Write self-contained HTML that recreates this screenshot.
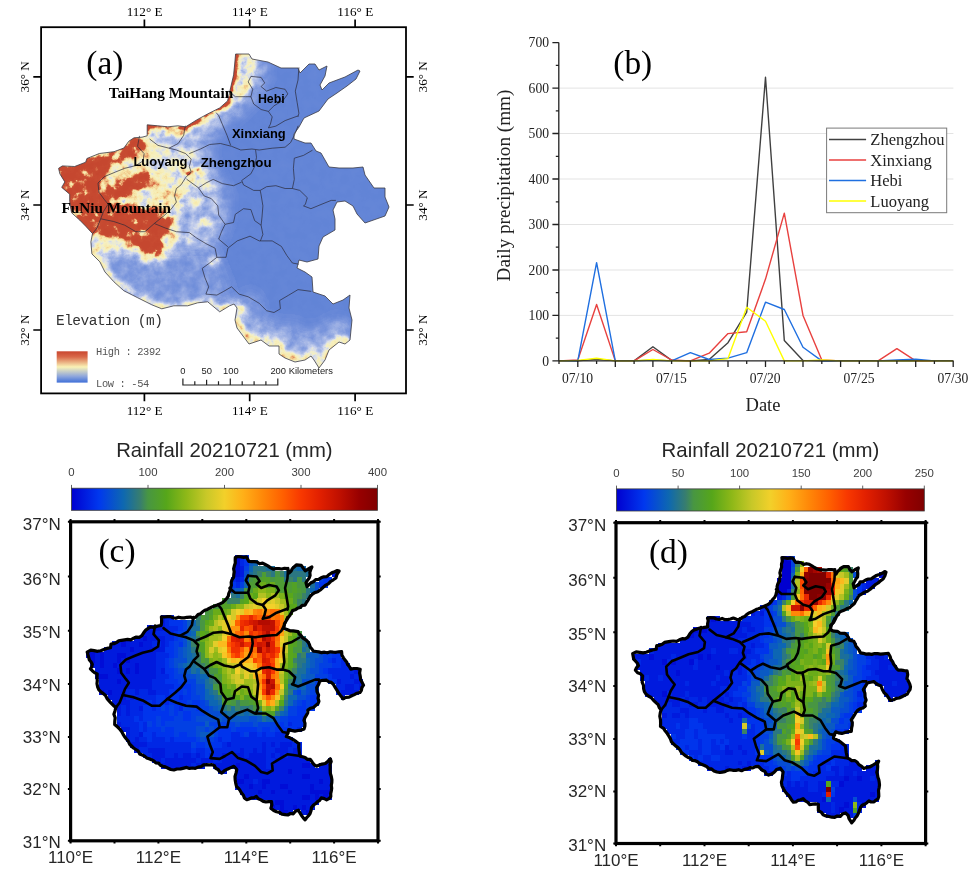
<!DOCTYPE html>
<html lang="en"><head><meta charset="utf-8"><title>Henan rainfall figure</title>
<style>html,body{margin:0;padding:0;background:#fff}svg{display:block}</style></head><body>
<svg width="977" height="877" viewBox="0 0 977 877">
<rect width="977" height="877" fill="#fff"/>
<g id="pa">
<defs>
<clipPath id="prov"><path d="M58.6,168.3L62.3,165.9L74.6,166.5L85.7,162.2L86.9,158.5L99.3,153.5L114,151.7L123.9,148L128.8,141.2L134,137.8L142,137.2L147.2,135.8L147.2,124.8L157.8,125.8L167.8,126.8L177.8,125.8L185.7,126.8L196.7,119.9L207.7,113.9L219.7,107.9L227.6,100.9L230.6,87.9L233.6,74.9L234.6,65L235.6,54L249,54L252,59L268,62L281,68L298,68L300,73L309,64L315,64L319,70L327,66L325,76L320,85L322,90L329,83L345,77L358,70L360,71L356,79L347,86L337,93L328,99L319,111L304,118L299,127L294,134L294,139L305,143L311,143L316,151L321,153L329,167L339,168L353,168L363,167L365,175L374,188L385,188L385,197L389,207L385,216L365,223L357,214L353,206L345,201L337,202L333,210L335,219L335,230L323,237L319,246L318,259L307,262L299,260L297,268L305,272L312,277L313,292L325,296L333,304L343,300L350,295L349,308L352,320L350,340L345,344L339,342L329,350L325,360L319,368L314,360L311,356L305,360L295,362L285,358L279,354L279,346L269,346L261,340L249,344L243,336L237,328L235,320L237,308L234,304L229.6,305.8L219.7,311.8L207.7,301.8L197.7,302.8L187.7,305.8L173.8,305.8L161.8,308.8L151.8,304.8L137.8,297.8L123.9,290.8L113.9,281.8L104.9,271.9L99.9,261.9L91.9,253.9L90.9,241.9L92.5,233.6L85.7,226.2L79.6,220L71.5,212.7L69.7,201.6L69.7,194.2L61.7,187.4L64.8,181.9L59.9,173.9Z"/></clipPath>
<filter id="b8" x="-50%" y="-50%" width="200%" height="200%"><feGaussianBlur stdDeviation="7"/></filter>
<filter id="b4" x="-50%" y="-50%" width="200%" height="200%"><feGaussianBlur stdDeviation="4"/></filter>
<filter id="b2" x="-50%" y="-50%" width="200%" height="200%"><feGaussianBlur stdDeviation="2.2"/></filter>
<filter id="b1" x="-50%" y="-50%" width="200%" height="200%"><feGaussianBlur stdDeviation="1.2"/></filter>
<linearGradient id="elev" x1="0" y1="0" x2="0" y2="1"><stop offset="0" stop-color="#c9462f"/><stop offset="0.18" stop-color="#d9694a"/><stop offset="0.5" stop-color="#faf3b6"/><stop offset="0.8" stop-color="#8ea6dc"/><stop offset="1" stop-color="#3f6fd8"/></linearGradient>
</defs>
<filter id="terrain" x="0" y="0" width="100%" height="100%" color-interpolation-filters="sRGB"><feTurbulence type="fractalNoise" baseFrequency="0.1" numOctaves="5" seed="8" result="n"/><feColorMatrix in="n" type="matrix" values="1.5 0 0 0 -0.25  1.5 0 0 0 -0.25  1.5 0 0 0 -0.25  0 0 0 0 1" result="ng"/><feComposite in="SourceGraphic" in2="ng" operator="arithmetic" k1="1.0" k2="0.5" k3="0" k4="0" result="h"/><feComponentTransfer in="h" result="col"><feFuncR type="table" tableValues="0.373 0.410 0.448 0.486 0.544 0.601 0.659 0.731 0.803 0.871 0.933 0.965 0.967 0.969 0.955 0.941 0.894 0.847 0.816 0.784 0.783 0.782 0.780 0.779 0.778 0.776"/><feFuncG type="table" tableValues="0.510 0.537 0.565 0.592 0.637 0.681 0.725 0.780 0.835 0.884 0.927 0.942 0.928 0.914 0.833 0.753 0.596 0.439 0.369 0.298 0.295 0.293 0.290 0.288 0.285 0.282"/><feFuncB type="table" tableValues="0.839 0.848 0.858 0.867 0.880 0.893 0.906 0.917 0.928 0.894 0.816 0.756 0.715 0.675 0.596 0.518 0.404 0.290 0.243 0.196 0.195 0.193 0.192 0.191 0.190 0.188"/><feFuncA type="linear" slope="0" intercept="1"/></feComponentTransfer></filter>
<g clip-path="url(#prov)"><g filter="url(#terrain)">
<rect x="30" y="20" width="390" height="380" fill="#050505"/>
<path d="M50,160L130,128L150,116L190,118L215,103L230,85L236,48L266,52L266,80L254,100L240,114L220,128L208,150L216,170L228,195L226,225L214,250L200,268L170,270L140,268L110,270L80,255L50,205Z" fill="#3d3d3d" filter="url(#b8)"/>
<path d="M92,252L215,248L228,280L238,314L150,318L106,294Z" fill="#212121" filter="url(#b8)"/>
<path d="M234,304L237,308L235,320L237,328L243,336L249,344L261,340L269,346L279,346L279,354L285,358L295,362L305,360L311,356L314,360L319,368L325,360L329,350L339,342L345,344L350,340" fill="none" stroke="#333333" stroke-width="44" filter="url(#b8)"/>
<path d="M234,304L237,308L235,320L237,328L243,336L249,344L261,340L269,346L279,346L279,354L285,358L295,362L305,360L311,356L314,360L319,368L325,360L329,350L339,342L345,344L350,340" fill="none" stroke="#757575" stroke-width="13" filter="url(#b2)"/>
<path d="M234,304L219.7,311.8L207.7,301.8L187.7,305.8L161.8,308.8L137.8,297.8L113.9,281.8L99.9,261.9L91,245" fill="none" stroke="#666666" stroke-width="9" filter="url(#b2)"/>
<path d="M50,160L130,128L147,118L186,120L187,134L180,146L190,158L201,166L206,175L198,184L188,190L182,205L177,222L179,238L171,252L161,263L147,264L131,254L113,248L105,264L97,260L88,242L50,205Z" fill="#757575" filter="url(#b4)"/>
<ellipse cx="171" cy="157" rx="22" ry="11" fill="#5c5c5c" filter="url(#b4)"/>
<ellipse cx="168" cy="141" rx="14" ry="5" fill="#383838" filter="url(#b2)"/>
<path d="M238,48L256,52L256,74L248,92L238,104L228,104L232,80Z" fill="#6b6b6b" filter="url(#b2)"/>
<ellipse cx="196" cy="200" rx="8" ry="5" fill="#666666" filter="url(#b2)"/>
<ellipse cx="205" cy="222" rx="7" ry="4" fill="#666666" filter="url(#b2)"/>
<ellipse cx="188" cy="238" rx="6" ry="4" fill="#666666" filter="url(#b2)"/>
<ellipse cx="214" cy="262" rx="9" ry="4" fill="#666666" filter="url(#b2)"/>
<ellipse cx="196" cy="172" rx="10" ry="4" fill="#666666" filter="url(#b2)"/>
<ellipse cx="208" cy="188" rx="7" ry="4" fill="#666666" filter="url(#b2)"/>
<path d="M55,166L75,166L86,160L100,154L114,152L124,148L130,141L141,138L145,146L138,154L126,158L114,164L105,172L100,182L101,192L108,200L110,210L104,218L100,228L92,236L78,224L68,208L60,190Z" fill="#e6e6e6" filter="url(#b2)"/>
<path d="M106,188L120,180L136,174L148,172L152,178L142,188L126,196L108,200Z" fill="#e6e6e6" filter="url(#b2)"/>
<path d="M102,204L120,203L138,206L152,208L166,212L174,222L166,232L160,240L162,250L158,258L146,252L134,242L116,236L100,234Z" fill="#e6e6e6" filter="url(#b2)"/>
<path d="M147.2,135.8L147.2,124.8L167.8,126.8L185.7,126.8L196.7,119.9L207.7,113.9L219.7,107.9L227.6,100.9L230.6,87.9L233.6,74.9L234.6,65L235.6,54" fill="none" stroke="#737373" stroke-width="13" filter="url(#b1)"/>
<path d="M147.2,135.8L147.2,124.8L167.8,126.8L185.7,126.8L196.7,119.9L207.7,113.9L219.7,107.9L227.6,100.9L230.6,87.9L233.6,74.9L234.6,65L235.6,54" fill="none" stroke="#cccccc" stroke-width="5" filter="url(#b1)"/>
<path d="M186,175 L200,168" stroke="#bfbfbf" stroke-width="3" filter="url(#b1)"/>
</g></g>
<path d="M149.6,139.0L158.0,145.4L169.0,148.2L178.2,143.5L183.7,135.3L184.7,128.8L185.5,125.7" fill="none" stroke="#2a2a3a" stroke-width="0.7" stroke-linejoin="round"/>
<path d="M139.5,135.9L137.6,146.3L144.1,153.6L143.1,160.9L135.8,165.6L124.7,168.3L115.5,172.0L104.4,176.6L98.0,183.0L98.9,192.2L104.4,199.6L108.1,204.1L103.5,211.5L100.7,218.8L97.0,228.0L92.4,233.8" fill="none" stroke="#2a2a3a" stroke-width="0.7" stroke-linejoin="round"/>
<path d="M169.0,148.2L176.4,150.0L185.7,153.6L191.2,159.1L189.3,166.5L191.2,172.0L185.7,177.5L181.0,184.9L176.4,188.5L174.5,195.9L176.4,202.1L170.8,209.6L163.5,216.1L154.3,223.5L145.0,231.7L135.8,231.7L124.7,225.2L113.7,221.5L100.7,218.8" fill="none" stroke="#2a2a3a" stroke-width="0.7" stroke-linejoin="round"/>
<path d="M189.3,153.6L200.4,149.0L209.6,144.5L220.5,143.5L231.5,146.3L240.8,150.0L251.9,149.0L259.2,150.0L272.2,148.2L285.1,147.2L290.6,142.6L294.3,135.3L298.2,125.7" fill="none" stroke="#2a2a3a" stroke-width="0.7" stroke-linejoin="round"/>
<path d="M216.1,112.6L218.7,115.6L222.3,124.2L227.0,135.3L230.7,145.4" fill="none" stroke="#2a2a3a" stroke-width="0.7" stroke-linejoin="round"/>
<path d="M186.5,179.1L198.5,187.8L205.9,183.0L213.2,179.4L222.3,183.6L233.5,185.7L241.7,182.1" fill="none" stroke="#2a2a3a" stroke-width="0.7" stroke-linejoin="round"/>
<path d="M255.6,150.0L256.5,157.3L254.7,166.5L250.9,173.8L241.7,180.5L243.5,184.9L253.7,190.4L260.2,190.4" fill="none" stroke="#2a2a3a" stroke-width="0.7" stroke-linejoin="round"/>
<path d="M198.5,187.8L204.1,195.9L211.3,198.6L217.8,205.9L218.7,215.1L225.1,224.3L221.5,231.7L218.7,239.1L227.9,246.8" fill="none" stroke="#2a2a3a" stroke-width="0.7" stroke-linejoin="round"/>
<path d="M225.1,224.3L233.5,222.5L235.3,214.3L243.5,208.7L250.9,209.6L254.7,220.7L261.1,225.2" fill="none" stroke="#2a2a3a" stroke-width="0.7" stroke-linejoin="round"/>
<path d="M260.2,190.4L261.1,194.9L262.9,205.9L262.0,217.0L261.1,225.2L262.9,234.4L260.4,240.9" fill="none" stroke="#2a2a3a" stroke-width="0.7" stroke-linejoin="round"/>
<path d="M260.2,190.4L266.6,186.7L275.9,185.7L285.1,188.5L292.4,188.5" fill="none" stroke="#2a2a3a" stroke-width="0.7" stroke-linejoin="round"/>
<path d="M312.5,150.2L303.5,155.4L294.3,158.2L293.4,168.3L294.3,179.3L292.4,188.5L299.8,190.4L307.3,197.7L305.3,204.5L303.5,205.9L310.9,208.7L322.0,204.1L331.2,200.4L335.9,200.4" fill="none" stroke="#2a2a3a" stroke-width="0.7" stroke-linejoin="round"/>
<path d="M154.3,223.5L165.3,228.0L176.4,231.7L189.3,232.6L196.7,238.1L205.9,243.6L215.1,248.2L216.9,257.3L209.6,263.0L202.2,268.4L204.9,277.6L208.7,286.8L205.9,294.1L216.9,295.1L223.3,291.6L231.5,286.8L239.0,294.1L248.2,296.8L259.2,303.3L266.6,310.7L274.0,312.5L280.4,308.8L279.6,300.5L288.8,295.1L298.0,289.6L311.3,291.4" fill="none" stroke="#2a2a3a" stroke-width="0.7" stroke-linejoin="round"/>
<path d="M216.9,257.3L226.0,257.3L227.9,248.2L237.2,240.9L250.0,236.2L259.2,240.9L272.2,240.9L281.4,246.4L286.9,255.6L292.4,263.0L298.8,264.2" fill="none" stroke="#2a2a3a" stroke-width="0.7" stroke-linejoin="round"/>
<path d="M298.9,67.3L298.0,80.1L295.3,91.1L297.1,102.2L298.9,113.2L298.0,116.9" fill="none" stroke="#2a2a3a" stroke-width="0.7" stroke-linejoin="round"/>
<path d="M250.9,76.4L261.1,77.4L264.7,82.9L261.1,86.6L266.6,91.1L275.9,87.5L285.1,89.3L287.8,93.9L283.2,100.3L274.0,105.8L268.4,111.4L272.2,116.9L270.4,124.2L268.4,127.9L275.9,126.1L285.1,120.6L298.0,115.9" fill="none" stroke="#2a2a3a" stroke-width="0.7" stroke-linejoin="round"/>
<path d="M250.9,76.4L248.2,81.9L252.7,89.3L250.9,96.7L253.7,104.0L261.1,109.5L268.4,111.4" fill="none" stroke="#2a2a3a" stroke-width="0.7" stroke-linejoin="round"/>
<path d="M228.7,91.1L235.3,96.7L245.4,96.7L250.9,96.7" fill="none" stroke="#2a2a3a" stroke-width="0.7" stroke-linejoin="round"/>
<path d="M58.6,168.3L62.3,165.9L74.6,166.5L85.7,162.2L86.9,158.5L99.3,153.5L114,151.7L123.9,148L128.8,141.2L134,137.8L142,137.2L147.2,135.8L147.2,124.8L157.8,125.8L167.8,126.8L177.8,125.8L185.7,126.8L196.7,119.9L207.7,113.9L219.7,107.9L227.6,100.9L230.6,87.9L233.6,74.9L234.6,65L235.6,54L249,54L252,59L268,62L281,68L298,68L300,73L309,64L315,64L319,70L327,66L325,76L320,85L322,90L329,83L345,77L358,70L360,71L356,79L347,86L337,93L328,99L319,111L304,118L299,127L294,134L294,139L305,143L311,143L316,151L321,153L329,167L339,168L353,168L363,167L365,175L374,188L385,188L385,197L389,207L385,216L365,223L357,214L353,206L345,201L337,202L333,210L335,219L335,230L323,237L319,246L318,259L307,262L299,260L297,268L305,272L312,277L313,292L325,296L333,304L343,300L350,295L349,308L352,320L350,340L345,344L339,342L329,350L325,360L319,368L314,360L311,356L305,360L295,362L285,358L279,354L279,346L269,346L261,340L249,344L243,336L237,328L235,320L237,308L234,304L229.6,305.8L219.7,311.8L207.7,301.8L197.7,302.8L187.7,305.8L173.8,305.8L161.8,308.8L151.8,304.8L137.8,297.8L123.9,290.8L113.9,281.8L104.9,271.9L99.9,261.9L91.9,253.9L90.9,241.9L92.5,233.6L85.7,226.2L79.6,220L71.5,212.7L69.7,201.6L69.7,194.2L61.7,187.4L64.8,181.9L59.9,173.9Z" fill="none" stroke="#3a3a44" stroke-width="0.8" stroke-linejoin="round"/>
<rect x="41.1" y="27.2" width="364.9" height="366.2" fill="none" stroke="#000" stroke-width="1.8"/>
<path d="M144.4,19.6V27.2M144.4,393.4V401.2M249.7,19.6V27.2M249.7,393.4V401.2M355.1,19.6V27.2M355.1,393.4V401.2M33.3,76.8H41.1M406,76.8H413.7M33.3,205.0H41.1M406,205.0H413.7M33.3,330.0H41.1M406,330.0H413.7" stroke="#000" stroke-width="1.7" fill="none"/>
<text x="144.6" y="16" text-anchor="middle" font-family='"Liberation Serif", serif' font-size="13.2">112° E</text>
<text x="144.6" y="414.9" text-anchor="middle" font-family='"Liberation Serif", serif' font-size="13.2">112° E</text>
<text x="249.9" y="16" text-anchor="middle" font-family='"Liberation Serif", serif' font-size="13.2">114° E</text>
<text x="249.9" y="414.9" text-anchor="middle" font-family='"Liberation Serif", serif' font-size="13.2">114° E</text>
<text x="355.3" y="16" text-anchor="middle" font-family='"Liberation Serif", serif' font-size="13.2">116° E</text>
<text x="355.3" y="414.9" text-anchor="middle" font-family='"Liberation Serif", serif' font-size="13.2">116° E</text>
<text transform="translate(29.2,76.8) rotate(-90)" text-anchor="middle" font-family='"Liberation Serif", serif' font-size="13.2">36° N</text>
<text transform="translate(426.7,76.8) rotate(-90)" text-anchor="middle" font-family='"Liberation Serif", serif' font-size="13.2">36° N</text>
<text transform="translate(29.2,205.0) rotate(-90)" text-anchor="middle" font-family='"Liberation Serif", serif' font-size="13.2">34° N</text>
<text transform="translate(426.7,205.0) rotate(-90)" text-anchor="middle" font-family='"Liberation Serif", serif' font-size="13.2">34° N</text>
<text transform="translate(29.2,330.0) rotate(-90)" text-anchor="middle" font-family='"Liberation Serif", serif' font-size="13.2">32° N</text>
<text transform="translate(426.7,330.0) rotate(-90)" text-anchor="middle" font-family='"Liberation Serif", serif' font-size="13.2">32° N</text>
<text x="86.3" y="73.6" font-family='"Liberation Serif", serif' font-size="33.4">(a)</text>
<text x="108.7" y="98" font-family='"Liberation Serif", serif' font-weight="bold" font-size="15.25">TaiHang Mountain</text>
<text x="61.6" y="213" font-family='"Liberation Serif", serif' font-weight="bold" font-size="15.2">FuNiu Mountain</text>
<text x="257.9" y="103.3" font-family='"Liberation Sans", sans-serif' font-weight="bold" font-size="12.4">Hebi</text>
<text x="232" y="138.4" font-family='"Liberation Sans", sans-serif' font-weight="bold" font-size="12.9">Xinxiang</text>
<text x="200.7" y="166.8" font-family='"Liberation Sans", sans-serif' font-weight="bold" font-size="13.3">Zhengzhou</text>
<text x="133.4" y="165.8" font-family='"Liberation Sans", sans-serif' font-weight="bold" font-size="13">Luoyang</text>
<text x="56" y="325.2" font-family='"Liberation Mono", monospace' font-size="14.5" letter-spacing="-0.52" fill="#333">Elevation (m)</text>
<rect x="56.7" y="351.3" width="30.9" height="31.3" fill="url(#elev)"/>
<text x="96.1" y="355.2" font-family='"Liberation Mono", monospace' font-size="10.4" letter-spacing="-0.37" fill="#555">High : 2392</text>
<text x="96.1" y="386.7" font-family='"Liberation Mono", monospace' font-size="10.4" letter-spacing="-0.37" fill="#555">Low : -54</text>
<path d="M182.9,378.4V385H277.8V378.4M194.8,381.3V385M206.6,379.8V385M218.5,381.3V385M230.3,378.4V385M242.2,381.3V385M254.1,381.3V385M265.9,381.3V385" fill="none" stroke="#222" stroke-width="1.2"/>
<text x="182.9" y="374.3" text-anchor="middle" font-family='"Liberation Sans", sans-serif' font-size="9.4" fill="#222">0</text>
<text x="206.8" y="374.3" text-anchor="middle" font-family='"Liberation Sans", sans-serif' font-size="9.4" fill="#222">50</text>
<text x="230.8" y="374.3" text-anchor="middle" font-family='"Liberation Sans", sans-serif' font-size="9.4" fill="#222">100</text>
<text x="270.4" y="374.3" text-anchor="start" font-family='"Liberation Sans", sans-serif' font-size="9.4" fill="#222">200 Kilometers</text>
</g>
<g id="pb">
<path d="M558.8,315.4H953.4" stroke="#e3e3e3" stroke-width="1"/>
<path d="M558.8,270.0H953.4" stroke="#e3e3e3" stroke-width="1"/>
<path d="M558.8,224.5H953.4" stroke="#e3e3e3" stroke-width="1"/>
<path d="M558.8,179.0H953.4" stroke="#e3e3e3" stroke-width="1"/>
<path d="M558.8,133.5H953.4" stroke="#e3e3e3" stroke-width="1"/>
<path d="M558.8,88.1H953.4" stroke="#e3e3e3" stroke-width="1"/>
<path d="M559.0,360.9L577.8,360.9L596.6,359.1L615.3,360.9L634.1,360.9L652.9,346.8L671.6,360.4L690.4,360.9L709.2,359.5L728.0,342.7L746.7,312.2L765.5,77.2L784.3,340.4L803.0,360.4L821.8,360.9L840.6,360.9L859.3,360.9L878.1,360.9L896.9,360.9L915.7,360.9L934.4,360.9L953.2,360.9" fill="none" stroke="#404040" stroke-width="1.4" stroke-linejoin="round"/>
<path d="M559.0,360.9L577.8,360.0L596.6,304.5L615.3,360.9L634.1,360.9L652.9,349.5L671.6,360.0L690.4,360.9L709.2,353.2L728.0,333.6L746.7,331.8L765.5,279.1L784.3,213.1L803.0,315.4L821.8,360.0L840.6,360.9L859.3,360.9L878.1,360.9L896.9,348.6L915.7,360.9L934.4,360.9L953.2,360.9" fill="none" stroke="#e8413f" stroke-width="1.4" stroke-linejoin="round"/>
<path d="M559.0,360.9L577.8,360.9L596.6,262.7L615.3,360.9L634.1,360.9L652.9,360.0L671.6,360.9L690.4,352.7L709.2,359.5L728.0,358.2L746.7,352.7L765.5,302.2L784.3,309.5L803.0,347.3L821.8,360.9L840.6,360.9L859.3,360.9L878.1,360.9L896.9,360.0L915.7,359.1L934.4,360.9L953.2,360.9" fill="none" stroke="#1f6fe0" stroke-width="1.4" stroke-linejoin="round"/>
<path d="M559.0,360.9L577.8,360.4L596.6,358.2L615.3,360.9L634.1,360.9L652.9,359.5L671.6,360.9L690.4,360.9L709.2,360.9L728.0,358.6L746.7,307.2L765.5,321.3L784.3,360.9L803.0,360.9L821.8,360.0L840.6,360.9L859.3,360.9L878.1,360.9L896.9,360.9L915.7,360.9L934.4,360.9L953.2,360.9" fill="none" stroke="#ffff00" stroke-width="1.4" stroke-linejoin="round"/>
<path d="M558.8,42.6V360.9H953.4M552.4,360.9H558.8M555.8,338.2H558.8M552.4,315.4H558.8M555.8,292.7H558.8M552.4,270.0H558.8M555.8,247.2H558.8M552.4,224.5H558.8M555.8,201.8H558.8M552.4,179.0H558.8M555.8,156.3H558.8M552.4,133.5H558.8M555.8,110.8H558.8M552.4,88.1H558.8M555.8,65.3H558.8M552.4,42.6H558.8M559.0,360.9V363.9M577.8,360.9V367.09999999999997M596.6,360.9V363.9M615.3,360.9V367.09999999999997M634.1,360.9V363.9M652.9,360.9V367.09999999999997M671.6,360.9V363.9M690.4,360.9V367.09999999999997M709.2,360.9V363.9M728.0,360.9V367.09999999999997M746.7,360.9V363.9M765.5,360.9V367.09999999999997M784.3,360.9V363.9M803.0,360.9V367.09999999999997M821.8,360.9V363.9M840.6,360.9V367.09999999999997M859.3,360.9V363.9M878.1,360.9V367.09999999999997M896.9,360.9V363.9M915.7,360.9V367.09999999999997M934.4,360.9V363.9M953.2,360.9V367.09999999999997" fill="none" stroke="#222" stroke-width="1.3"/>
<text x="549" y="365.5" text-anchor="end" font-family='"Liberation Serif", serif' font-size="13.6" fill="#222">0</text>
<text x="549" y="320.0" text-anchor="end" font-family='"Liberation Serif", serif' font-size="13.6" fill="#222">100</text>
<text x="549" y="274.6" text-anchor="end" font-family='"Liberation Serif", serif' font-size="13.6" fill="#222">200</text>
<text x="549" y="229.1" text-anchor="end" font-family='"Liberation Serif", serif' font-size="13.6" fill="#222">300</text>
<text x="549" y="183.6" text-anchor="end" font-family='"Liberation Serif", serif' font-size="13.6" fill="#222">400</text>
<text x="549" y="138.1" text-anchor="end" font-family='"Liberation Serif", serif' font-size="13.6" fill="#222">500</text>
<text x="549" y="92.7" text-anchor="end" font-family='"Liberation Serif", serif' font-size="13.6" fill="#222">600</text>
<text x="549" y="47.2" text-anchor="end" font-family='"Liberation Serif", serif' font-size="13.6" fill="#222">700</text>
<text x="577.5" y="383" text-anchor="middle" font-family='"Liberation Serif", serif' font-size="13.6" fill="#222">07/10</text>
<text x="671.4" y="383" text-anchor="middle" font-family='"Liberation Serif", serif' font-size="13.6" fill="#222">07/15</text>
<text x="765.2" y="383" text-anchor="middle" font-family='"Liberation Serif", serif' font-size="13.6" fill="#222">07/20</text>
<text x="859.0" y="383" text-anchor="middle" font-family='"Liberation Serif", serif' font-size="13.6" fill="#222">07/25</text>
<text x="952.9" y="383" text-anchor="middle" font-family='"Liberation Serif", serif' font-size="13.6" fill="#222">07/30</text>
<text x="763" y="410.8" text-anchor="middle" font-family='"Liberation Serif", serif' font-size="18.5" fill="#222">Date</text>
<text transform="translate(509.6,185.5) rotate(-90)" text-anchor="middle" font-family='"Liberation Serif", serif' font-size="19.2" fill="#222">Daily precipitation (mm)</text>
<text x="613.3" y="73.8" font-family='"Liberation Serif", serif' font-size="33.4">(b)</text>
<rect x="826.6" y="128.1" width="120.1" height="84.6" fill="#fff" stroke="#7a7a7a" stroke-width="1"/>
<path d="M829,139.5H866.1" stroke="#404040" stroke-width="1.5"/>
<text x="870.3" y="145.3" font-family='"Liberation Serif", serif' font-size="16.5" fill="#222">Zhengzhou</text>
<path d="M829,160.0H866.1" stroke="#e8413f" stroke-width="1.5"/>
<text x="870.3" y="165.8" font-family='"Liberation Serif", serif' font-size="16.5" fill="#222">Xinxiang</text>
<path d="M829,180.4H866.1" stroke="#1f6fe0" stroke-width="1.5"/>
<text x="870.3" y="186.2" font-family='"Liberation Serif", serif' font-size="16.5" fill="#222">Hebi</text>
<path d="M829,200.9H866.1" stroke="#ffff00" stroke-width="1.5"/>
<text x="870.3" y="206.7" font-family='"Liberation Serif", serif' font-size="16.5" fill="#222">Luoyang</text>
</g>
<g id="pc">
<text x="224.4" y="457" text-anchor="middle" font-family='"Liberation Sans", sans-serif' font-size="20.3" fill="#262626">Rainfall 20210721 (mm)</text>
<defs><linearGradient id="cbpc" x1="0" y1="0" x2="1" y2="0"><stop offset="0" stop-color="#0000d0"/><stop offset="0.09" stop-color="#0038ee"/><stop offset="0.17" stop-color="#0e68b0"/><stop offset="0.225" stop-color="#387e6e"/><stop offset="0.25" stop-color="#489642"/><stop offset="0.31" stop-color="#56a61a"/><stop offset="0.375" stop-color="#8eb818"/><stop offset="0.44" stop-color="#c8c828"/><stop offset="0.5" stop-color="#f2d02a"/><stop offset="0.56" stop-color="#ffb018"/><stop offset="0.625" stop-color="#ff8808"/><stop offset="0.69" stop-color="#ff6000"/><stop offset="0.75" stop-color="#f83800"/><stop offset="0.81" stop-color="#e22000"/><stop offset="0.875" stop-color="#c01000"/><stop offset="0.94" stop-color="#980000"/><stop offset="1" stop-color="#800000"/></linearGradient></defs>
<rect x="71.5" y="488.2" width="306.0" height="22.1" fill="url(#cbpc)" stroke="#3a3a3a" stroke-width="0.8"/>
<text x="71.5" y="476.1" text-anchor="middle" font-family='"Liberation Sans", sans-serif' font-size="11.4" fill="#404040">0</text>
<text x="148.0" y="476.1" text-anchor="middle" font-family='"Liberation Sans", sans-serif' font-size="11.4" fill="#404040">100</text>
<text x="224.5" y="476.1" text-anchor="middle" font-family='"Liberation Sans", sans-serif' font-size="11.4" fill="#404040">200</text>
<text x="301.0" y="476.1" text-anchor="middle" font-family='"Liberation Sans", sans-serif' font-size="11.4" fill="#404040">300</text>
<text x="377.5" y="476.1" text-anchor="middle" font-family='"Liberation Sans", sans-serif' font-size="11.4" fill="#404040">400</text>
<path d="M71.5,484.9V488.2M148.0,484.9V488.2M224.5,484.9V488.2M301.0,484.9V488.2M377.5,484.9V488.2" stroke="#3a3a3a" stroke-width="0.8"/>
<path d="M279.2,809.9h4.7v5.5h-4.7zM283.6,809.9h4.7v5.5h-4.7zM305.5,809.9h4.7v5.5h-4.7zM270.4,804.7h4.7v5.5h-4.7zM279.2,804.7h4.7v5.5h-4.7zM292.4,804.7h4.7v5.5h-4.7zM301.1,804.7h4.7v5.5h-4.7zM274.8,799.5h4.7v5.5h-4.7zM279.2,799.5h4.7v5.5h-4.7zM301.1,794.3h4.7v5.5h-4.7zM305.5,794.3h4.7v5.5h-4.7zM314.3,794.3h4.7v5.5h-4.7zM323.1,794.3h4.7v5.5h-4.7zM257.2,789.1h4.7v5.5h-4.7zM270.4,789.1h4.7v5.5h-4.7zM288.0,789.1h4.7v5.5h-4.7zM309.9,789.1h4.7v5.5h-4.7zM314.3,789.1h4.7v5.5h-4.7zM318.7,789.1h4.7v5.5h-4.7zM323.1,789.1h4.7v5.5h-4.7zM327.5,789.1h4.7v5.5h-4.7zM248.5,784.0h4.7v5.5h-4.7zM261.6,784.0h4.7v5.5h-4.7zM279.2,784.0h4.7v5.5h-4.7zM283.6,784.0h4.7v5.5h-4.7zM309.9,784.0h4.7v5.5h-4.7zM235.3,778.8h4.7v5.5h-4.7zM239.7,778.8h4.7v5.5h-4.7zM261.6,778.8h4.7v5.5h-4.7zM266.0,778.8h4.7v5.5h-4.7zM318.7,778.8h4.7v5.5h-4.7zM244.1,773.5h4.7v5.5h-4.7zM301.1,773.5h4.7v5.5h-4.7zM305.5,773.5h4.7v5.5h-4.7zM288.0,768.3h4.7v5.5h-4.7zM235.3,763.1h4.7v5.5h-4.7zM301.1,763.1h4.7v5.5h-4.7zM305.5,763.1h4.7v5.5h-4.7zM99.1,689.4h4.7v5.6h-4.7zM107.9,689.4h4.7v5.6h-4.7zM116.7,678.8h4.7v5.6h-4.7zM94.8,673.5h4.7v5.6h-4.7zM99.1,673.5h4.7v5.6h-4.7zM103.5,673.5h4.7v5.6h-4.7zM116.7,668.2h4.7v5.6h-4.7zM125.5,668.2h4.7v5.6h-4.7zM134.3,668.2h4.7v5.6h-4.7zM99.1,662.8h4.7v5.6h-4.7zM112.3,662.8h4.7v5.6h-4.7zM134.3,662.8h4.7v5.6h-4.7zM90.4,657.5h4.7v5.6h-4.7zM99.1,657.5h4.7v5.6h-4.7zM116.7,657.5h4.7v5.6h-4.7zM125.5,657.5h4.7v5.6h-4.7zM86.0,652.1h4.7v5.6h-4.7zM90.4,652.1h4.7v5.6h-4.7zM99.1,652.1h4.7v5.6h-4.7zM116.7,652.1h4.7v5.6h-4.7zM121.1,652.1h4.7v5.6h-4.7zM129.9,646.8h4.7v5.7h-4.7zM121.1,641.4h4.7v5.7h-4.7zM138.7,641.4h4.7v5.7h-4.7zM143.1,636.1h4.7v5.7h-4.7zM235.3,571.1h4.7v5.7h-4.7zM235.3,565.7h4.7v5.8h-4.7zM235.3,560.2h4.7v5.8h-4.7zM235.3,554.8h4.7v5.8h-4.7z" fill="#000dd7" shape-rendering="crispEdges"/>
<path d="M288.0,809.9h4.7v5.5h-4.7zM301.1,809.9h4.7v5.5h-4.7zM274.8,804.7h4.7v5.5h-4.7zM283.6,804.7h4.7v5.5h-4.7zM288.0,804.7h4.7v5.5h-4.7zM296.8,804.7h4.7v5.5h-4.7zM305.5,804.7h4.7v5.5h-4.7zM309.9,804.7h4.7v5.5h-4.7zM270.4,799.5h4.7v5.5h-4.7zM283.6,799.5h4.7v5.5h-4.7zM288.0,799.5h4.7v5.5h-4.7zM292.4,799.5h4.7v5.5h-4.7zM296.8,799.5h4.7v5.5h-4.7zM301.1,799.5h4.7v5.5h-4.7zM305.5,799.5h4.7v5.5h-4.7zM309.9,799.5h4.7v5.5h-4.7zM314.3,799.5h4.7v5.5h-4.7zM244.1,794.3h4.7v5.5h-4.7zM248.5,794.3h4.7v5.5h-4.7zM252.8,794.3h4.7v5.5h-4.7zM257.2,794.3h4.7v5.5h-4.7zM261.6,794.3h4.7v5.5h-4.7zM266.0,794.3h4.7v5.5h-4.7zM270.4,794.3h4.7v5.5h-4.7zM274.8,794.3h4.7v5.5h-4.7zM279.2,794.3h4.7v5.5h-4.7zM283.6,794.3h4.7v5.5h-4.7zM288.0,794.3h4.7v5.5h-4.7zM292.4,794.3h4.7v5.5h-4.7zM296.8,794.3h4.7v5.5h-4.7zM309.9,794.3h4.7v5.5h-4.7zM318.7,794.3h4.7v5.5h-4.7zM327.5,794.3h4.7v5.5h-4.7zM239.7,789.1h4.7v5.5h-4.7zM244.1,789.1h4.7v5.5h-4.7zM248.5,789.1h4.7v5.5h-4.7zM252.8,789.1h4.7v5.5h-4.7zM261.6,789.1h4.7v5.5h-4.7zM266.0,789.1h4.7v5.5h-4.7zM274.8,789.1h4.7v5.5h-4.7zM279.2,789.1h4.7v5.5h-4.7zM283.6,789.1h4.7v5.5h-4.7zM292.4,789.1h4.7v5.5h-4.7zM296.8,789.1h4.7v5.5h-4.7zM301.1,789.1h4.7v5.5h-4.7zM305.5,789.1h4.7v5.5h-4.7zM235.3,784.0h4.7v5.5h-4.7zM239.7,784.0h4.7v5.5h-4.7zM244.1,784.0h4.7v5.5h-4.7zM252.8,784.0h4.7v5.5h-4.7zM257.2,784.0h4.7v5.5h-4.7zM266.0,784.0h4.7v5.5h-4.7zM270.4,784.0h4.7v5.5h-4.7zM274.8,784.0h4.7v5.5h-4.7zM288.0,784.0h4.7v5.5h-4.7zM292.4,784.0h4.7v5.5h-4.7zM296.8,784.0h4.7v5.5h-4.7zM301.1,784.0h4.7v5.5h-4.7zM305.5,784.0h4.7v5.5h-4.7zM314.3,784.0h4.7v5.5h-4.7zM318.7,784.0h4.7v5.5h-4.7zM323.1,784.0h4.7v5.5h-4.7zM327.5,784.0h4.7v5.5h-4.7zM244.1,778.8h4.7v5.5h-4.7zM248.5,778.8h4.7v5.5h-4.7zM257.2,778.8h4.7v5.5h-4.7zM270.4,778.8h4.7v5.5h-4.7zM274.8,778.8h4.7v5.5h-4.7zM279.2,778.8h4.7v5.5h-4.7zM283.6,778.8h4.7v5.5h-4.7zM288.0,778.8h4.7v5.5h-4.7zM292.4,778.8h4.7v5.5h-4.7zM296.8,778.8h4.7v5.5h-4.7zM301.1,778.8h4.7v5.5h-4.7zM305.5,778.8h4.7v5.5h-4.7zM309.9,778.8h4.7v5.5h-4.7zM314.3,778.8h4.7v5.5h-4.7zM323.1,778.8h4.7v5.5h-4.7zM327.5,778.8h4.7v5.5h-4.7zM235.3,773.5h4.7v5.5h-4.7zM239.7,773.5h4.7v5.5h-4.7zM248.5,773.5h4.7v5.5h-4.7zM252.8,773.5h4.7v5.5h-4.7zM257.2,773.5h4.7v5.5h-4.7zM261.6,773.5h4.7v5.5h-4.7zM266.0,773.5h4.7v5.5h-4.7zM270.4,773.5h4.7v5.5h-4.7zM274.8,773.5h4.7v5.5h-4.7zM279.2,773.5h4.7v5.5h-4.7zM283.6,773.5h4.7v5.5h-4.7zM288.0,773.5h4.7v5.5h-4.7zM292.4,773.5h4.7v5.5h-4.7zM296.8,773.5h4.7v5.5h-4.7zM309.9,773.5h4.7v5.5h-4.7zM314.3,773.5h4.7v5.5h-4.7zM318.7,773.5h4.7v5.5h-4.7zM323.1,773.5h4.7v5.5h-4.7zM327.5,773.5h4.7v5.5h-4.7zM217.7,768.3h4.7v5.5h-4.7zM222.1,768.3h4.7v5.5h-4.7zM235.3,768.3h4.7v5.5h-4.7zM239.7,768.3h4.7v5.5h-4.7zM244.1,768.3h4.7v5.5h-4.7zM248.5,768.3h4.7v5.5h-4.7zM252.8,768.3h4.7v5.5h-4.7zM257.2,768.3h4.7v5.5h-4.7zM261.6,768.3h4.7v5.5h-4.7zM266.0,768.3h4.7v5.5h-4.7zM270.4,768.3h4.7v5.5h-4.7zM274.8,768.3h4.7v5.5h-4.7zM279.2,768.3h4.7v5.5h-4.7zM283.6,768.3h4.7v5.5h-4.7zM292.4,768.3h4.7v5.5h-4.7zM296.8,768.3h4.7v5.5h-4.7zM301.1,768.3h4.7v5.5h-4.7zM305.5,768.3h4.7v5.5h-4.7zM309.9,768.3h4.7v5.5h-4.7zM314.3,768.3h4.7v5.5h-4.7zM318.7,768.3h4.7v5.5h-4.7zM323.1,768.3h4.7v5.5h-4.7zM327.5,768.3h4.7v5.5h-4.7zM160.6,763.1h4.7v5.5h-4.7zM165.0,763.1h4.7v5.5h-4.7zM169.4,763.1h4.7v5.5h-4.7zM173.8,763.1h4.7v5.5h-4.7zM178.2,763.1h4.7v5.5h-4.7zM182.6,763.1h4.7v5.5h-4.7zM187.0,763.1h4.7v5.5h-4.7zM195.8,763.1h4.7v5.5h-4.7zM200.1,763.1h4.7v5.5h-4.7zM213.3,763.1h4.7v5.5h-4.7zM217.7,763.1h4.7v5.5h-4.7zM222.1,763.1h4.7v5.5h-4.7zM226.5,763.1h4.7v5.5h-4.7zM230.9,763.1h4.7v5.5h-4.7zM239.7,763.1h4.7v5.5h-4.7zM244.1,763.1h4.7v5.5h-4.7zM248.5,763.1h4.7v5.5h-4.7zM252.8,763.1h4.7v5.5h-4.7zM257.2,763.1h4.7v5.5h-4.7zM261.6,763.1h4.7v5.5h-4.7zM270.4,763.1h4.7v5.5h-4.7zM274.8,763.1h4.7v5.5h-4.7zM279.2,763.1h4.7v5.5h-4.7zM283.6,763.1h4.7v5.5h-4.7zM288.0,763.1h4.7v5.5h-4.7zM292.4,763.1h4.7v5.5h-4.7zM296.8,763.1h4.7v5.5h-4.7zM309.9,763.1h4.7v5.5h-4.7zM318.7,763.1h4.7v5.5h-4.7zM323.1,763.1h4.7v5.5h-4.7zM327.5,763.1h4.7v5.5h-4.7zM151.8,757.9h4.7v5.5h-4.7zM156.2,757.9h4.7v5.5h-4.7zM165.0,757.9h4.7v5.5h-4.7zM169.4,757.9h4.7v5.5h-4.7zM173.8,757.9h4.7v5.5h-4.7zM178.2,757.9h4.7v5.5h-4.7zM182.6,757.9h4.7v5.5h-4.7zM187.0,757.9h4.7v5.5h-4.7zM191.4,757.9h4.7v5.5h-4.7zM200.1,757.9h4.7v5.5h-4.7zM204.5,757.9h4.7v5.5h-4.7zM208.9,757.9h4.7v5.5h-4.7zM222.1,757.9h4.7v5.5h-4.7zM226.5,757.9h4.7v5.5h-4.7zM230.9,757.9h4.7v5.5h-4.7zM235.3,757.9h4.7v5.5h-4.7zM239.7,757.9h4.7v5.5h-4.7zM244.1,757.9h4.7v5.5h-4.7zM248.5,757.9h4.7v5.5h-4.7zM252.8,757.9h4.7v5.5h-4.7zM257.2,757.9h4.7v5.5h-4.7zM261.6,757.9h4.7v5.5h-4.7zM274.8,757.9h4.7v5.5h-4.7zM279.2,757.9h4.7v5.5h-4.7zM283.6,757.9h4.7v5.5h-4.7zM288.0,757.9h4.7v5.5h-4.7zM292.4,757.9h4.7v5.5h-4.7zM296.8,757.9h4.7v5.5h-4.7zM301.1,757.9h4.7v5.5h-4.7zM305.5,757.9h4.7v5.5h-4.7zM327.5,757.9h4.7v5.5h-4.7zM151.8,752.7h4.7v5.5h-4.7zM156.2,752.7h4.7v5.5h-4.7zM160.6,752.7h4.7v5.5h-4.7zM173.8,752.7h4.7v5.5h-4.7zM182.6,752.7h4.7v5.5h-4.7zM187.0,752.7h4.7v5.5h-4.7zM195.8,752.7h4.7v5.5h-4.7zM222.1,752.7h4.7v5.5h-4.7zM226.5,752.7h4.7v5.5h-4.7zM230.9,752.7h4.7v5.5h-4.7zM235.3,752.7h4.7v5.5h-4.7zM239.7,752.7h4.7v5.5h-4.7zM248.5,752.7h4.7v5.5h-4.7zM252.8,752.7h4.7v5.5h-4.7zM257.2,752.7h4.7v5.5h-4.7zM261.6,752.7h4.7v5.5h-4.7zM270.4,752.7h4.7v5.5h-4.7zM279.2,752.7h4.7v5.5h-4.7zM288.0,752.7h4.7v5.5h-4.7zM292.4,752.7h4.7v5.5h-4.7zM296.8,752.7h4.7v5.5h-4.7zM134.3,747.4h4.7v5.5h-4.7zM147.4,747.4h4.7v5.5h-4.7zM151.8,747.4h4.7v5.5h-4.7zM156.2,747.4h4.7v5.5h-4.7zM160.6,747.4h4.7v5.5h-4.7zM239.7,747.4h4.7v5.5h-4.7zM252.8,747.4h4.7v5.5h-4.7zM261.6,747.4h4.7v5.5h-4.7zM274.8,747.4h4.7v5.5h-4.7zM279.2,747.4h4.7v5.5h-4.7zM283.6,747.4h4.7v5.5h-4.7zM292.4,747.4h4.7v5.5h-4.7zM129.9,742.2h4.7v5.5h-4.7zM134.3,742.2h4.7v5.5h-4.7zM138.7,742.2h4.7v5.5h-4.7zM143.1,742.2h4.7v5.5h-4.7zM226.5,742.2h4.7v5.5h-4.7zM261.6,742.2h4.7v5.5h-4.7zM270.4,742.2h4.7v5.5h-4.7zM279.2,742.2h4.7v5.5h-4.7zM283.6,742.2h4.7v5.5h-4.7zM288.0,742.2h4.7v5.5h-4.7zM125.5,736.9h4.7v5.5h-4.7zM134.3,736.9h4.7v5.5h-4.7zM125.5,731.7h4.7v5.6h-4.7zM138.7,731.7h4.7v5.6h-4.7zM121.1,726.4h4.7v5.6h-4.7zM125.5,726.4h4.7v5.6h-4.7zM116.7,721.2h4.7v5.6h-4.7zM116.7,710.6h4.7v5.6h-4.7zM125.5,710.6h4.7v5.6h-4.7zM116.7,705.3h4.7v5.6h-4.7zM125.5,705.3h4.7v5.6h-4.7zM138.7,705.3h4.7v5.6h-4.7zM112.3,700.0h4.7v5.6h-4.7zM116.7,700.0h4.7v5.6h-4.7zM121.1,700.0h4.7v5.6h-4.7zM125.5,700.0h4.7v5.6h-4.7zM107.9,694.7h4.7v5.6h-4.7zM112.3,694.7h4.7v5.6h-4.7zM116.7,694.7h4.7v5.6h-4.7zM121.1,694.7h4.7v5.6h-4.7zM129.9,694.7h4.7v5.6h-4.7zM340.7,694.7h4.7v5.6h-4.7zM103.5,689.4h4.7v5.6h-4.7zM112.3,689.4h4.7v5.6h-4.7zM116.7,689.4h4.7v5.6h-4.7zM121.1,689.4h4.7v5.6h-4.7zM134.3,689.4h4.7v5.6h-4.7zM147.4,689.4h4.7v5.6h-4.7zM151.8,689.4h4.7v5.6h-4.7zM340.7,689.4h4.7v5.6h-4.7zM345.1,689.4h4.7v5.6h-4.7zM349.5,689.4h4.7v5.6h-4.7zM353.8,689.4h4.7v5.6h-4.7zM99.1,684.1h4.7v5.6h-4.7zM103.5,684.1h4.7v5.6h-4.7zM107.9,684.1h4.7v5.6h-4.7zM112.3,684.1h4.7v5.6h-4.7zM116.7,684.1h4.7v5.6h-4.7zM121.1,684.1h4.7v5.6h-4.7zM125.5,684.1h4.7v5.6h-4.7zM129.9,684.1h4.7v5.6h-4.7zM134.3,684.1h4.7v5.6h-4.7zM138.7,684.1h4.7v5.6h-4.7zM143.1,684.1h4.7v5.6h-4.7zM147.4,684.1h4.7v5.6h-4.7zM345.1,684.1h4.7v5.6h-4.7zM349.5,684.1h4.7v5.6h-4.7zM358.2,684.1h4.7v5.6h-4.7zM99.1,678.8h4.7v5.6h-4.7zM103.5,678.8h4.7v5.6h-4.7zM107.9,678.8h4.7v5.6h-4.7zM112.3,678.8h4.7v5.6h-4.7zM121.1,678.8h4.7v5.6h-4.7zM125.5,678.8h4.7v5.6h-4.7zM129.9,678.8h4.7v5.6h-4.7zM134.3,678.8h4.7v5.6h-4.7zM138.7,678.8h4.7v5.6h-4.7zM143.1,678.8h4.7v5.6h-4.7zM147.4,678.8h4.7v5.6h-4.7zM336.3,678.8h4.7v5.6h-4.7zM353.8,678.8h4.7v5.6h-4.7zM358.2,678.8h4.7v5.6h-4.7zM107.9,673.5h4.7v5.6h-4.7zM112.3,673.5h4.7v5.6h-4.7zM116.7,673.5h4.7v5.6h-4.7zM121.1,673.5h4.7v5.6h-4.7zM125.5,673.5h4.7v5.6h-4.7zM129.9,673.5h4.7v5.6h-4.7zM134.3,673.5h4.7v5.6h-4.7zM138.7,673.5h4.7v5.6h-4.7zM143.1,673.5h4.7v5.6h-4.7zM147.4,673.5h4.7v5.6h-4.7zM151.8,673.5h4.7v5.6h-4.7zM349.5,673.5h4.7v5.6h-4.7zM94.8,668.2h4.7v5.6h-4.7zM99.1,668.2h4.7v5.6h-4.7zM103.5,668.2h4.7v5.6h-4.7zM107.9,668.2h4.7v5.6h-4.7zM112.3,668.2h4.7v5.6h-4.7zM121.1,668.2h4.7v5.6h-4.7zM129.9,668.2h4.7v5.6h-4.7zM138.7,668.2h4.7v5.6h-4.7zM143.1,668.2h4.7v5.6h-4.7zM147.4,668.2h4.7v5.6h-4.7zM151.8,668.2h4.7v5.6h-4.7zM160.6,668.2h4.7v5.6h-4.7zM353.8,668.2h4.7v5.6h-4.7zM90.4,662.8h4.7v5.6h-4.7zM94.8,662.8h4.7v5.6h-4.7zM103.5,662.8h4.7v5.6h-4.7zM107.9,662.8h4.7v5.6h-4.7zM116.7,662.8h4.7v5.6h-4.7zM121.1,662.8h4.7v5.6h-4.7zM125.5,662.8h4.7v5.6h-4.7zM129.9,662.8h4.7v5.6h-4.7zM138.7,662.8h4.7v5.6h-4.7zM143.1,662.8h4.7v5.6h-4.7zM147.4,662.8h4.7v5.6h-4.7zM151.8,662.8h4.7v5.6h-4.7zM94.8,657.5h4.7v5.6h-4.7zM103.5,657.5h4.7v5.6h-4.7zM107.9,657.5h4.7v5.6h-4.7zM112.3,657.5h4.7v5.6h-4.7zM121.1,657.5h4.7v5.6h-4.7zM129.9,657.5h4.7v5.6h-4.7zM134.3,657.5h4.7v5.6h-4.7zM138.7,657.5h4.7v5.6h-4.7zM143.1,657.5h4.7v5.6h-4.7zM147.4,657.5h4.7v5.6h-4.7zM151.8,657.5h4.7v5.6h-4.7zM94.8,652.1h4.7v5.6h-4.7zM103.5,652.1h4.7v5.6h-4.7zM107.9,652.1h4.7v5.6h-4.7zM112.3,652.1h4.7v5.6h-4.7zM125.5,652.1h4.7v5.6h-4.7zM129.9,652.1h4.7v5.6h-4.7zM134.3,652.1h4.7v5.6h-4.7zM138.7,652.1h4.7v5.6h-4.7zM143.1,652.1h4.7v5.6h-4.7zM147.4,652.1h4.7v5.6h-4.7zM151.8,652.1h4.7v5.6h-4.7zM103.5,646.8h4.7v5.7h-4.7zM107.9,646.8h4.7v5.7h-4.7zM112.3,646.8h4.7v5.7h-4.7zM116.7,646.8h4.7v5.7h-4.7zM121.1,646.8h4.7v5.7h-4.7zM125.5,646.8h4.7v5.7h-4.7zM134.3,646.8h4.7v5.7h-4.7zM138.7,646.8h4.7v5.7h-4.7zM143.1,646.8h4.7v5.7h-4.7zM147.4,646.8h4.7v5.7h-4.7zM151.8,646.8h4.7v5.7h-4.7zM156.2,646.8h4.7v5.7h-4.7zM160.6,646.8h4.7v5.7h-4.7zM112.3,641.4h4.7v5.7h-4.7zM116.7,641.4h4.7v5.7h-4.7zM125.5,641.4h4.7v5.7h-4.7zM129.9,641.4h4.7v5.7h-4.7zM134.3,641.4h4.7v5.7h-4.7zM143.1,641.4h4.7v5.7h-4.7zM147.4,641.4h4.7v5.7h-4.7zM160.6,641.4h4.7v5.7h-4.7zM134.3,636.1h4.7v5.7h-4.7zM138.7,636.1h4.7v5.7h-4.7zM147.4,636.1h4.7v5.7h-4.7zM151.8,636.1h4.7v5.7h-4.7zM156.2,636.1h4.7v5.7h-4.7zM160.6,636.1h4.7v5.7h-4.7zM143.1,630.7h4.7v5.7h-4.7zM147.4,630.7h4.7v5.7h-4.7zM151.8,630.7h4.7v5.7h-4.7zM147.4,625.3h4.7v5.7h-4.7zM151.8,625.3h4.7v5.7h-4.7zM156.2,625.3h4.7v5.7h-4.7zM160.6,625.3h4.7v5.7h-4.7zM160.6,619.9h4.7v5.7h-4.7zM160.6,614.5h4.7v5.7h-4.7zM235.3,576.6h4.7v5.7h-4.7zM239.7,571.1h4.7v5.7h-4.7zM331.9,571.1h4.7v5.7h-4.7zM239.7,565.7h4.7v5.8h-4.7z" fill="#001ade" shape-rendering="crispEdges"/>
<path d="M252.8,778.8h4.7v5.5h-4.7zM191.4,763.1h4.7v5.5h-4.7zM266.0,763.1h4.7v5.5h-4.7zM160.6,757.9h4.7v5.5h-4.7zM195.8,757.9h4.7v5.5h-4.7zM213.3,757.9h4.7v5.5h-4.7zM217.7,757.9h4.7v5.5h-4.7zM266.0,757.9h4.7v5.5h-4.7zM270.4,757.9h4.7v5.5h-4.7zM143.1,752.7h4.7v5.5h-4.7zM147.4,752.7h4.7v5.5h-4.7zM165.0,752.7h4.7v5.5h-4.7zM169.4,752.7h4.7v5.5h-4.7zM178.2,752.7h4.7v5.5h-4.7zM191.4,752.7h4.7v5.5h-4.7zM200.1,752.7h4.7v5.5h-4.7zM208.9,752.7h4.7v5.5h-4.7zM213.3,752.7h4.7v5.5h-4.7zM217.7,752.7h4.7v5.5h-4.7zM244.1,752.7h4.7v5.5h-4.7zM266.0,752.7h4.7v5.5h-4.7zM274.8,752.7h4.7v5.5h-4.7zM283.6,752.7h4.7v5.5h-4.7zM138.7,747.4h4.7v5.5h-4.7zM143.1,747.4h4.7v5.5h-4.7zM165.0,747.4h4.7v5.5h-4.7zM169.4,747.4h4.7v5.5h-4.7zM173.8,747.4h4.7v5.5h-4.7zM178.2,747.4h4.7v5.5h-4.7zM182.6,747.4h4.7v5.5h-4.7zM187.0,747.4h4.7v5.5h-4.7zM195.8,747.4h4.7v5.5h-4.7zM200.1,747.4h4.7v5.5h-4.7zM213.3,747.4h4.7v5.5h-4.7zM217.7,747.4h4.7v5.5h-4.7zM222.1,747.4h4.7v5.5h-4.7zM226.5,747.4h4.7v5.5h-4.7zM230.9,747.4h4.7v5.5h-4.7zM235.3,747.4h4.7v5.5h-4.7zM244.1,747.4h4.7v5.5h-4.7zM248.5,747.4h4.7v5.5h-4.7zM257.2,747.4h4.7v5.5h-4.7zM266.0,747.4h4.7v5.5h-4.7zM270.4,747.4h4.7v5.5h-4.7zM288.0,747.4h4.7v5.5h-4.7zM296.8,747.4h4.7v5.5h-4.7zM147.4,742.2h4.7v5.5h-4.7zM151.8,742.2h4.7v5.5h-4.7zM156.2,742.2h4.7v5.5h-4.7zM160.6,742.2h4.7v5.5h-4.7zM165.0,742.2h4.7v5.5h-4.7zM169.4,742.2h4.7v5.5h-4.7zM173.8,742.2h4.7v5.5h-4.7zM178.2,742.2h4.7v5.5h-4.7zM182.6,742.2h4.7v5.5h-4.7zM187.0,742.2h4.7v5.5h-4.7zM222.1,742.2h4.7v5.5h-4.7zM230.9,742.2h4.7v5.5h-4.7zM235.3,742.2h4.7v5.5h-4.7zM239.7,742.2h4.7v5.5h-4.7zM244.1,742.2h4.7v5.5h-4.7zM248.5,742.2h4.7v5.5h-4.7zM252.8,742.2h4.7v5.5h-4.7zM257.2,742.2h4.7v5.5h-4.7zM266.0,742.2h4.7v5.5h-4.7zM274.8,742.2h4.7v5.5h-4.7zM292.4,742.2h4.7v5.5h-4.7zM296.8,742.2h4.7v5.5h-4.7zM129.9,736.9h4.7v5.5h-4.7zM138.7,736.9h4.7v5.5h-4.7zM143.1,736.9h4.7v5.5h-4.7zM151.8,736.9h4.7v5.5h-4.7zM156.2,736.9h4.7v5.5h-4.7zM160.6,736.9h4.7v5.5h-4.7zM169.4,736.9h4.7v5.5h-4.7zM217.7,736.9h4.7v5.5h-4.7zM230.9,736.9h4.7v5.5h-4.7zM235.3,736.9h4.7v5.5h-4.7zM239.7,736.9h4.7v5.5h-4.7zM244.1,736.9h4.7v5.5h-4.7zM248.5,736.9h4.7v5.5h-4.7zM252.8,736.9h4.7v5.5h-4.7zM257.2,736.9h4.7v5.5h-4.7zM261.6,736.9h4.7v5.5h-4.7zM266.0,736.9h4.7v5.5h-4.7zM270.4,736.9h4.7v5.5h-4.7zM274.8,736.9h4.7v5.5h-4.7zM279.2,736.9h4.7v5.5h-4.7zM283.6,736.9h4.7v5.5h-4.7zM288.0,736.9h4.7v5.5h-4.7zM129.9,731.7h4.7v5.6h-4.7zM134.3,731.7h4.7v5.6h-4.7zM151.8,731.7h4.7v5.6h-4.7zM230.9,731.7h4.7v5.6h-4.7zM235.3,731.7h4.7v5.6h-4.7zM248.5,731.7h4.7v5.6h-4.7zM252.8,731.7h4.7v5.6h-4.7zM261.6,731.7h4.7v5.6h-4.7zM274.8,731.7h4.7v5.6h-4.7zM279.2,731.7h4.7v5.6h-4.7zM283.6,731.7h4.7v5.6h-4.7zM129.9,726.4h4.7v5.6h-4.7zM134.3,726.4h4.7v5.6h-4.7zM143.1,726.4h4.7v5.6h-4.7zM296.8,726.4h4.7v5.6h-4.7zM121.1,721.2h4.7v5.6h-4.7zM125.5,721.2h4.7v5.6h-4.7zM129.9,721.2h4.7v5.6h-4.7zM134.3,721.2h4.7v5.6h-4.7zM143.1,721.2h4.7v5.6h-4.7zM288.0,721.2h4.7v5.6h-4.7zM116.7,715.9h4.7v5.6h-4.7zM121.1,715.9h4.7v5.6h-4.7zM125.5,715.9h4.7v5.6h-4.7zM129.9,715.9h4.7v5.6h-4.7zM138.7,715.9h4.7v5.6h-4.7zM301.1,715.9h4.7v5.6h-4.7zM121.1,710.6h4.7v5.6h-4.7zM129.9,710.6h4.7v5.6h-4.7zM134.3,710.6h4.7v5.6h-4.7zM138.7,710.6h4.7v5.6h-4.7zM121.1,705.3h4.7v5.6h-4.7zM129.9,705.3h4.7v5.6h-4.7zM134.3,705.3h4.7v5.6h-4.7zM151.8,705.3h4.7v5.6h-4.7zM178.2,705.3h4.7v5.6h-4.7zM129.9,700.0h4.7v5.6h-4.7zM134.3,700.0h4.7v5.6h-4.7zM138.7,700.0h4.7v5.6h-4.7zM143.1,700.0h4.7v5.6h-4.7zM151.8,700.0h4.7v5.6h-4.7zM165.0,700.0h4.7v5.6h-4.7zM125.5,694.7h4.7v5.6h-4.7zM134.3,694.7h4.7v5.6h-4.7zM138.7,694.7h4.7v5.6h-4.7zM143.1,694.7h4.7v5.6h-4.7zM147.4,694.7h4.7v5.6h-4.7zM151.8,694.7h4.7v5.6h-4.7zM165.0,694.7h4.7v5.6h-4.7zM178.2,694.7h4.7v5.6h-4.7zM125.5,689.4h4.7v5.6h-4.7zM129.9,689.4h4.7v5.6h-4.7zM138.7,689.4h4.7v5.6h-4.7zM143.1,689.4h4.7v5.6h-4.7zM156.2,689.4h4.7v5.6h-4.7zM160.6,689.4h4.7v5.6h-4.7zM165.0,689.4h4.7v5.6h-4.7zM336.3,689.4h4.7v5.6h-4.7zM151.8,684.1h4.7v5.6h-4.7zM156.2,684.1h4.7v5.6h-4.7zM160.6,684.1h4.7v5.6h-4.7zM165.0,684.1h4.7v5.6h-4.7zM169.4,684.1h4.7v5.6h-4.7zM336.3,684.1h4.7v5.6h-4.7zM340.7,684.1h4.7v5.6h-4.7zM353.8,684.1h4.7v5.6h-4.7zM151.8,678.8h4.7v5.6h-4.7zM156.2,678.8h4.7v5.6h-4.7zM160.6,678.8h4.7v5.6h-4.7zM340.7,678.8h4.7v5.6h-4.7zM345.1,678.8h4.7v5.6h-4.7zM349.5,678.8h4.7v5.6h-4.7zM156.2,673.5h4.7v5.6h-4.7zM160.6,673.5h4.7v5.6h-4.7zM165.0,673.5h4.7v5.6h-4.7zM331.9,673.5h4.7v5.6h-4.7zM336.3,673.5h4.7v5.6h-4.7zM340.7,673.5h4.7v5.6h-4.7zM345.1,673.5h4.7v5.6h-4.7zM353.8,673.5h4.7v5.6h-4.7zM156.2,668.2h4.7v5.6h-4.7zM327.5,668.2h4.7v5.6h-4.7zM331.9,668.2h4.7v5.6h-4.7zM336.3,668.2h4.7v5.6h-4.7zM340.7,668.2h4.7v5.6h-4.7zM345.1,668.2h4.7v5.6h-4.7zM349.5,668.2h4.7v5.6h-4.7zM156.2,662.8h4.7v5.6h-4.7zM160.6,662.8h4.7v5.6h-4.7zM340.7,662.8h4.7v5.6h-4.7zM345.1,662.8h4.7v5.6h-4.7zM156.2,657.5h4.7v5.6h-4.7zM160.6,657.5h4.7v5.6h-4.7zM331.9,657.5h4.7v5.6h-4.7zM340.7,657.5h4.7v5.6h-4.7zM156.2,652.1h4.7v5.6h-4.7zM160.6,652.1h4.7v5.6h-4.7zM165.0,652.1h4.7v5.6h-4.7zM151.8,641.4h4.7v5.7h-4.7zM156.2,641.4h4.7v5.7h-4.7zM165.0,641.4h4.7v5.7h-4.7zM165.0,636.1h4.7v5.7h-4.7zM169.4,636.1h4.7v5.7h-4.7zM156.2,630.7h4.7v5.7h-4.7zM160.6,630.7h4.7v5.7h-4.7zM165.0,630.7h4.7v5.7h-4.7zM169.4,630.7h4.7v5.7h-4.7zM165.0,625.3h4.7v5.7h-4.7zM169.4,625.3h4.7v5.7h-4.7zM173.8,625.3h4.7v5.7h-4.7zM165.0,619.9h4.7v5.7h-4.7zM165.0,614.5h4.7v5.7h-4.7zM169.4,614.5h4.7v5.7h-4.7zM235.3,582.0h4.7v5.7h-4.7zM230.9,576.6h4.7v5.7h-4.7zM239.7,576.6h4.7v5.7h-4.7zM239.7,560.2h4.7v5.8h-4.7zM239.7,554.8h4.7v5.8h-4.7z" fill="#0027e5" shape-rendering="crispEdges"/>
<path d="M204.5,752.7h4.7v5.5h-4.7zM191.4,747.4h4.7v5.5h-4.7zM204.5,747.4h4.7v5.5h-4.7zM208.9,747.4h4.7v5.5h-4.7zM195.8,742.2h4.7v5.5h-4.7zM200.1,742.2h4.7v5.5h-4.7zM208.9,742.2h4.7v5.5h-4.7zM213.3,742.2h4.7v5.5h-4.7zM217.7,742.2h4.7v5.5h-4.7zM147.4,736.9h4.7v5.5h-4.7zM165.0,736.9h4.7v5.5h-4.7zM173.8,736.9h4.7v5.5h-4.7zM178.2,736.9h4.7v5.5h-4.7zM182.6,736.9h4.7v5.5h-4.7zM187.0,736.9h4.7v5.5h-4.7zM191.4,736.9h4.7v5.5h-4.7zM213.3,736.9h4.7v5.5h-4.7zM222.1,736.9h4.7v5.5h-4.7zM226.5,736.9h4.7v5.5h-4.7zM143.1,731.7h4.7v5.6h-4.7zM147.4,731.7h4.7v5.6h-4.7zM156.2,731.7h4.7v5.6h-4.7zM160.6,731.7h4.7v5.6h-4.7zM165.0,731.7h4.7v5.6h-4.7zM169.4,731.7h4.7v5.6h-4.7zM178.2,731.7h4.7v5.6h-4.7zM182.6,731.7h4.7v5.6h-4.7zM217.7,731.7h4.7v5.6h-4.7zM222.1,731.7h4.7v5.6h-4.7zM226.5,731.7h4.7v5.6h-4.7zM239.7,731.7h4.7v5.6h-4.7zM257.2,731.7h4.7v5.6h-4.7zM266.0,731.7h4.7v5.6h-4.7zM270.4,731.7h4.7v5.6h-4.7zM138.7,726.4h4.7v5.6h-4.7zM147.4,726.4h4.7v5.6h-4.7zM151.8,726.4h4.7v5.6h-4.7zM156.2,726.4h4.7v5.6h-4.7zM165.0,726.4h4.7v5.6h-4.7zM169.4,726.4h4.7v5.6h-4.7zM217.7,726.4h4.7v5.6h-4.7zM222.1,726.4h4.7v5.6h-4.7zM226.5,726.4h4.7v5.6h-4.7zM235.3,726.4h4.7v5.6h-4.7zM239.7,726.4h4.7v5.6h-4.7zM244.1,726.4h4.7v5.6h-4.7zM248.5,726.4h4.7v5.6h-4.7zM252.8,726.4h4.7v5.6h-4.7zM261.6,726.4h4.7v5.6h-4.7zM266.0,726.4h4.7v5.6h-4.7zM274.8,726.4h4.7v5.6h-4.7zM279.2,726.4h4.7v5.6h-4.7zM283.6,726.4h4.7v5.6h-4.7zM288.0,726.4h4.7v5.6h-4.7zM292.4,726.4h4.7v5.6h-4.7zM138.7,721.2h4.7v5.6h-4.7zM151.8,721.2h4.7v5.6h-4.7zM160.6,721.2h4.7v5.6h-4.7zM279.2,721.2h4.7v5.6h-4.7zM292.4,721.2h4.7v5.6h-4.7zM296.8,721.2h4.7v5.6h-4.7zM301.1,721.2h4.7v5.6h-4.7zM134.3,715.9h4.7v5.6h-4.7zM143.1,715.9h4.7v5.6h-4.7zM147.4,715.9h4.7v5.6h-4.7zM151.8,715.9h4.7v5.6h-4.7zM160.6,715.9h4.7v5.6h-4.7zM165.0,715.9h4.7v5.6h-4.7zM169.4,715.9h4.7v5.6h-4.7zM182.6,715.9h4.7v5.6h-4.7zM187.0,715.9h4.7v5.6h-4.7zM288.0,715.9h4.7v5.6h-4.7zM292.4,715.9h4.7v5.6h-4.7zM296.8,715.9h4.7v5.6h-4.7zM143.1,710.6h4.7v5.6h-4.7zM147.4,710.6h4.7v5.6h-4.7zM151.8,710.6h4.7v5.6h-4.7zM156.2,710.6h4.7v5.6h-4.7zM160.6,710.6h4.7v5.6h-4.7zM165.0,710.6h4.7v5.6h-4.7zM173.8,710.6h4.7v5.6h-4.7zM182.6,710.6h4.7v5.6h-4.7zM187.0,710.6h4.7v5.6h-4.7zM296.8,710.6h4.7v5.6h-4.7zM301.1,710.6h4.7v5.6h-4.7zM143.1,705.3h4.7v5.6h-4.7zM147.4,705.3h4.7v5.6h-4.7zM156.2,705.3h4.7v5.6h-4.7zM165.0,705.3h4.7v5.6h-4.7zM173.8,705.3h4.7v5.6h-4.7zM195.8,705.3h4.7v5.6h-4.7zM296.8,705.3h4.7v5.6h-4.7zM301.1,705.3h4.7v5.6h-4.7zM309.9,705.3h4.7v5.6h-4.7zM147.4,700.0h4.7v5.6h-4.7zM156.2,700.0h4.7v5.6h-4.7zM160.6,700.0h4.7v5.6h-4.7zM169.4,700.0h4.7v5.6h-4.7zM173.8,700.0h4.7v5.6h-4.7zM178.2,700.0h4.7v5.6h-4.7zM182.6,700.0h4.7v5.6h-4.7zM191.4,700.0h4.7v5.6h-4.7zM195.8,700.0h4.7v5.6h-4.7zM301.1,700.0h4.7v5.6h-4.7zM309.9,700.0h4.7v5.6h-4.7zM314.3,700.0h4.7v5.6h-4.7zM156.2,694.7h4.7v5.6h-4.7zM160.6,694.7h4.7v5.6h-4.7zM169.4,694.7h4.7v5.6h-4.7zM173.8,694.7h4.7v5.6h-4.7zM182.6,694.7h4.7v5.6h-4.7zM187.0,694.7h4.7v5.6h-4.7zM309.9,694.7h4.7v5.6h-4.7zM314.3,694.7h4.7v5.6h-4.7zM169.4,689.4h4.7v5.6h-4.7zM173.8,689.4h4.7v5.6h-4.7zM178.2,689.4h4.7v5.6h-4.7zM187.0,689.4h4.7v5.6h-4.7zM173.8,684.1h4.7v5.6h-4.7zM178.2,684.1h4.7v5.6h-4.7zM182.6,684.1h4.7v5.6h-4.7zM187.0,684.1h4.7v5.6h-4.7zM165.0,678.8h4.7v5.6h-4.7zM169.4,678.8h4.7v5.6h-4.7zM173.8,678.8h4.7v5.6h-4.7zM327.5,678.8h4.7v5.6h-4.7zM331.9,678.8h4.7v5.6h-4.7zM169.4,673.5h4.7v5.6h-4.7zM327.5,673.5h4.7v5.6h-4.7zM165.0,668.2h4.7v5.6h-4.7zM169.4,668.2h4.7v5.6h-4.7zM323.1,668.2h4.7v5.6h-4.7zM165.0,662.8h4.7v5.6h-4.7zM331.9,662.8h4.7v5.6h-4.7zM336.3,662.8h4.7v5.6h-4.7zM165.0,657.5h4.7v5.6h-4.7zM327.5,657.5h4.7v5.6h-4.7zM336.3,657.5h4.7v5.6h-4.7zM169.4,652.1h4.7v5.6h-4.7zM331.9,652.1h4.7v5.6h-4.7zM336.3,652.1h4.7v5.6h-4.7zM165.0,646.8h4.7v5.7h-4.7zM169.4,646.8h4.7v5.7h-4.7zM169.4,641.4h4.7v5.7h-4.7zM178.2,641.4h4.7v5.7h-4.7zM173.8,636.1h4.7v5.7h-4.7zM173.8,630.7h4.7v5.7h-4.7zM178.2,625.3h4.7v5.7h-4.7zM169.4,619.9h4.7v5.7h-4.7zM173.8,619.9h4.7v5.7h-4.7zM178.2,619.9h4.7v5.7h-4.7zM230.9,582.0h4.7v5.7h-4.7zM318.7,582.0h4.7v5.7h-4.7zM323.1,582.0h4.7v5.7h-4.7zM323.1,576.6h4.7v5.7h-4.7zM327.5,576.6h4.7v5.7h-4.7zM244.1,560.2h4.7v5.8h-4.7zM244.1,554.8h4.7v5.8h-4.7z" fill="#0034ec" shape-rendering="crispEdges"/>
<path d="M191.4,742.2h4.7v5.5h-4.7zM204.5,742.2h4.7v5.5h-4.7zM195.8,736.9h4.7v5.5h-4.7zM204.5,736.9h4.7v5.5h-4.7zM208.9,736.9h4.7v5.5h-4.7zM173.8,731.7h4.7v5.6h-4.7zM187.0,731.7h4.7v5.6h-4.7zM191.4,731.7h4.7v5.6h-4.7zM213.3,731.7h4.7v5.6h-4.7zM244.1,731.7h4.7v5.6h-4.7zM160.6,726.4h4.7v5.6h-4.7zM173.8,726.4h4.7v5.6h-4.7zM178.2,726.4h4.7v5.6h-4.7zM182.6,726.4h4.7v5.6h-4.7zM187.0,726.4h4.7v5.6h-4.7zM191.4,726.4h4.7v5.6h-4.7zM204.5,726.4h4.7v5.6h-4.7zM213.3,726.4h4.7v5.6h-4.7zM230.9,726.4h4.7v5.6h-4.7zM257.2,726.4h4.7v5.6h-4.7zM270.4,726.4h4.7v5.6h-4.7zM147.4,721.2h4.7v5.6h-4.7zM156.2,721.2h4.7v5.6h-4.7zM165.0,721.2h4.7v5.6h-4.7zM169.4,721.2h4.7v5.6h-4.7zM173.8,721.2h4.7v5.6h-4.7zM178.2,721.2h4.7v5.6h-4.7zM182.6,721.2h4.7v5.6h-4.7zM187.0,721.2h4.7v5.6h-4.7zM191.4,721.2h4.7v5.6h-4.7zM195.8,721.2h4.7v5.6h-4.7zM200.1,721.2h4.7v5.6h-4.7zM208.9,721.2h4.7v5.6h-4.7zM213.3,721.2h4.7v5.6h-4.7zM217.7,721.2h4.7v5.6h-4.7zM222.1,721.2h4.7v5.6h-4.7zM226.5,721.2h4.7v5.6h-4.7zM230.9,721.2h4.7v5.6h-4.7zM239.7,721.2h4.7v5.6h-4.7zM244.1,721.2h4.7v5.6h-4.7zM248.5,721.2h4.7v5.6h-4.7zM257.2,721.2h4.7v5.6h-4.7zM261.6,721.2h4.7v5.6h-4.7zM266.0,721.2h4.7v5.6h-4.7zM270.4,721.2h4.7v5.6h-4.7zM274.8,721.2h4.7v5.6h-4.7zM283.6,721.2h4.7v5.6h-4.7zM156.2,715.9h4.7v5.6h-4.7zM173.8,715.9h4.7v5.6h-4.7zM178.2,715.9h4.7v5.6h-4.7zM191.4,715.9h4.7v5.6h-4.7zM279.2,715.9h4.7v5.6h-4.7zM283.6,715.9h4.7v5.6h-4.7zM169.4,710.6h4.7v5.6h-4.7zM178.2,710.6h4.7v5.6h-4.7zM191.4,710.6h4.7v5.6h-4.7zM195.8,710.6h4.7v5.6h-4.7zM200.1,710.6h4.7v5.6h-4.7zM288.0,710.6h4.7v5.6h-4.7zM292.4,710.6h4.7v5.6h-4.7zM160.6,705.3h4.7v5.6h-4.7zM169.4,705.3h4.7v5.6h-4.7zM182.6,705.3h4.7v5.6h-4.7zM187.0,705.3h4.7v5.6h-4.7zM191.4,705.3h4.7v5.6h-4.7zM200.1,705.3h4.7v5.6h-4.7zM204.5,705.3h4.7v5.6h-4.7zM288.0,705.3h4.7v5.6h-4.7zM292.4,705.3h4.7v5.6h-4.7zM305.5,705.3h4.7v5.6h-4.7zM187.0,700.0h4.7v5.6h-4.7zM200.1,700.0h4.7v5.6h-4.7zM296.8,700.0h4.7v5.6h-4.7zM305.5,700.0h4.7v5.6h-4.7zM191.4,694.7h4.7v5.6h-4.7zM195.8,694.7h4.7v5.6h-4.7zM305.5,694.7h4.7v5.6h-4.7zM182.6,689.4h4.7v5.6h-4.7zM191.4,689.4h4.7v5.6h-4.7zM296.8,689.4h4.7v5.6h-4.7zM309.9,689.4h4.7v5.6h-4.7zM314.3,689.4h4.7v5.6h-4.7zM191.4,684.1h4.7v5.6h-4.7zM314.3,684.1h4.7v5.6h-4.7zM178.2,678.8h4.7v5.6h-4.7zM182.6,678.8h4.7v5.6h-4.7zM187.0,678.8h4.7v5.6h-4.7zM191.4,678.8h4.7v5.6h-4.7zM314.3,678.8h4.7v5.6h-4.7zM173.8,673.5h4.7v5.6h-4.7zM178.2,673.5h4.7v5.6h-4.7zM314.3,673.5h4.7v5.6h-4.7zM318.7,673.5h4.7v5.6h-4.7zM323.1,673.5h4.7v5.6h-4.7zM173.8,668.2h4.7v5.6h-4.7zM318.7,668.2h4.7v5.6h-4.7zM169.4,662.8h4.7v5.6h-4.7zM318.7,662.8h4.7v5.6h-4.7zM323.1,662.8h4.7v5.6h-4.7zM327.5,662.8h4.7v5.6h-4.7zM169.4,657.5h4.7v5.6h-4.7zM323.1,657.5h4.7v5.6h-4.7zM173.8,652.1h4.7v5.6h-4.7zM323.1,652.1h4.7v5.6h-4.7zM327.5,652.1h4.7v5.6h-4.7zM173.8,646.8h4.7v5.7h-4.7zM173.8,641.4h4.7v5.7h-4.7zM178.2,636.1h4.7v5.7h-4.7zM178.2,630.7h4.7v5.7h-4.7zM182.6,630.7h4.7v5.7h-4.7zM182.6,625.3h4.7v5.7h-4.7zM182.6,619.9h4.7v5.7h-4.7zM239.7,582.0h4.7v5.7h-4.7zM318.7,576.6h4.7v5.7h-4.7zM244.1,565.7h4.7v5.8h-4.7z" fill="#0240e3" shape-rendering="crispEdges"/>
<path d="M200.1,736.9h4.7v5.5h-4.7zM195.8,731.7h4.7v5.6h-4.7zM195.8,726.4h4.7v5.6h-4.7zM200.1,726.4h4.7v5.6h-4.7zM208.9,726.4h4.7v5.6h-4.7zM235.3,721.2h4.7v5.6h-4.7zM252.8,721.2h4.7v5.6h-4.7zM195.8,715.9h4.7v5.6h-4.7zM200.1,715.9h4.7v5.6h-4.7zM204.5,715.9h4.7v5.6h-4.7zM208.9,715.9h4.7v5.6h-4.7zM213.3,715.9h4.7v5.6h-4.7zM222.1,715.9h4.7v5.6h-4.7zM226.5,715.9h4.7v5.6h-4.7zM248.5,715.9h4.7v5.6h-4.7zM252.8,715.9h4.7v5.6h-4.7zM274.8,715.9h4.7v5.6h-4.7zM204.5,710.6h4.7v5.6h-4.7zM208.9,710.6h4.7v5.6h-4.7zM213.3,710.6h4.7v5.6h-4.7zM217.7,710.6h4.7v5.6h-4.7zM208.9,705.3h4.7v5.6h-4.7zM204.5,700.0h4.7v5.6h-4.7zM292.4,700.0h4.7v5.6h-4.7zM200.1,694.7h4.7v5.6h-4.7zM296.8,694.7h4.7v5.6h-4.7zM301.1,694.7h4.7v5.6h-4.7zM195.8,689.4h4.7v5.6h-4.7zM200.1,689.4h4.7v5.6h-4.7zM292.4,689.4h4.7v5.6h-4.7zM305.5,689.4h4.7v5.6h-4.7zM195.8,684.1h4.7v5.6h-4.7zM200.1,684.1h4.7v5.6h-4.7zM305.5,684.1h4.7v5.6h-4.7zM309.9,684.1h4.7v5.6h-4.7zM301.1,678.8h4.7v5.6h-4.7zM305.5,678.8h4.7v5.6h-4.7zM182.6,673.5h4.7v5.6h-4.7zM187.0,673.5h4.7v5.6h-4.7zM191.4,673.5h4.7v5.6h-4.7zM178.2,668.2h4.7v5.6h-4.7zM182.6,668.2h4.7v5.6h-4.7zM309.9,668.2h4.7v5.6h-4.7zM314.3,668.2h4.7v5.6h-4.7zM173.8,662.8h4.7v5.6h-4.7zM314.3,662.8h4.7v5.6h-4.7zM173.8,657.5h4.7v5.6h-4.7zM178.2,657.5h4.7v5.6h-4.7zM182.6,657.5h4.7v5.6h-4.7zM314.3,657.5h4.7v5.6h-4.7zM318.7,657.5h4.7v5.6h-4.7zM178.2,652.1h4.7v5.6h-4.7zM318.7,652.1h4.7v5.6h-4.7zM178.2,646.8h4.7v5.7h-4.7zM182.6,641.4h4.7v5.7h-4.7zM182.6,636.1h4.7v5.7h-4.7zM230.9,587.5h4.7v5.7h-4.7zM314.3,587.5h4.7v5.7h-4.7zM314.3,582.0h4.7v5.7h-4.7zM244.1,571.1h4.7v5.7h-4.7z" fill="#064dd3" shape-rendering="crispEdges"/>
<path d="M200.1,731.7h4.7v5.6h-4.7zM204.5,731.7h4.7v5.6h-4.7zM208.9,731.7h4.7v5.6h-4.7zM204.5,721.2h4.7v5.6h-4.7zM217.7,715.9h4.7v5.6h-4.7zM230.9,715.9h4.7v5.6h-4.7zM235.3,715.9h4.7v5.6h-4.7zM239.7,715.9h4.7v5.6h-4.7zM244.1,715.9h4.7v5.6h-4.7zM257.2,715.9h4.7v5.6h-4.7zM283.6,710.6h4.7v5.6h-4.7zM213.3,705.3h4.7v5.6h-4.7zM301.1,689.4h4.7v5.6h-4.7zM296.8,684.1h4.7v5.6h-4.7zM195.8,678.8h4.7v5.6h-4.7zM200.1,678.8h4.7v5.6h-4.7zM309.9,678.8h4.7v5.6h-4.7zM195.8,673.5h4.7v5.6h-4.7zM305.5,673.5h4.7v5.6h-4.7zM309.9,673.5h4.7v5.6h-4.7zM187.0,668.2h4.7v5.6h-4.7zM305.5,668.2h4.7v5.6h-4.7zM178.2,662.8h4.7v5.6h-4.7zM309.9,662.8h4.7v5.6h-4.7zM309.9,657.5h4.7v5.6h-4.7zM182.6,652.1h4.7v5.6h-4.7zM305.5,652.1h4.7v5.6h-4.7zM309.9,652.1h4.7v5.6h-4.7zM314.3,652.1h4.7v5.6h-4.7zM182.6,646.8h4.7v5.7h-4.7zM187.0,630.7h4.7v5.7h-4.7zM187.0,625.3h4.7v5.7h-4.7zM187.0,619.9h4.7v5.7h-4.7zM235.3,587.5h4.7v5.7h-4.7zM244.1,576.6h4.7v5.7h-4.7zM248.5,560.2h4.7v5.8h-4.7z" fill="#0a5ac3" shape-rendering="crispEdges"/>
<path d="M261.6,715.9h4.7v5.6h-4.7zM226.5,710.6h4.7v5.6h-4.7zM230.9,710.6h4.7v5.6h-4.7zM235.3,710.6h4.7v5.6h-4.7zM239.7,710.6h4.7v5.6h-4.7zM248.5,710.6h4.7v5.6h-4.7zM252.8,710.6h4.7v5.6h-4.7zM257.2,710.6h4.7v5.6h-4.7zM230.9,705.3h4.7v5.6h-4.7zM217.7,700.0h4.7v5.6h-4.7zM213.3,694.7h4.7v5.6h-4.7zM208.9,689.4h4.7v5.6h-4.7zM204.5,684.1h4.7v5.6h-4.7zM208.9,684.1h4.7v5.6h-4.7zM288.0,684.1h4.7v5.6h-4.7zM292.4,684.1h4.7v5.6h-4.7zM204.5,678.8h4.7v5.6h-4.7zM296.8,678.8h4.7v5.6h-4.7zM292.4,673.5h4.7v5.6h-4.7zM296.8,673.5h4.7v5.6h-4.7zM191.4,668.2h4.7v5.6h-4.7zM296.8,668.2h4.7v5.6h-4.7zM301.1,668.2h4.7v5.6h-4.7zM187.0,662.8h4.7v5.6h-4.7zM191.4,662.8h4.7v5.6h-4.7zM301.1,662.8h4.7v5.6h-4.7zM191.4,652.1h4.7v5.6h-4.7zM301.1,646.8h4.7v5.7h-4.7zM187.0,636.1h4.7v5.7h-4.7zM191.4,636.1h4.7v5.7h-4.7zM191.4,625.3h4.7v5.7h-4.7zM195.8,625.3h4.7v5.7h-4.7zM235.3,592.9h4.7v5.7h-4.7zM309.9,582.0h4.7v5.7h-4.7zM248.5,571.1h4.7v5.7h-4.7zM283.6,571.1h4.7v5.7h-4.7zM305.5,571.1h4.7v5.7h-4.7zM266.0,565.7h4.7v5.8h-4.7zM270.4,565.7h4.7v5.8h-4.7zM292.4,565.7h4.7v5.8h-4.7z" fill="#1b6f9b" shape-rendering="crispEdges"/>
<path d="M266.0,715.9h4.7v5.6h-4.7zM270.4,715.9h4.7v5.6h-4.7zM222.1,710.6h4.7v5.6h-4.7zM244.1,710.6h4.7v5.6h-4.7zM279.2,710.6h4.7v5.6h-4.7zM217.7,705.3h4.7v5.6h-4.7zM283.6,705.3h4.7v5.6h-4.7zM208.9,700.0h4.7v5.6h-4.7zM213.3,700.0h4.7v5.6h-4.7zM288.0,700.0h4.7v5.6h-4.7zM204.5,694.7h4.7v5.6h-4.7zM208.9,694.7h4.7v5.6h-4.7zM288.0,694.7h4.7v5.6h-4.7zM292.4,694.7h4.7v5.6h-4.7zM204.5,689.4h4.7v5.6h-4.7zM301.1,684.1h4.7v5.6h-4.7zM292.4,678.8h4.7v5.6h-4.7zM200.1,673.5h4.7v5.6h-4.7zM204.5,673.5h4.7v5.6h-4.7zM301.1,673.5h4.7v5.6h-4.7zM195.8,668.2h4.7v5.6h-4.7zM182.6,662.8h4.7v5.6h-4.7zM305.5,662.8h4.7v5.6h-4.7zM187.0,657.5h4.7v5.6h-4.7zM191.4,657.5h4.7v5.6h-4.7zM305.5,657.5h4.7v5.6h-4.7zM187.0,652.1h4.7v5.6h-4.7zM187.0,646.8h4.7v5.7h-4.7zM187.0,641.4h4.7v5.7h-4.7zM305.5,641.4h4.7v5.7h-4.7zM191.4,630.7h4.7v5.7h-4.7zM191.4,619.9h4.7v5.7h-4.7zM239.7,587.5h4.7v5.7h-4.7zM309.9,587.5h4.7v5.7h-4.7zM244.1,582.0h4.7v5.7h-4.7zM248.5,565.7h4.7v5.8h-4.7zM296.8,565.7h4.7v5.8h-4.7zM301.1,565.7h4.7v5.8h-4.7zM252.8,560.2h4.7v5.8h-4.7z" fill="#0d66b3" shape-rendering="crispEdges"/>
<path d="M261.6,710.6h4.7v5.6h-4.7zM222.1,700.0h4.7v5.6h-4.7zM226.5,700.0h4.7v5.6h-4.7zM248.5,700.0h4.7v5.6h-4.7zM217.7,689.4h4.7v5.6h-4.7zM217.7,684.1h4.7v5.6h-4.7zM217.7,678.8h4.7v5.6h-4.7zM217.7,673.5h4.7v5.6h-4.7zM288.0,673.5h4.7v5.6h-4.7zM288.0,668.2h4.7v5.6h-4.7zM200.1,657.5h4.7v5.6h-4.7zM200.1,652.1h4.7v5.6h-4.7zM195.8,646.8h4.7v5.7h-4.7zM195.8,641.4h4.7v5.7h-4.7zM200.1,614.5h4.7v5.7h-4.7zM208.9,609.1h4.7v5.7h-4.7zM222.1,598.3h4.7v5.7h-4.7zM292.4,598.3h4.7v5.7h-4.7zM292.4,592.9h4.7v5.7h-4.7zM248.5,587.5h4.7v5.7h-4.7zM279.2,587.5h4.7v5.7h-4.7zM288.0,587.5h4.7v5.7h-4.7zM296.8,587.5h4.7v5.7h-4.7zM248.5,582.0h4.7v5.7h-4.7zM252.8,582.0h4.7v5.7h-4.7zM274.8,582.0h4.7v5.7h-4.7zM279.2,582.0h4.7v5.7h-4.7zM283.6,582.0h4.7v5.7h-4.7zM288.0,582.0h4.7v5.7h-4.7zM252.8,576.6h4.7v5.7h-4.7zM257.2,576.6h4.7v5.7h-4.7zM274.8,576.6h4.7v5.7h-4.7zM279.2,576.6h4.7v5.7h-4.7zM261.6,571.1h4.7v5.7h-4.7z" fill="#4d9c34" shape-rendering="crispEdges"/>
<path d="M266.0,710.6h4.7v5.6h-4.7zM270.4,710.6h4.7v5.6h-4.7zM274.8,705.3h4.7v5.6h-4.7zM252.8,700.0h4.7v5.6h-4.7zM222.1,694.7h4.7v5.6h-4.7zM226.5,694.7h4.7v5.6h-4.7zM230.9,694.7h4.7v5.6h-4.7zM244.1,694.7h4.7v5.6h-4.7zM283.6,684.1h4.7v5.6h-4.7zM213.3,673.5h4.7v5.6h-4.7zM208.9,662.8h4.7v5.6h-4.7zM292.4,652.1h4.7v5.6h-4.7zM200.1,646.8h4.7v5.7h-4.7zM200.1,641.4h4.7v5.7h-4.7zM292.4,641.4h4.7v5.7h-4.7zM204.5,630.7h4.7v5.7h-4.7zM208.9,614.5h4.7v5.7h-4.7zM222.1,603.7h4.7v5.7h-4.7zM226.5,603.7h4.7v5.7h-4.7zM239.7,598.3h4.7v5.7h-4.7zM244.1,592.9h4.7v5.7h-4.7zM274.8,587.5h4.7v5.7h-4.7zM292.4,587.5h4.7v5.7h-4.7zM266.0,582.0h4.7v5.7h-4.7zM292.4,582.0h4.7v5.7h-4.7zM261.6,576.6h4.7v5.7h-4.7zM266.0,576.6h4.7v5.7h-4.7z" fill="#52a126" shape-rendering="crispEdges"/>
<path d="M274.8,710.6h4.7v5.6h-4.7zM222.1,705.3h4.7v5.6h-4.7zM239.7,705.3h4.7v5.6h-4.7zM244.1,705.3h4.7v5.6h-4.7zM283.6,700.0h4.7v5.6h-4.7zM217.7,694.7h4.7v5.6h-4.7zM213.3,689.4h4.7v5.6h-4.7zM288.0,689.4h4.7v5.6h-4.7zM208.9,678.8h4.7v5.6h-4.7zM200.1,668.2h4.7v5.6h-4.7zM204.5,668.2h4.7v5.6h-4.7zM195.8,662.8h4.7v5.6h-4.7zM296.8,662.8h4.7v5.6h-4.7zM296.8,657.5h4.7v5.6h-4.7zM301.1,657.5h4.7v5.6h-4.7zM296.8,652.1h4.7v5.6h-4.7zM191.4,646.8h4.7v5.7h-4.7zM305.5,646.8h4.7v5.7h-4.7zM301.1,641.4h4.7v5.7h-4.7zM301.1,636.1h4.7v5.7h-4.7zM195.8,619.9h4.7v5.7h-4.7zM301.1,598.3h4.7v5.7h-4.7zM230.9,592.9h4.7v5.7h-4.7zM305.5,592.9h4.7v5.7h-4.7zM305.5,587.5h4.7v5.7h-4.7zM283.6,576.6h4.7v5.7h-4.7zM292.4,576.6h4.7v5.7h-4.7zM301.1,576.6h4.7v5.7h-4.7zM252.8,571.1h4.7v5.7h-4.7zM270.4,571.1h4.7v5.7h-4.7zM288.0,571.1h4.7v5.7h-4.7zM292.4,571.1h4.7v5.7h-4.7zM296.8,571.1h4.7v5.7h-4.7zM301.1,571.1h4.7v5.7h-4.7zM252.8,565.7h4.7v5.8h-4.7zM257.2,565.7h4.7v5.8h-4.7zM261.6,565.7h4.7v5.8h-4.7z" fill="#2b7782" shape-rendering="crispEdges"/>
<path d="M226.5,705.3h4.7v5.6h-4.7zM235.3,705.3h4.7v5.6h-4.7zM248.5,705.3h4.7v5.6h-4.7zM279.2,705.3h4.7v5.6h-4.7zM235.3,700.0h4.7v5.6h-4.7zM283.6,694.7h4.7v5.6h-4.7zM213.3,678.8h4.7v5.6h-4.7zM288.0,678.8h4.7v5.6h-4.7zM208.9,673.5h4.7v5.6h-4.7zM292.4,668.2h4.7v5.6h-4.7zM200.1,662.8h4.7v5.6h-4.7zM195.8,657.5h4.7v5.6h-4.7zM292.4,657.5h4.7v5.6h-4.7zM195.8,652.1h4.7v5.6h-4.7zM301.1,652.1h4.7v5.6h-4.7zM191.4,641.4h4.7v5.7h-4.7zM195.8,636.1h4.7v5.7h-4.7zM296.8,636.1h4.7v5.7h-4.7zM195.8,614.5h4.7v5.7h-4.7zM296.8,603.7h4.7v5.7h-4.7zM226.5,598.3h4.7v5.7h-4.7zM230.9,598.3h4.7v5.7h-4.7zM235.3,598.3h4.7v5.7h-4.7zM296.8,598.3h4.7v5.7h-4.7zM239.7,592.9h4.7v5.7h-4.7zM301.1,592.9h4.7v5.7h-4.7zM288.0,576.6h4.7v5.7h-4.7zM257.2,571.1h4.7v5.7h-4.7zM266.0,571.1h4.7v5.7h-4.7zM279.2,571.1h4.7v5.7h-4.7z" fill="#3b8267" shape-rendering="crispEdges"/>
<path d="M252.8,705.3h4.7v5.6h-4.7zM257.2,705.3h4.7v5.6h-4.7zM230.9,700.0h4.7v5.6h-4.7zM239.7,700.0h4.7v5.6h-4.7zM244.1,700.0h4.7v5.6h-4.7zM283.6,689.4h4.7v5.6h-4.7zM213.3,684.1h4.7v5.6h-4.7zM208.9,668.2h4.7v5.6h-4.7zM213.3,668.2h4.7v5.6h-4.7zM204.5,662.8h4.7v5.6h-4.7zM292.4,662.8h4.7v5.6h-4.7zM204.5,657.5h4.7v5.6h-4.7zM292.4,646.8h4.7v5.7h-4.7zM296.8,646.8h4.7v5.7h-4.7zM296.8,641.4h4.7v5.7h-4.7zM195.8,630.7h4.7v5.7h-4.7zM296.8,630.7h4.7v5.7h-4.7zM200.1,625.3h4.7v5.7h-4.7zM200.1,619.9h4.7v5.7h-4.7zM204.5,614.5h4.7v5.7h-4.7zM204.5,609.1h4.7v5.7h-4.7zM213.3,603.7h4.7v5.7h-4.7zM217.7,603.7h4.7v5.7h-4.7zM296.8,592.9h4.7v5.7h-4.7zM244.1,587.5h4.7v5.7h-4.7zM301.1,587.5h4.7v5.7h-4.7zM296.8,582.0h4.7v5.7h-4.7zM301.1,582.0h4.7v5.7h-4.7zM248.5,576.6h4.7v5.7h-4.7zM270.4,576.6h4.7v5.7h-4.7zM296.8,576.6h4.7v5.7h-4.7zM274.8,571.1h4.7v5.7h-4.7z" fill="#489642" shape-rendering="crispEdges"/>
<path d="M261.6,705.3h4.7v5.6h-4.7zM270.4,705.3h4.7v5.6h-4.7zM248.5,684.1h4.7v5.6h-4.7zM244.1,678.8h4.7v5.6h-4.7zM248.5,678.8h4.7v5.6h-4.7zM226.5,673.5h4.7v5.6h-4.7zM239.7,673.5h4.7v5.6h-4.7zM279.2,662.8h4.7v5.6h-4.7zM222.1,657.5h4.7v5.6h-4.7zM217.7,652.1h4.7v5.6h-4.7zM283.6,652.1h4.7v5.6h-4.7zM213.3,646.8h4.7v5.7h-4.7zM208.9,641.4h4.7v5.7h-4.7zM208.9,636.1h4.7v5.7h-4.7zM213.3,636.1h4.7v5.7h-4.7zM213.3,630.7h4.7v5.7h-4.7zM217.7,630.7h4.7v5.7h-4.7zM288.0,630.7h4.7v5.7h-4.7zM208.9,625.3h4.7v5.7h-4.7zM283.6,609.1h4.7v5.7h-4.7zM283.6,603.7h4.7v5.7h-4.7zM248.5,598.3h4.7v5.7h-4.7zM279.2,598.3h4.7v5.7h-4.7zM283.6,598.3h4.7v5.7h-4.7zM274.8,592.9h4.7v5.7h-4.7z" fill="#a1bd1d" shape-rendering="crispEdges"/>
<path d="M266.0,705.3h4.7v5.6h-4.7zM257.2,700.0h4.7v5.6h-4.7zM239.7,694.7h4.7v5.6h-4.7zM279.2,694.7h4.7v5.6h-4.7zM244.1,689.4h4.7v5.6h-4.7zM226.5,684.1h4.7v5.6h-4.7zM222.1,678.8h4.7v5.6h-4.7zM222.1,673.5h4.7v5.6h-4.7zM217.7,662.8h4.7v5.6h-4.7zM283.6,662.8h4.7v5.6h-4.7zM208.9,657.5h4.7v5.6h-4.7zM217.7,657.5h4.7v5.6h-4.7zM204.5,636.1h4.7v5.7h-4.7zM208.9,630.7h4.7v5.7h-4.7zM213.3,614.5h4.7v5.7h-4.7zM226.5,609.1h4.7v5.7h-4.7zM279.2,592.9h4.7v5.7h-4.7zM266.0,587.5h4.7v5.7h-4.7zM270.4,587.5h4.7v5.7h-4.7z" fill="#7cb219" shape-rendering="crispEdges"/>
<path d="M261.6,700.0h4.7v5.6h-4.7zM244.1,673.5h4.7v5.6h-4.7zM244.1,668.2h4.7v5.6h-4.7zM248.5,668.2h4.7v5.6h-4.7zM217.7,646.8h4.7v5.7h-4.7zM213.3,641.4h4.7v5.7h-4.7zM279.2,641.4h4.7v5.7h-4.7zM222.1,630.7h4.7v5.7h-4.7zM222.1,625.3h4.7v5.7h-4.7zM222.1,619.9h4.7v5.7h-4.7zM226.5,619.9h4.7v5.7h-4.7zM239.7,609.1h4.7v5.7h-4.7zM279.2,609.1h4.7v5.7h-4.7zM252.8,603.7h4.7v5.7h-4.7zM274.8,603.7h4.7v5.7h-4.7zM270.4,598.3h4.7v5.7h-4.7z" fill="#e3cd29" shape-rendering="crispEdges"/>
<path d="M266.0,700.0h4.7v5.6h-4.7zM270.4,694.7h4.7v5.6h-4.7zM257.2,678.8h4.7v5.6h-4.7zM274.8,673.5h4.7v5.6h-4.7zM274.8,668.2h4.7v5.6h-4.7zM252.8,652.1h4.7v5.6h-4.7zM244.1,630.7h4.7v5.7h-4.7zM279.2,614.5h4.7v5.7h-4.7zM252.8,609.1h4.7v5.7h-4.7zM266.0,609.1h4.7v5.7h-4.7z" fill="#ff8808" shape-rendering="crispEdges"/>
<path d="M270.4,700.0h4.7v5.6h-4.7zM274.8,662.8h4.7v5.6h-4.7zM244.1,657.5h4.7v5.6h-4.7zM274.8,657.5h4.7v5.6h-4.7zM279.2,646.8h4.7v5.7h-4.7zM244.1,609.1h4.7v5.7h-4.7z" fill="#ffae17" shape-rendering="crispEdges"/>
<path d="M274.8,700.0h4.7v5.6h-4.7zM235.3,684.1h4.7v5.6h-4.7zM230.9,678.8h4.7v5.6h-4.7zM252.8,678.8h4.7v5.6h-4.7zM279.2,678.8h4.7v5.6h-4.7zM248.5,673.5h4.7v5.6h-4.7zM279.2,673.5h4.7v5.6h-4.7zM226.5,668.2h4.7v5.6h-4.7zM208.9,652.1h4.7v5.6h-4.7zM217.7,636.1h4.7v5.7h-4.7zM213.3,625.3h4.7v5.7h-4.7zM213.3,619.9h4.7v5.7h-4.7zM217.7,614.5h4.7v5.7h-4.7zM283.6,614.5h4.7v5.7h-4.7zM252.8,598.3h4.7v5.7h-4.7zM257.2,592.9h4.7v5.7h-4.7zM261.6,592.9h4.7v5.7h-4.7zM270.4,592.9h4.7v5.7h-4.7z" fill="#b3c222" shape-rendering="crispEdges"/>
<path d="M279.2,700.0h4.7v5.6h-4.7zM235.3,694.7h4.7v5.6h-4.7zM248.5,694.7h4.7v5.6h-4.7zM222.1,689.4h4.7v5.6h-4.7zM226.5,689.4h4.7v5.6h-4.7zM222.1,684.1h4.7v5.6h-4.7zM283.6,678.8h4.7v5.6h-4.7zM217.7,668.2h4.7v5.6h-4.7zM288.0,662.8h4.7v5.6h-4.7zM288.0,657.5h4.7v5.6h-4.7zM288.0,652.1h4.7v5.6h-4.7zM288.0,646.8h4.7v5.7h-4.7zM288.0,641.4h4.7v5.7h-4.7zM292.4,636.1h4.7v5.7h-4.7zM200.1,630.7h4.7v5.7h-4.7zM204.5,619.9h4.7v5.7h-4.7zM288.0,609.1h4.7v5.7h-4.7zM288.0,603.7h4.7v5.7h-4.7zM292.4,603.7h4.7v5.7h-4.7zM244.1,598.3h4.7v5.7h-4.7zM252.8,592.9h4.7v5.7h-4.7zM288.0,592.9h4.7v5.7h-4.7zM283.6,587.5h4.7v5.7h-4.7z" fill="#58a71a" shape-rendering="crispEdges"/>
<path d="M252.8,694.7h4.7v5.6h-4.7zM235.3,689.4h4.7v5.6h-4.7zM248.5,689.4h4.7v5.6h-4.7zM239.7,684.1h4.7v5.6h-4.7zM244.1,684.1h4.7v5.6h-4.7zM226.5,678.8h4.7v5.6h-4.7zM222.1,668.2h4.7v5.6h-4.7zM230.9,668.2h4.7v5.6h-4.7zM222.1,662.8h4.7v5.6h-4.7zM213.3,657.5h4.7v5.6h-4.7zM283.6,657.5h4.7v5.6h-4.7zM204.5,652.1h4.7v5.6h-4.7zM213.3,652.1h4.7v5.6h-4.7zM204.5,646.8h4.7v5.7h-4.7zM204.5,641.4h4.7v5.7h-4.7zM217.7,625.3h4.7v5.7h-4.7zM222.1,614.5h4.7v5.7h-4.7zM235.3,603.7h4.7v5.7h-4.7zM239.7,603.7h4.7v5.7h-4.7zM266.0,592.9h4.7v5.7h-4.7zM257.2,587.5h4.7v5.7h-4.7zM261.6,587.5h4.7v5.7h-4.7z" fill="#8eb818" shape-rendering="crispEdges"/>
<path d="M257.2,694.7h4.7v5.6h-4.7zM279.2,684.1h4.7v5.6h-4.7zM235.3,668.2h4.7v5.6h-4.7zM244.1,662.8h4.7v5.6h-4.7zM248.5,662.8h4.7v5.6h-4.7zM226.5,657.5h4.7v5.6h-4.7zM279.2,657.5h4.7v5.6h-4.7zM222.1,646.8h4.7v5.7h-4.7zM222.1,636.1h4.7v5.7h-4.7zM279.2,636.1h4.7v5.7h-4.7zM226.5,614.5h4.7v5.7h-4.7zM235.3,609.1h4.7v5.7h-4.7zM266.0,603.7h4.7v5.7h-4.7zM270.4,603.7h4.7v5.7h-4.7zM261.6,598.3h4.7v5.7h-4.7z" fill="#f2d02a" shape-rendering="crispEdges"/>
<path d="M261.6,694.7h4.7v5.6h-4.7zM274.8,689.4h4.7v5.6h-4.7zM274.8,678.8h4.7v5.6h-4.7zM257.2,673.5h4.7v5.6h-4.7zM244.1,646.8h4.7v5.7h-4.7zM230.9,625.3h4.7v5.7h-4.7zM235.3,625.3h4.7v5.7h-4.7zM235.3,614.5h4.7v5.7h-4.7zM261.6,609.1h4.7v5.7h-4.7z" fill="#ff950d" shape-rendering="crispEdges"/>
<path d="M266.0,694.7h4.7v5.6h-4.7zM261.6,684.1h4.7v5.6h-4.7zM230.9,652.1h4.7v5.6h-4.7zM257.2,652.1h4.7v5.6h-4.7zM274.8,652.1h4.7v5.6h-4.7zM239.7,646.8h4.7v5.7h-4.7zM226.5,641.4h4.7v5.7h-4.7zM239.7,630.7h4.7v5.7h-4.7zM244.1,625.3h4.7v5.7h-4.7z" fill="#fd5400" shape-rendering="crispEdges"/>
<path d="M274.8,694.7h4.7v5.6h-4.7zM252.8,668.2h4.7v5.6h-4.7zM235.3,657.5h4.7v5.6h-4.7zM222.1,652.1h4.7v5.6h-4.7zM226.5,625.3h4.7v5.7h-4.7zM230.9,619.9h4.7v5.7h-4.7zM261.6,603.7h4.7v5.7h-4.7z" fill="#f7c524" shape-rendering="crispEdges"/>
<path d="M230.9,689.4h4.7v5.6h-4.7zM239.7,689.4h4.7v5.6h-4.7zM230.9,684.1h4.7v5.6h-4.7zM283.6,673.5h4.7v5.6h-4.7zM283.6,668.2h4.7v5.6h-4.7zM213.3,662.8h4.7v5.6h-4.7zM200.1,636.1h4.7v5.7h-4.7zM288.0,636.1h4.7v5.7h-4.7zM292.4,630.7h4.7v5.7h-4.7zM204.5,625.3h4.7v5.7h-4.7zM208.9,619.9h4.7v5.7h-4.7zM213.3,609.1h4.7v5.7h-4.7zM217.7,609.1h4.7v5.7h-4.7zM222.1,609.1h4.7v5.7h-4.7zM230.9,603.7h4.7v5.7h-4.7zM288.0,598.3h4.7v5.7h-4.7zM248.5,592.9h4.7v5.7h-4.7zM283.6,592.9h4.7v5.7h-4.7zM252.8,587.5h4.7v5.7h-4.7zM257.2,582.0h4.7v5.7h-4.7zM261.6,582.0h4.7v5.7h-4.7zM270.4,582.0h4.7v5.7h-4.7z" fill="#6aac19" shape-rendering="crispEdges"/>
<path d="M252.8,689.4h4.7v5.6h-4.7zM279.2,689.4h4.7v5.6h-4.7zM252.8,684.1h4.7v5.6h-4.7zM230.9,673.5h4.7v5.6h-4.7zM239.7,668.2h4.7v5.6h-4.7zM279.2,668.2h4.7v5.6h-4.7zM226.5,662.8h4.7v5.6h-4.7zM230.9,662.8h4.7v5.6h-4.7zM283.6,646.8h4.7v5.7h-4.7zM283.6,636.1h4.7v5.7h-4.7zM283.6,630.7h4.7v5.7h-4.7zM244.1,603.7h4.7v5.7h-4.7zM279.2,603.7h4.7v5.7h-4.7zM274.8,598.3h4.7v5.7h-4.7z" fill="#c6c727" shape-rendering="crispEdges"/>
<path d="M257.2,689.4h4.7v5.6h-4.7zM252.8,673.5h4.7v5.6h-4.7zM257.2,668.2h4.7v5.6h-4.7zM239.7,662.8h4.7v5.6h-4.7zM252.8,662.8h4.7v5.6h-4.7zM230.9,657.5h4.7v5.6h-4.7zM248.5,657.5h4.7v5.6h-4.7zM279.2,652.1h4.7v5.6h-4.7zM217.7,641.4h4.7v5.7h-4.7zM222.1,641.4h4.7v5.7h-4.7zM226.5,630.7h4.7v5.7h-4.7zM248.5,609.1h4.7v5.7h-4.7z" fill="#fbba1e" shape-rendering="crispEdges"/>
<path d="M261.6,689.4h4.7v5.6h-4.7zM270.4,668.2h4.7v5.6h-4.7zM270.4,662.8h4.7v5.6h-4.7zM235.3,652.1h4.7v5.6h-4.7zM266.0,652.1h4.7v5.6h-4.7zM274.8,646.8h4.7v5.7h-4.7zM230.9,641.4h4.7v5.7h-4.7zM274.8,625.3h4.7v5.7h-4.7z" fill="#f83800" shape-rendering="crispEdges"/>
<path d="M266.0,689.4h4.7v5.6h-4.7zM270.4,684.1h4.7v5.6h-4.7zM261.6,636.1h4.7v5.7h-4.7zM266.0,630.7h4.7v5.7h-4.7zM257.2,619.9h4.7v5.7h-4.7zM261.6,619.9h4.7v5.7h-4.7zM266.0,619.9h4.7v5.7h-4.7z" fill="#b30b00" shape-rendering="crispEdges"/>
<path d="M270.4,689.4h4.7v5.6h-4.7zM261.6,668.2h4.7v5.6h-4.7zM261.6,662.8h4.7v5.6h-4.7zM270.4,652.1h4.7v5.6h-4.7zM261.6,646.8h4.7v5.7h-4.7zM235.3,641.4h4.7v5.7h-4.7zM252.8,641.4h4.7v5.7h-4.7zM252.8,636.1h4.7v5.7h-4.7zM239.7,625.3h4.7v5.7h-4.7zM244.1,619.9h4.7v5.7h-4.7zM248.5,614.5h4.7v5.7h-4.7z" fill="#e92700" shape-rendering="crispEdges"/>
<path d="M257.2,684.1h4.7v5.6h-4.7zM239.7,657.5h4.7v5.6h-4.7zM226.5,652.1h4.7v5.6h-4.7zM244.1,652.1h4.7v5.6h-4.7zM230.9,630.7h4.7v5.7h-4.7zM279.2,630.7h4.7v5.7h-4.7z" fill="#ffa212" shape-rendering="crispEdges"/>
<path d="M266.0,684.1h4.7v5.6h-4.7zM252.8,625.3h4.7v5.7h-4.7zM261.6,625.3h4.7v5.7h-4.7zM266.0,625.3h4.7v5.7h-4.7zM270.4,625.3h4.7v5.7h-4.7zM270.4,619.9h4.7v5.7h-4.7z" fill="#c01000" shape-rendering="crispEdges"/>
<path d="M274.8,684.1h4.7v5.6h-4.7zM261.6,673.5h4.7v5.6h-4.7zM270.4,673.5h4.7v5.6h-4.7zM239.7,652.1h4.7v5.6h-4.7zM252.8,646.8h4.7v5.7h-4.7zM226.5,636.1h4.7v5.7h-4.7zM274.8,636.1h4.7v5.7h-4.7zM235.3,630.7h4.7v5.7h-4.7zM279.2,625.3h4.7v5.7h-4.7zM274.8,614.5h4.7v5.7h-4.7zM270.4,609.1h4.7v5.7h-4.7z" fill="#ff6e03" shape-rendering="crispEdges"/>
<path d="M235.3,678.8h4.7v5.6h-4.7zM239.7,678.8h4.7v5.6h-4.7zM235.3,673.5h4.7v5.6h-4.7zM235.3,662.8h4.7v5.6h-4.7zM208.9,646.8h4.7v5.7h-4.7zM283.6,641.4h4.7v5.7h-4.7zM217.7,619.9h4.7v5.7h-4.7zM230.9,614.5h4.7v5.7h-4.7zM230.9,609.1h4.7v5.7h-4.7zM248.5,603.7h4.7v5.7h-4.7zM257.2,603.7h4.7v5.7h-4.7zM257.2,598.3h4.7v5.7h-4.7zM266.0,598.3h4.7v5.7h-4.7z" fill="#d5ca29" shape-rendering="crispEdges"/>
<path d="M261.6,678.8h4.7v5.6h-4.7zM230.9,646.8h4.7v5.7h-4.7zM235.3,646.8h4.7v5.7h-4.7zM248.5,646.8h4.7v5.7h-4.7zM244.1,641.4h4.7v5.7h-4.7zM248.5,641.4h4.7v5.7h-4.7zM270.4,636.1h4.7v5.7h-4.7zM248.5,630.7h4.7v5.7h-4.7zM257.2,630.7h4.7v5.7h-4.7zM270.4,630.7h4.7v5.7h-4.7zM239.7,619.9h4.7v5.7h-4.7z" fill="#f03000" shape-rendering="crispEdges"/>
<path d="M266.0,678.8h4.7v5.6h-4.7zM266.0,641.4h4.7v5.7h-4.7z" fill="#910000" shape-rendering="crispEdges"/>
<path d="M270.4,678.8h4.7v5.6h-4.7zM266.0,646.8h4.7v5.7h-4.7zM239.7,641.4h4.7v5.7h-4.7zM257.2,641.4h4.7v5.7h-4.7zM266.0,636.1h4.7v5.7h-4.7zM252.8,619.9h4.7v5.7h-4.7z" fill="#cb1500" shape-rendering="crispEdges"/>
<path d="M266.0,673.5h4.7v5.6h-4.7zM266.0,668.2h4.7v5.6h-4.7zM261.6,657.5h4.7v5.6h-4.7zM261.6,641.4h4.7v5.7h-4.7zM235.3,636.1h4.7v5.7h-4.7zM261.6,630.7h4.7v5.7h-4.7zM248.5,619.9h4.7v5.7h-4.7z" fill="#d61a00" shape-rendering="crispEdges"/>
<path d="M257.2,662.8h4.7v5.6h-4.7zM226.5,646.8h4.7v5.7h-4.7zM274.8,641.4h4.7v5.7h-4.7zM244.1,636.1h4.7v5.7h-4.7zM279.2,619.9h4.7v5.7h-4.7zM270.4,614.5h4.7v5.7h-4.7zM257.2,609.1h4.7v5.7h-4.7zM274.8,609.1h4.7v5.7h-4.7z" fill="#ff7b05" shape-rendering="crispEdges"/>
<path d="M266.0,662.8h4.7v5.6h-4.7zM266.0,657.5h4.7v5.6h-4.7zM261.6,652.1h4.7v5.6h-4.7zM270.4,646.8h4.7v5.7h-4.7zM270.4,641.4h4.7v5.7h-4.7zM230.9,636.1h4.7v5.7h-4.7zM239.7,636.1h4.7v5.7h-4.7zM257.2,625.3h4.7v5.7h-4.7z" fill="#e11f00" shape-rendering="crispEdges"/>
<path d="M252.8,657.5h4.7v5.6h-4.7zM270.4,657.5h4.7v5.6h-4.7zM257.2,636.1h4.7v5.7h-4.7zM252.8,630.7h4.7v5.7h-4.7zM274.8,630.7h4.7v5.7h-4.7zM248.5,625.3h4.7v5.7h-4.7zM274.8,619.9h4.7v5.7h-4.7zM239.7,614.5h4.7v5.7h-4.7zM244.1,614.5h4.7v5.7h-4.7zM252.8,614.5h4.7v5.7h-4.7zM266.0,614.5h4.7v5.7h-4.7z" fill="#fa4600" shape-rendering="crispEdges"/>
<path d="M257.2,657.5h4.7v5.6h-4.7zM248.5,652.1h4.7v5.6h-4.7zM248.5,636.1h4.7v5.7h-4.7zM235.3,619.9h4.7v5.7h-4.7zM257.2,614.5h4.7v5.7h-4.7zM261.6,614.5h4.7v5.7h-4.7z" fill="#ff6200" shape-rendering="crispEdges"/>
<path d="M257.2,646.8h4.7v5.7h-4.7z" fill="#a60600" shape-rendering="crispEdges"/>
<path d="M163.5,628.1L170.5,633.5L179.7,635.8L187.4,631.9L192.0,625.0L192.8,619.6L193.5,617.0" fill="none" stroke="#000" stroke-width="2.6" stroke-linejoin="round" stroke-linecap="round"/>
<path d="M155.1,625.5L153.5,634.2L158.9,640.4L158.1,646.5L152.0,650.4L142.7,652.7L135.0,655.8L125.8,659.6L120.4,665.0L121.2,672.7L125.8,678.9L128.9,682.7L125.0,688.9L122.7,695.0L119.6,702.7L115.8,707.6" fill="none" stroke="#000" stroke-width="2.6" stroke-linejoin="round" stroke-linecap="round"/>
<path d="M179.7,635.8L185.9,637.3L193.6,640.4L198.2,645.0L196.6,651.2L198.2,655.8L193.6,660.4L189.7,666.6L185.9,669.6L184.3,675.8L185.9,681.0L181.2,687.3L175.1,692.7L167.4,698.9L159.7,705.8L152.0,705.8L142.7,700.4L133.5,697.3L122.7,695.0" fill="none" stroke="#000" stroke-width="2.6" stroke-linejoin="round" stroke-linecap="round"/>
<path d="M196.6,640.4L205.9,636.5L213.6,632.7L222.7,631.9L231.9,634.2L239.6,637.3L248.9,636.5L255.0,637.3L265.8,635.8L276.6,635.0L281.2,631.1L284.3,625.0L287.5,617.0" fill="none" stroke="#000" stroke-width="2.6" stroke-linejoin="round" stroke-linecap="round"/>
<path d="M219.0,606.0L221.2,608.5L224.2,615.7L228.1,625.0L231.2,633.5" fill="none" stroke="#000" stroke-width="2.6" stroke-linejoin="round" stroke-linecap="round"/>
<path d="M194.3,661.7L204.3,669.0L210.5,665.0L216.6,662.0L224.2,665.5L233.5,667.3L240.4,664.2" fill="none" stroke="#000" stroke-width="2.6" stroke-linejoin="round" stroke-linecap="round"/>
<path d="M252.0,637.3L252.7,643.5L251.2,651.2L248.1,657.3L240.4,662.9L241.9,666.6L250.4,671.2L255.8,671.2" fill="none" stroke="#000" stroke-width="2.6" stroke-linejoin="round" stroke-linecap="round"/>
<path d="M204.3,669.0L209.0,675.8L215.0,678.1L220.4,684.2L221.2,691.9L226.5,699.6L223.5,705.8L221.2,712.0L228.9,718.5" fill="none" stroke="#000" stroke-width="2.6" stroke-linejoin="round" stroke-linecap="round"/>
<path d="M226.5,699.6L233.5,698.1L235.0,691.2L241.9,686.5L248.1,687.3L251.2,696.6L256.6,700.4" fill="none" stroke="#000" stroke-width="2.6" stroke-linejoin="round" stroke-linecap="round"/>
<path d="M255.8,671.2L256.6,675.0L258.1,684.2L257.3,693.5L256.6,700.4L258.1,708.1L256.0,713.5" fill="none" stroke="#000" stroke-width="2.6" stroke-linejoin="round" stroke-linecap="round"/>
<path d="M255.8,671.2L261.2,668.1L268.9,667.3L276.6,669.6L282.7,669.6" fill="none" stroke="#000" stroke-width="2.6" stroke-linejoin="round" stroke-linecap="round"/>
<path d="M299.5,637.5L292.0,641.9L284.3,644.2L283.5,652.7L284.3,661.9L282.7,669.6L288.9,671.2L295.1,677.3L293.5,683.0L292.0,684.2L298.1,686.5L307.4,682.7L315.1,679.6L319.0,679.6" fill="none" stroke="#000" stroke-width="2.6" stroke-linejoin="round" stroke-linecap="round"/>
<path d="M167.4,698.9L176.6,702.7L185.9,705.8L196.6,706.6L202.8,711.2L210.5,715.8L218.2,719.6L219.7,727.3L213.6,732.0L207.4,736.6L209.7,744.3L212.8,752.0L210.5,758.1L219.7,758.9L225.0,756.0L231.9,752.0L238.1,758.1L245.8,760.4L255.0,765.8L261.2,772.0L267.3,773.5L272.7,770.4L272.0,763.5L279.7,758.9L287.4,754.3L298.5,755.8" fill="none" stroke="#000" stroke-width="2.6" stroke-linejoin="round" stroke-linecap="round"/>
<path d="M219.7,727.3L227.3,727.3L228.9,719.6L236.6,713.5L247.3,709.6L255.0,713.5L265.8,713.5L273.5,718.1L278.1,725.8L282.7,732.0L288.0,733.0" fill="none" stroke="#000" stroke-width="2.6" stroke-linejoin="round" stroke-linecap="round"/>
<path d="M288.1,568.0L287.4,578.8L285.1,588.0L286.6,597.3L288.1,606.5L287.4,609.6" fill="none" stroke="#000" stroke-width="2.6" stroke-linejoin="round" stroke-linecap="round"/>
<path d="M248.1,575.7L256.6,576.5L259.6,581.1L256.6,584.2L261.2,588.0L268.9,585.0L276.6,586.5L278.9,590.3L275.0,595.7L267.3,600.3L262.7,605.0L265.8,609.6L264.3,615.7L262.7,618.8L268.9,617.3L276.6,612.7L287.4,608.8" fill="none" stroke="#000" stroke-width="2.6" stroke-linejoin="round" stroke-linecap="round"/>
<path d="M248.1,575.7L245.8,580.3L249.6,586.5L248.1,592.7L250.4,598.8L256.6,603.4L262.7,605.0" fill="none" stroke="#000" stroke-width="2.6" stroke-linejoin="round" stroke-linecap="round"/>
<path d="M229.5,588.0L235.0,592.7L243.5,592.7L248.1,592.7" fill="none" stroke="#000" stroke-width="2.6" stroke-linejoin="round" stroke-linecap="round"/>
<path d="M87.2,652.1L90.7,650.1L94.1,650.7L97.5,651.3L100.7,650.7L103.8,649.5L106.9,648.4L110.5,647.7L111.0,644.0L113.9,643.7L116.4,642.6L118.7,640.9L121.5,640.3L124.6,639.8L127.6,639.4L130.8,639.8L133.6,638.2L136.3,637.1L139.5,637.3L141.9,635.6L143.8,632.6L146.0,629.8L150.5,626.9L153.9,627.5L157.1,626.2L161.1,625.4L161.6,622.4L161.6,619.3L161.4,616.9L164.4,617.0L167.4,616.6L170.4,616.6L173.1,617.8L175.8,618.3L178.6,617.2L181.5,617.9L184.3,617.9L187.0,617.3L190.4,617.1L193.9,618.3L196.1,616.7L198.0,614.6L200.6,613.7L202.6,611.8L204.8,610.3L207.3,609.4L209.6,608.1L211.9,607.0L214.6,606.0L217.2,605.0L219.8,603.9L222.5,602.6L224.7,600.6L226.7,598.5L228.3,596.1L228.8,593.4L230.0,590.8L230.6,588.0L231.4,585.4L231.2,582.5L231.9,579.8L233.6,577.3L233.8,574.4L234.2,571.7L233.6,568.8L234.3,566.1L235.3,563.1L235.2,560.0L235.3,557.6L238.1,556.5L240.9,556.8L243.7,557.3L246.5,556.9L248.9,561.5L251.6,561.7L254.4,561.6L257.1,562.0L259.5,563.8L262.6,563.1L265.2,564.5L267.9,565.9L270.3,567.6L273.2,569.1L276.0,568.6L278.9,568.6L281.7,569.0L284.5,568.3L287.5,568.6L289.2,572.9L291.1,571.1L292.3,568.6L294.3,566.8L296.6,564.8L301.3,565.4L303.0,567.9L305.2,570.9L308.4,569.0L311.9,567.0L310.7,569.7L309.8,572.4L310.1,575.4L309.1,578.2L307.3,580.4L306.0,582.8L307.1,586.7L308.9,584.7L310.9,582.8L313.4,581.7L315.7,579.6L318.6,579.3L321.1,577.8L323.8,576.8L326.8,576.6L329.2,574.5L331.8,572.8L334.7,571.7L337.3,570.5L339.1,571.1L337.0,574.3L335.9,578.0L333.3,579.8L330.6,581.5L328.3,583.8L325.3,585.4L322.7,587.7L320.2,590.0L317.7,591.7L314.7,592.6L312.1,594.4L310.0,596.7L308.4,599.5L306.7,602.1L305.1,605.1L302.2,605.4L300.1,607.5L297.4,608.3L295.1,609.8L292.5,610.6L291.2,613.2L289.7,615.6L288.0,617.9L286.1,621.0L284.4,623.9L283.9,628.5L287.0,629.6L290.0,630.8L293.2,630.8L298.1,631.6L299.1,634.0L301.3,635.8L302.6,637.8L306.2,640.1L308.1,642.1L309.4,644.5L310.2,647.1L312.1,649.2L313.3,651.2L316.1,651.5L318.8,651.9L321.6,652.7L324.5,652.2L327.4,652.8L330.4,651.8L333.2,652.1L336.1,652.3L338.8,651.8L341.6,651.6L341.9,655.1L343.6,658.1L345.2,660.2L346.8,662.3L347.8,664.8L349.5,666.8L350.8,669.1L353.9,668.5L356.9,668.5L360.2,669.2L359.6,673.0L360.3,676.6L360.6,679.7L362.1,682.4L363.5,685.2L361.9,687.5L361.4,690.3L359.9,692.5L357.0,693.2L354.4,694.6L351.7,695.8L349.1,697.1L346.0,697.4L343.0,698.8L340.9,696.1L338.9,693.4L337.2,690.7L335.2,687.5L333.3,684.2L331.3,682.4L328.7,681.7L326.6,680.2L323.2,680.3L319.9,680.9L318.6,684.4L316.7,687.6L317.0,691.5L318.6,695.2L318.0,698.2L318.9,701.3L317.9,703.8L315.6,705.6L313.4,707.5L310.4,708.2L307.9,710.1L307.7,713.0L306.3,715.4L304.9,717.8L304.0,720.5L305.0,723.3L304.9,726.0L304.1,728.9L301.2,730.1L298.0,730.5L294.9,731.1L291.5,730.4L288.7,729.6L288.0,733.0L286.3,736.6L289.9,737.8L293.2,739.6L296.2,741.6L298.8,743.8L298.7,746.9L299.0,750.1L299.4,753.2L300.0,756.1L302.5,756.7L305.1,757.5L307.2,759.3L310.3,759.3L312.1,762.0L314.0,764.6L316.5,766.2L319.3,765.1L322.1,764.1L325.3,763.5L328.0,761.2L330.3,758.8L331.2,761.6L330.0,764.3L330.2,767.0L330.1,769.7L330.3,773.2L331.3,776.5L331.9,779.7L331.8,782.6L331.3,785.3L331.7,788.2L331.3,791.0L330.7,793.7L330.8,796.6L329.0,798.6L326.6,799.8L324.3,798.6L321.3,797.8L319.8,800.3L317.5,801.7L315.6,803.6L313.5,805.0L311.5,807.5L311.1,810.6L310.1,813.5L308.5,815.7L306.6,817.8L305.1,819.9L303.3,817.9L301.7,815.8L300.4,813.6L298.4,810.2L295.4,811.2L293.3,813.8L290.4,813.5L287.8,815.0L285.0,814.6L282.0,814.2L279.5,812.4L276.5,811.7L273.7,810.5L270.9,808.3L271.9,804.9L271.5,801.5L268.7,801.6L265.9,801.8L263.3,801.4L260.9,799.9L258.3,798.7L256.4,796.4L254.1,797.6L251.3,797.8L249.0,799.0L246.8,799.7L244.4,798.0L243.4,795.3L241.6,793.1L240.2,790.7L238.6,788.4L236.5,786.5L235.7,783.1L235.2,779.9L235.0,776.4L236.0,773.1L236.8,769.5L233.9,766.3L230.2,767.9L227.3,769.2L224.4,770.7L221.8,773.2L219.6,771.7L218.1,769.5L215.7,768.3L214.4,765.7L212.0,764.6L209.2,764.8L206.4,764.7L203.5,764.9L201.0,766.7L198.1,767.1L195.3,768.3L192.4,768.0L189.5,768.4L186.6,767.4L183.8,768.1L180.4,768.9L176.9,769.0L173.9,770.0L170.8,769.5L168.1,768.2L165.4,766.9L162.8,766.3L160.4,765.2L158.6,763.1L155.8,762.8L153.8,760.9L151.5,759.7L149.1,758.7L146.6,757.9L144.6,756.1L142.3,755.0L139.6,753.9L138.3,751.1L135.9,749.5L133.5,748.0L131.5,746.0L129.5,744.0L128.4,741.3L126.6,739.3L124.6,736.8L123.0,734.1L121.6,731.5L119.7,729.0L117.4,726.8L114.7,724.5L114.8,721.1L115.2,717.7L113.9,714.2L115.0,710.9L115.9,707.4L113.6,705.7L111.6,703.7L109.7,701.6L107.3,698.9L105.5,695.5L103.2,693.6L100.8,691.7L98.9,689.8L97.6,686.8L97.0,683.7L97.3,680.6L97.0,677.5L97.2,673.9L94.5,672.6L92.3,670.7L90.4,668.8L91.9,666.6L92.3,664.3L91.1,662.0L89.4,660.0L88.7,657.4Z" fill="none" stroke="#000" stroke-width="3.2" stroke-linejoin="round"/>
<rect x="70.6" y="521.8" width="307.4" height="319.0" fill="none" stroke="#000" stroke-width="3.2"/>
<path d="M70.6,519.1v3M70.6,843.5v-3M114.5,519.1v3M114.5,843.5v-3M158.4,519.1v3M158.4,843.5v-3M202.3,519.1v3M202.3,843.5v-3M246.3,519.1v3M246.3,843.5v-3M290.2,519.1v3M290.2,843.5v-3M334.1,519.1v3M334.1,843.5v-3M378.0,519.1v3M378.0,843.5v-3M67.9,840.8h3M380.7,840.8h-3M67.9,789.1h3M380.7,789.1h-3M67.9,736.9h3M380.7,736.9h-3M67.9,684.1h3M380.7,684.1h-3M67.9,630.7h3M380.7,630.7h-3M67.9,576.6h3M380.7,576.6h-3M67.9,521.8h3M380.7,521.8h-3" stroke="#000" stroke-width="2"/>
<text x="60.8" y="848.3" text-anchor="end" font-family='"Liberation Sans", sans-serif' font-size="17" fill="#262626">31°N</text>
<text x="60.8" y="794.7" text-anchor="end" font-family='"Liberation Sans", sans-serif' font-size="17" fill="#262626">32°N</text>
<text x="60.8" y="742.6" text-anchor="end" font-family='"Liberation Sans", sans-serif' font-size="17" fill="#262626">33°N</text>
<text x="60.8" y="690.5" text-anchor="end" font-family='"Liberation Sans", sans-serif' font-size="17" fill="#262626">34°N</text>
<text x="60.8" y="638.4" text-anchor="end" font-family='"Liberation Sans", sans-serif' font-size="17" fill="#262626">35°N</text>
<text x="60.8" y="584.7" text-anchor="end" font-family='"Liberation Sans", sans-serif' font-size="17" fill="#262626">36°N</text>
<text x="60.8" y="530.1" text-anchor="end" font-family='"Liberation Sans", sans-serif' font-size="17" fill="#262626">37°N</text>
<text x="70.6" y="862.9" text-anchor="middle" font-family='"Liberation Sans", sans-serif' font-size="17" fill="#262626">110°E</text>
<text x="158.4" y="862.9" text-anchor="middle" font-family='"Liberation Sans", sans-serif' font-size="17" fill="#262626">112°E</text>
<text x="246.3" y="862.9" text-anchor="middle" font-family='"Liberation Sans", sans-serif' font-size="17" fill="#262626">114°E</text>
<text x="334.1" y="862.9" text-anchor="middle" font-family='"Liberation Sans", sans-serif' font-size="17" fill="#262626">116°E</text>
<text x="98.5" y="561.6" font-family='"Liberation Serif", serif' font-size="33.4">(c)</text>
</g>
<g id="pd">
<text x="770.4" y="457.4" text-anchor="middle" font-family='"Liberation Sans", sans-serif' font-size="20.4" fill="#262626">Rainfall 20210721 (mm)</text>
<defs><linearGradient id="cbpd" x1="0" y1="0" x2="1" y2="0"><stop offset="0" stop-color="#0000d0"/><stop offset="0.09" stop-color="#0038ee"/><stop offset="0.17" stop-color="#0e68b0"/><stop offset="0.225" stop-color="#387e6e"/><stop offset="0.25" stop-color="#489642"/><stop offset="0.31" stop-color="#56a61a"/><stop offset="0.375" stop-color="#8eb818"/><stop offset="0.44" stop-color="#c8c828"/><stop offset="0.5" stop-color="#f2d02a"/><stop offset="0.56" stop-color="#ffb018"/><stop offset="0.625" stop-color="#ff8808"/><stop offset="0.69" stop-color="#ff6000"/><stop offset="0.75" stop-color="#f83800"/><stop offset="0.81" stop-color="#e22000"/><stop offset="0.875" stop-color="#c01000"/><stop offset="0.94" stop-color="#980000"/><stop offset="1" stop-color="#800000"/></linearGradient></defs>
<rect x="616.5" y="488.9" width="307.8" height="22.1" fill="url(#cbpd)" stroke="#3a3a3a" stroke-width="0.8"/>
<text x="616.5" y="476.8" text-anchor="middle" font-family='"Liberation Sans", sans-serif' font-size="11.4" fill="#404040">0</text>
<text x="678.1" y="476.8" text-anchor="middle" font-family='"Liberation Sans", sans-serif' font-size="11.4" fill="#404040">50</text>
<text x="739.6" y="476.8" text-anchor="middle" font-family='"Liberation Sans", sans-serif' font-size="11.4" fill="#404040">100</text>
<text x="801.2" y="476.8" text-anchor="middle" font-family='"Liberation Sans", sans-serif' font-size="11.4" fill="#404040">150</text>
<text x="862.7" y="476.8" text-anchor="middle" font-family='"Liberation Sans", sans-serif' font-size="11.4" fill="#404040">200</text>
<text x="924.3" y="476.8" text-anchor="middle" font-family='"Liberation Sans", sans-serif' font-size="11.4" fill="#404040">250</text>
<path d="M616.5,485.6V488.9M678.1,485.6V488.9M739.6,485.6V488.9M801.2,485.6V488.9M862.7,485.6V488.9M924.3,485.6V488.9" stroke="#3a3a3a" stroke-width="0.8"/>
<path d="M826.1,812.4h4.7v5.5h-4.7zM830.5,812.4h4.7v5.5h-4.7zM834.9,812.4h4.7v5.5h-4.7zM848.2,812.4h4.7v5.5h-4.7zM817.2,807.2h4.7v5.5h-4.7zM821.7,807.2h4.7v5.5h-4.7zM826.1,807.2h4.7v5.5h-4.7zM834.9,807.2h4.7v5.5h-4.7zM843.8,807.2h4.7v5.5h-4.7zM848.2,807.2h4.7v5.5h-4.7zM817.2,802.0h4.7v5.5h-4.7zM821.7,802.0h4.7v5.5h-4.7zM826.1,802.0h4.7v5.5h-4.7zM834.9,802.0h4.7v5.5h-4.7zM839.4,802.0h4.7v5.5h-4.7zM848.2,802.0h4.7v5.5h-4.7zM790.7,796.8h4.7v5.5h-4.7zM795.1,796.8h4.7v5.5h-4.7zM799.5,796.8h4.7v5.5h-4.7zM804.0,796.8h4.7v5.5h-4.7zM808.4,796.8h4.7v5.5h-4.7zM812.8,796.8h4.7v5.5h-4.7zM817.2,796.8h4.7v5.5h-4.7zM830.5,796.8h4.7v5.5h-4.7zM834.9,796.8h4.7v5.5h-4.7zM839.4,796.8h4.7v5.5h-4.7zM843.8,796.8h4.7v5.5h-4.7zM848.2,796.8h4.7v5.5h-4.7zM857.0,796.8h4.7v5.5h-4.7zM861.5,796.8h4.7v5.5h-4.7zM865.9,796.8h4.7v5.5h-4.7zM870.3,796.8h4.7v5.5h-4.7zM874.7,796.8h4.7v5.5h-4.7zM786.3,791.6h4.7v5.5h-4.7zM790.7,791.6h4.7v5.5h-4.7zM795.1,791.6h4.7v5.5h-4.7zM799.5,791.6h4.7v5.5h-4.7zM804.0,791.6h4.7v5.5h-4.7zM808.4,791.6h4.7v5.5h-4.7zM812.8,791.6h4.7v5.5h-4.7zM817.2,791.6h4.7v5.5h-4.7zM834.9,791.6h4.7v5.5h-4.7zM839.4,791.6h4.7v5.5h-4.7zM843.8,791.6h4.7v5.5h-4.7zM848.2,791.6h4.7v5.5h-4.7zM852.6,791.6h4.7v5.5h-4.7zM857.0,791.6h4.7v5.5h-4.7zM861.5,791.6h4.7v5.5h-4.7zM865.9,791.6h4.7v5.5h-4.7zM874.7,791.6h4.7v5.5h-4.7zM781.9,786.3h4.7v5.5h-4.7zM786.3,786.3h4.7v5.5h-4.7zM790.7,786.3h4.7v5.5h-4.7zM795.1,786.3h4.7v5.5h-4.7zM799.5,786.3h4.7v5.5h-4.7zM804.0,786.3h4.7v5.5h-4.7zM817.2,786.3h4.7v5.5h-4.7zM821.7,786.3h4.7v5.5h-4.7zM834.9,786.3h4.7v5.5h-4.7zM839.4,786.3h4.7v5.5h-4.7zM843.8,786.3h4.7v5.5h-4.7zM848.2,786.3h4.7v5.5h-4.7zM852.6,786.3h4.7v5.5h-4.7zM857.0,786.3h4.7v5.5h-4.7zM861.5,786.3h4.7v5.5h-4.7zM865.9,786.3h4.7v5.5h-4.7zM870.3,786.3h4.7v5.5h-4.7zM874.7,786.3h4.7v5.5h-4.7zM786.3,781.1h4.7v5.5h-4.7zM795.1,781.1h4.7v5.5h-4.7zM804.0,781.1h4.7v5.5h-4.7zM817.2,781.1h4.7v5.5h-4.7zM821.7,781.1h4.7v5.5h-4.7zM843.8,781.1h4.7v5.5h-4.7zM848.2,781.1h4.7v5.5h-4.7zM852.6,781.1h4.7v5.5h-4.7zM857.0,781.1h4.7v5.5h-4.7zM861.5,781.1h4.7v5.5h-4.7zM865.9,781.1h4.7v5.5h-4.7zM870.3,781.1h4.7v5.5h-4.7zM874.7,781.1h4.7v5.5h-4.7zM826.1,775.9h4.7v5.5h-4.7zM830.5,775.9h4.7v5.5h-4.7zM834.9,775.9h4.7v5.5h-4.7zM839.4,775.9h4.7v5.5h-4.7zM848.2,775.9h4.7v5.5h-4.7zM852.6,775.9h4.7v5.5h-4.7zM861.5,775.9h4.7v5.5h-4.7zM865.9,775.9h4.7v5.5h-4.7zM874.7,775.9h4.7v5.5h-4.7zM764.2,770.6h4.7v5.5h-4.7zM768.6,770.6h4.7v5.5h-4.7zM834.9,770.6h4.7v5.5h-4.7zM843.8,770.6h4.7v5.5h-4.7zM848.2,770.6h4.7v5.5h-4.7zM857.0,770.6h4.7v5.5h-4.7zM861.5,770.6h4.7v5.5h-4.7zM865.9,770.6h4.7v5.5h-4.7zM870.3,770.6h4.7v5.5h-4.7zM874.7,770.6h4.7v5.5h-4.7zM706.7,765.4h4.7v5.5h-4.7zM724.4,765.4h4.7v5.5h-4.7zM742.1,765.4h4.7v5.5h-4.7zM746.5,765.4h4.7v5.5h-4.7zM830.5,765.4h4.7v5.5h-4.7zM834.9,765.4h4.7v5.5h-4.7zM843.8,765.4h4.7v5.5h-4.7zM848.2,765.4h4.7v5.5h-4.7zM852.6,765.4h4.7v5.5h-4.7zM857.0,765.4h4.7v5.5h-4.7zM865.9,765.4h4.7v5.5h-4.7zM870.3,765.4h4.7v5.5h-4.7zM874.7,765.4h4.7v5.5h-4.7zM737.6,760.1h4.7v5.6h-4.7zM746.5,760.1h4.7v5.6h-4.7zM848.2,760.1h4.7v5.6h-4.7zM852.6,760.1h4.7v5.6h-4.7zM874.7,760.1h4.7v5.6h-4.7zM843.8,754.9h4.7v5.6h-4.7zM724.4,749.6h4.7v5.6h-4.7zM728.8,749.6h4.7v5.6h-4.7zM742.1,749.6h4.7v5.6h-4.7zM724.4,744.3h4.7v5.6h-4.7zM737.6,744.3h4.7v5.6h-4.7zM728.8,717.9h4.7v5.6h-4.7zM662.4,712.6h4.7v5.6h-4.7zM671.3,712.6h4.7v5.6h-4.7zM675.7,712.6h4.7v5.6h-4.7zM684.6,712.6h4.7v5.6h-4.7zM724.4,712.6h4.7v5.6h-4.7zM737.6,712.6h4.7v5.6h-4.7zM680.1,707.3h4.7v5.6h-4.7zM684.6,707.3h4.7v5.6h-4.7zM702.2,707.3h4.7v5.6h-4.7zM715.5,707.3h4.7v5.6h-4.7zM719.9,707.3h4.7v5.6h-4.7zM658.0,701.9h4.7v5.6h-4.7zM662.4,701.9h4.7v5.6h-4.7zM671.3,701.9h4.7v5.6h-4.7zM675.7,701.9h4.7v5.6h-4.7zM689.0,701.9h4.7v5.6h-4.7zM693.4,701.9h4.7v5.6h-4.7zM706.7,701.9h4.7v5.6h-4.7zM711.1,701.9h4.7v5.6h-4.7zM715.5,701.9h4.7v5.6h-4.7zM719.9,701.9h4.7v5.6h-4.7zM724.4,701.9h4.7v5.6h-4.7zM653.6,696.6h4.7v5.6h-4.7zM658.0,696.6h4.7v5.6h-4.7zM662.4,696.6h4.7v5.6h-4.7zM666.9,696.6h4.7v5.6h-4.7zM671.3,696.6h4.7v5.6h-4.7zM675.7,696.6h4.7v5.6h-4.7zM684.6,696.6h4.7v5.6h-4.7zM697.8,696.6h4.7v5.6h-4.7zM706.7,696.6h4.7v5.6h-4.7zM711.1,696.6h4.7v5.6h-4.7zM715.5,696.6h4.7v5.6h-4.7zM719.9,696.6h4.7v5.6h-4.7zM728.8,696.6h4.7v5.6h-4.7zM888.0,696.6h4.7v5.6h-4.7zM644.7,691.3h4.7v5.6h-4.7zM649.2,691.3h4.7v5.6h-4.7zM653.6,691.3h4.7v5.6h-4.7zM658.0,691.3h4.7v5.6h-4.7zM671.3,691.3h4.7v5.6h-4.7zM675.7,691.3h4.7v5.6h-4.7zM680.1,691.3h4.7v5.6h-4.7zM689.0,691.3h4.7v5.6h-4.7zM693.4,691.3h4.7v5.6h-4.7zM697.8,691.3h4.7v5.6h-4.7zM702.2,691.3h4.7v5.6h-4.7zM706.7,691.3h4.7v5.6h-4.7zM711.1,691.3h4.7v5.6h-4.7zM715.5,691.3h4.7v5.6h-4.7zM724.4,691.3h4.7v5.6h-4.7zM883.6,691.3h4.7v5.6h-4.7zM888.0,691.3h4.7v5.6h-4.7zM892.4,691.3h4.7v5.6h-4.7zM896.9,691.3h4.7v5.6h-4.7zM901.3,691.3h4.7v5.6h-4.7zM644.7,685.9h4.7v5.6h-4.7zM649.2,685.9h4.7v5.6h-4.7zM653.6,685.9h4.7v5.6h-4.7zM658.0,685.9h4.7v5.6h-4.7zM662.4,685.9h4.7v5.6h-4.7zM666.9,685.9h4.7v5.6h-4.7zM671.3,685.9h4.7v5.6h-4.7zM675.7,685.9h4.7v5.6h-4.7zM680.1,685.9h4.7v5.6h-4.7zM684.6,685.9h4.7v5.6h-4.7zM689.0,685.9h4.7v5.6h-4.7zM693.4,685.9h4.7v5.6h-4.7zM697.8,685.9h4.7v5.6h-4.7zM702.2,685.9h4.7v5.6h-4.7zM706.7,685.9h4.7v5.6h-4.7zM711.1,685.9h4.7v5.6h-4.7zM715.5,685.9h4.7v5.6h-4.7zM883.6,685.9h4.7v5.6h-4.7zM888.0,685.9h4.7v5.6h-4.7zM892.4,685.9h4.7v5.6h-4.7zM896.9,685.9h4.7v5.6h-4.7zM901.3,685.9h4.7v5.6h-4.7zM905.7,685.9h4.7v5.6h-4.7zM644.7,680.6h4.7v5.6h-4.7zM649.2,680.6h4.7v5.6h-4.7zM653.6,680.6h4.7v5.6h-4.7zM658.0,680.6h4.7v5.6h-4.7zM662.4,680.6h4.7v5.6h-4.7zM666.9,680.6h4.7v5.6h-4.7zM671.3,680.6h4.7v5.6h-4.7zM675.7,680.6h4.7v5.6h-4.7zM680.1,680.6h4.7v5.6h-4.7zM689.0,680.6h4.7v5.6h-4.7zM693.4,680.6h4.7v5.6h-4.7zM697.8,680.6h4.7v5.6h-4.7zM702.2,680.6h4.7v5.6h-4.7zM706.7,680.6h4.7v5.6h-4.7zM715.5,680.6h4.7v5.6h-4.7zM719.9,680.6h4.7v5.6h-4.7zM724.4,680.6h4.7v5.6h-4.7zM879.2,680.6h4.7v5.6h-4.7zM883.6,680.6h4.7v5.6h-4.7zM888.0,680.6h4.7v5.6h-4.7zM896.9,680.6h4.7v5.6h-4.7zM901.3,680.6h4.7v5.6h-4.7zM905.7,680.6h4.7v5.6h-4.7zM640.3,675.2h4.7v5.7h-4.7zM649.2,675.2h4.7v5.7h-4.7zM653.6,675.2h4.7v5.7h-4.7zM662.4,675.2h4.7v5.7h-4.7zM666.9,675.2h4.7v5.7h-4.7zM671.3,675.2h4.7v5.7h-4.7zM675.7,675.2h4.7v5.7h-4.7zM680.1,675.2h4.7v5.7h-4.7zM684.6,675.2h4.7v5.7h-4.7zM689.0,675.2h4.7v5.7h-4.7zM693.4,675.2h4.7v5.7h-4.7zM697.8,675.2h4.7v5.7h-4.7zM702.2,675.2h4.7v5.7h-4.7zM706.7,675.2h4.7v5.7h-4.7zM711.1,675.2h4.7v5.7h-4.7zM719.9,675.2h4.7v5.7h-4.7zM724.4,675.2h4.7v5.7h-4.7zM879.2,675.2h4.7v5.7h-4.7zM883.6,675.2h4.7v5.7h-4.7zM888.0,675.2h4.7v5.7h-4.7zM892.4,675.2h4.7v5.7h-4.7zM896.9,675.2h4.7v5.7h-4.7zM901.3,675.2h4.7v5.7h-4.7zM640.3,669.9h4.7v5.7h-4.7zM644.7,669.9h4.7v5.7h-4.7zM649.2,669.9h4.7v5.7h-4.7zM653.6,669.9h4.7v5.7h-4.7zM658.0,669.9h4.7v5.7h-4.7zM662.4,669.9h4.7v5.7h-4.7zM666.9,669.9h4.7v5.7h-4.7zM671.3,669.9h4.7v5.7h-4.7zM680.1,669.9h4.7v5.7h-4.7zM684.6,669.9h4.7v5.7h-4.7zM689.0,669.9h4.7v5.7h-4.7zM693.4,669.9h4.7v5.7h-4.7zM697.8,669.9h4.7v5.7h-4.7zM702.2,669.9h4.7v5.7h-4.7zM706.7,669.9h4.7v5.7h-4.7zM711.1,669.9h4.7v5.7h-4.7zM715.5,669.9h4.7v5.7h-4.7zM719.9,669.9h4.7v5.7h-4.7zM728.8,669.9h4.7v5.7h-4.7zM737.6,669.9h4.7v5.7h-4.7zM874.7,669.9h4.7v5.7h-4.7zM879.2,669.9h4.7v5.7h-4.7zM883.6,669.9h4.7v5.7h-4.7zM888.0,669.9h4.7v5.7h-4.7zM892.4,669.9h4.7v5.7h-4.7zM896.9,669.9h4.7v5.7h-4.7zM901.3,669.9h4.7v5.7h-4.7zM635.9,664.5h4.7v5.7h-4.7zM640.3,664.5h4.7v5.7h-4.7zM644.7,664.5h4.7v5.7h-4.7zM649.2,664.5h4.7v5.7h-4.7zM653.6,664.5h4.7v5.7h-4.7zM658.0,664.5h4.7v5.7h-4.7zM662.4,664.5h4.7v5.7h-4.7zM666.9,664.5h4.7v5.7h-4.7zM671.3,664.5h4.7v5.7h-4.7zM675.7,664.5h4.7v5.7h-4.7zM680.1,664.5h4.7v5.7h-4.7zM684.6,664.5h4.7v5.7h-4.7zM689.0,664.5h4.7v5.7h-4.7zM697.8,664.5h4.7v5.7h-4.7zM702.2,664.5h4.7v5.7h-4.7zM706.7,664.5h4.7v5.7h-4.7zM711.1,664.5h4.7v5.7h-4.7zM719.9,664.5h4.7v5.7h-4.7zM724.4,664.5h4.7v5.7h-4.7zM728.8,664.5h4.7v5.7h-4.7zM733.2,664.5h4.7v5.7h-4.7zM737.6,664.5h4.7v5.7h-4.7zM879.2,664.5h4.7v5.7h-4.7zM883.6,664.5h4.7v5.7h-4.7zM640.3,659.1h4.7v5.7h-4.7zM644.7,659.1h4.7v5.7h-4.7zM649.2,659.1h4.7v5.7h-4.7zM653.6,659.1h4.7v5.7h-4.7zM658.0,659.1h4.7v5.7h-4.7zM675.7,659.1h4.7v5.7h-4.7zM680.1,659.1h4.7v5.7h-4.7zM684.6,659.1h4.7v5.7h-4.7zM697.8,659.1h4.7v5.7h-4.7zM702.2,659.1h4.7v5.7h-4.7zM706.7,659.1h4.7v5.7h-4.7zM711.1,659.1h4.7v5.7h-4.7zM715.5,659.1h4.7v5.7h-4.7zM719.9,659.1h4.7v5.7h-4.7zM724.4,659.1h4.7v5.7h-4.7zM728.8,659.1h4.7v5.7h-4.7zM733.2,659.1h4.7v5.7h-4.7zM737.6,659.1h4.7v5.7h-4.7zM879.2,659.1h4.7v5.7h-4.7zM883.6,659.1h4.7v5.7h-4.7zM888.0,659.1h4.7v5.7h-4.7zM631.5,653.8h4.7v5.7h-4.7zM635.9,653.8h4.7v5.7h-4.7zM640.3,653.8h4.7v5.7h-4.7zM644.7,653.8h4.7v5.7h-4.7zM653.6,653.8h4.7v5.7h-4.7zM658.0,653.8h4.7v5.7h-4.7zM662.4,653.8h4.7v5.7h-4.7zM666.9,653.8h4.7v5.7h-4.7zM675.7,653.8h4.7v5.7h-4.7zM680.1,653.8h4.7v5.7h-4.7zM684.6,653.8h4.7v5.7h-4.7zM689.0,653.8h4.7v5.7h-4.7zM693.4,653.8h4.7v5.7h-4.7zM702.2,653.8h4.7v5.7h-4.7zM711.1,653.8h4.7v5.7h-4.7zM715.5,653.8h4.7v5.7h-4.7zM719.9,653.8h4.7v5.7h-4.7zM724.4,653.8h4.7v5.7h-4.7zM728.8,653.8h4.7v5.7h-4.7zM733.2,653.8h4.7v5.7h-4.7zM737.6,653.8h4.7v5.7h-4.7zM742.1,653.8h4.7v5.7h-4.7zM874.7,653.8h4.7v5.7h-4.7zM879.2,653.8h4.7v5.7h-4.7zM653.6,648.4h4.7v5.7h-4.7zM658.0,648.4h4.7v5.7h-4.7zM662.4,648.4h4.7v5.7h-4.7zM666.9,648.4h4.7v5.7h-4.7zM671.3,648.4h4.7v5.7h-4.7zM675.7,648.4h4.7v5.7h-4.7zM680.1,648.4h4.7v5.7h-4.7zM684.6,648.4h4.7v5.7h-4.7zM689.0,648.4h4.7v5.7h-4.7zM693.4,648.4h4.7v5.7h-4.7zM697.8,648.4h4.7v5.7h-4.7zM702.2,648.4h4.7v5.7h-4.7zM706.7,648.4h4.7v5.7h-4.7zM715.5,648.4h4.7v5.7h-4.7zM719.9,648.4h4.7v5.7h-4.7zM724.4,648.4h4.7v5.7h-4.7zM737.6,648.4h4.7v5.7h-4.7zM742.1,648.4h4.7v5.7h-4.7zM746.5,648.4h4.7v5.7h-4.7zM658.0,643.0h4.7v5.7h-4.7zM662.4,643.0h4.7v5.7h-4.7zM666.9,643.0h4.7v5.7h-4.7zM671.3,643.0h4.7v5.7h-4.7zM675.7,643.0h4.7v5.7h-4.7zM680.1,643.0h4.7v5.7h-4.7zM684.6,643.0h4.7v5.7h-4.7zM689.0,643.0h4.7v5.7h-4.7zM693.4,643.0h4.7v5.7h-4.7zM697.8,643.0h4.7v5.7h-4.7zM702.2,643.0h4.7v5.7h-4.7zM706.7,643.0h4.7v5.7h-4.7zM711.1,643.0h4.7v5.7h-4.7zM715.5,643.0h4.7v5.7h-4.7zM719.9,643.0h4.7v5.7h-4.7zM724.4,643.0h4.7v5.7h-4.7zM728.8,643.0h4.7v5.7h-4.7zM733.2,643.0h4.7v5.7h-4.7zM737.6,643.0h4.7v5.7h-4.7zM750.9,643.0h4.7v5.7h-4.7zM680.1,637.6h4.7v5.7h-4.7zM684.6,637.6h4.7v5.7h-4.7zM689.0,637.6h4.7v5.7h-4.7zM693.4,637.6h4.7v5.7h-4.7zM697.8,637.6h4.7v5.7h-4.7zM702.2,637.6h4.7v5.7h-4.7zM706.7,637.6h4.7v5.7h-4.7zM711.1,637.6h4.7v5.7h-4.7zM715.5,637.6h4.7v5.7h-4.7zM719.9,637.6h4.7v5.7h-4.7zM724.4,637.6h4.7v5.7h-4.7zM728.8,637.6h4.7v5.7h-4.7zM733.2,637.6h4.7v5.7h-4.7zM693.4,632.2h4.7v5.7h-4.7zM697.8,632.2h4.7v5.7h-4.7zM702.2,632.2h4.7v5.7h-4.7zM706.7,632.2h4.7v5.7h-4.7zM711.1,632.2h4.7v5.7h-4.7zM715.5,632.2h4.7v5.7h-4.7zM719.9,632.2h4.7v5.7h-4.7zM724.4,632.2h4.7v5.7h-4.7zM728.8,632.2h4.7v5.7h-4.7zM733.2,632.2h4.7v5.7h-4.7zM737.6,632.2h4.7v5.7h-4.7zM742.1,632.2h4.7v5.7h-4.7zM697.8,626.8h4.7v5.7h-4.7zM706.7,626.8h4.7v5.7h-4.7zM711.1,626.8h4.7v5.7h-4.7zM715.5,626.8h4.7v5.7h-4.7zM719.9,626.8h4.7v5.7h-4.7zM724.4,626.8h4.7v5.7h-4.7zM728.8,626.8h4.7v5.7h-4.7zM733.2,626.8h4.7v5.7h-4.7zM737.6,626.8h4.7v5.7h-4.7zM746.5,626.8h4.7v5.7h-4.7zM750.9,626.8h4.7v5.7h-4.7zM706.7,621.4h4.7v5.7h-4.7zM711.1,621.4h4.7v5.7h-4.7zM715.5,621.4h4.7v5.7h-4.7zM719.9,621.4h4.7v5.7h-4.7zM724.4,621.4h4.7v5.7h-4.7zM728.8,621.4h4.7v5.7h-4.7zM733.2,621.4h4.7v5.7h-4.7zM737.6,621.4h4.7v5.7h-4.7zM742.1,621.4h4.7v5.7h-4.7zM746.5,621.4h4.7v5.7h-4.7zM706.7,615.9h4.7v5.7h-4.7zM715.5,615.9h4.7v5.7h-4.7zM750.9,610.5h4.7v5.7h-4.7zM759.7,610.5h4.7v5.7h-4.7zM777.4,594.2h4.7v5.8h-4.7zM786.3,588.7h4.7v5.8h-4.7zM861.5,588.7h4.7v5.8h-4.7zM865.9,583.3h4.7v5.8h-4.7zM870.3,583.3h4.7v5.8h-4.7zM865.9,577.8h4.7v5.8h-4.7zM870.3,577.8h4.7v5.8h-4.7zM874.7,577.8h4.7v5.8h-4.7z" fill="#001ade" shape-rendering="crispEdges"/>
<path d="M852.6,812.4h4.7v5.5h-4.7zM830.5,786.3h4.7v5.5h-4.7zM777.4,765.4h4.7v5.5h-4.7zM781.9,765.4h4.7v5.5h-4.7zM790.7,765.4h4.7v5.5h-4.7zM799.5,765.4h4.7v5.5h-4.7zM804.0,765.4h4.7v5.5h-4.7zM773.0,760.1h4.7v5.6h-4.7zM808.4,760.1h4.7v5.6h-4.7zM812.8,754.9h4.7v5.6h-4.7zM821.7,749.6h4.7v5.6h-4.7zM826.1,749.6h4.7v5.6h-4.7zM826.1,744.3h4.7v5.6h-4.7zM759.7,739.0h4.7v5.6h-4.7zM826.1,739.0h4.7v5.6h-4.7zM830.5,739.0h4.7v5.6h-4.7zM759.7,733.8h4.7v5.6h-4.7zM764.2,733.8h4.7v5.6h-4.7zM830.5,733.8h4.7v5.6h-4.7zM759.7,728.5h4.7v5.6h-4.7zM834.9,723.2h4.7v5.6h-4.7zM839.4,723.2h4.7v5.6h-4.7zM843.8,723.2h4.7v5.6h-4.7zM843.8,717.9h4.7v5.6h-4.7zM848.2,717.9h4.7v5.6h-4.7zM755.3,712.6h4.7v5.6h-4.7zM839.4,712.6h4.7v5.6h-4.7zM755.3,707.3h4.7v5.6h-4.7zM848.2,707.3h4.7v5.6h-4.7zM746.5,701.9h4.7v5.6h-4.7zM750.9,701.9h4.7v5.6h-4.7zM848.2,701.9h4.7v5.6h-4.7zM852.6,696.6h4.7v5.6h-4.7zM742.1,691.3h4.7v5.6h-4.7zM746.5,691.3h4.7v5.6h-4.7zM852.6,691.3h4.7v5.6h-4.7zM852.6,685.9h4.7v5.6h-4.7zM857.0,685.9h4.7v5.6h-4.7zM742.1,680.6h4.7v5.6h-4.7zM852.6,680.6h4.7v5.6h-4.7zM857.0,680.6h4.7v5.6h-4.7zM852.6,675.2h4.7v5.7h-4.7zM857.0,675.2h4.7v5.7h-4.7zM746.5,669.9h4.7v5.7h-4.7zM750.9,669.9h4.7v5.7h-4.7zM857.0,669.9h4.7v5.7h-4.7zM755.3,664.5h4.7v5.7h-4.7zM857.0,664.5h4.7v5.7h-4.7zM857.0,659.1h4.7v5.7h-4.7zM861.5,659.1h4.7v5.7h-4.7zM759.7,653.8h4.7v5.7h-4.7zM857.0,653.8h4.7v5.7h-4.7zM861.5,653.8h4.7v5.7h-4.7zM764.2,637.6h4.7v5.7h-4.7zM768.6,637.6h4.7v5.7h-4.7zM768.6,632.2h4.7v5.7h-4.7zM764.2,626.8h4.7v5.7h-4.7zM768.6,626.8h4.7v5.7h-4.7zM773.0,621.4h4.7v5.7h-4.7zM773.0,610.5h4.7v5.7h-4.7zM768.6,605.1h4.7v5.7h-4.7zM790.7,561.3h4.7v5.8h-4.7zM790.7,555.8h4.7v5.8h-4.7z" fill="#0240e3" shape-rendering="crispEdges"/>
<path d="M830.5,807.2h4.7v5.5h-4.7zM857.0,807.2h4.7v5.5h-4.7zM830.5,802.0h4.7v5.5h-4.7zM857.0,802.0h4.7v5.5h-4.7zM821.7,791.6h4.7v5.5h-4.7zM808.4,786.3h4.7v5.5h-4.7zM812.8,786.3h4.7v5.5h-4.7zM781.9,781.1h4.7v5.5h-4.7zM790.7,781.1h4.7v5.5h-4.7zM799.5,781.1h4.7v5.5h-4.7zM808.4,781.1h4.7v5.5h-4.7zM812.8,781.1h4.7v5.5h-4.7zM830.5,781.1h4.7v5.5h-4.7zM834.9,781.1h4.7v5.5h-4.7zM781.9,775.9h4.7v5.5h-4.7zM786.3,775.9h4.7v5.5h-4.7zM799.5,775.9h4.7v5.5h-4.7zM804.0,775.9h4.7v5.5h-4.7zM808.4,775.9h4.7v5.5h-4.7zM812.8,775.9h4.7v5.5h-4.7zM817.2,775.9h4.7v5.5h-4.7zM821.7,775.9h4.7v5.5h-4.7zM870.3,775.9h4.7v5.5h-4.7zM786.3,770.6h4.7v5.5h-4.7zM812.8,770.6h4.7v5.5h-4.7zM817.2,770.6h4.7v5.5h-4.7zM821.7,770.6h4.7v5.5h-4.7zM826.1,770.6h4.7v5.5h-4.7zM830.5,770.6h4.7v5.5h-4.7zM839.4,770.6h4.7v5.5h-4.7zM852.6,770.6h4.7v5.5h-4.7zM711.1,765.4h4.7v5.5h-4.7zM715.5,765.4h4.7v5.5h-4.7zM719.9,765.4h4.7v5.5h-4.7zM728.8,765.4h4.7v5.5h-4.7zM733.2,765.4h4.7v5.5h-4.7zM737.6,765.4h4.7v5.5h-4.7zM759.7,765.4h4.7v5.5h-4.7zM764.2,765.4h4.7v5.5h-4.7zM817.2,765.4h4.7v5.5h-4.7zM821.7,765.4h4.7v5.5h-4.7zM839.4,765.4h4.7v5.5h-4.7zM697.8,760.1h4.7v5.6h-4.7zM702.2,760.1h4.7v5.6h-4.7zM706.7,760.1h4.7v5.6h-4.7zM711.1,760.1h4.7v5.6h-4.7zM715.5,760.1h4.7v5.6h-4.7zM719.9,760.1h4.7v5.6h-4.7zM724.4,760.1h4.7v5.6h-4.7zM728.8,760.1h4.7v5.6h-4.7zM733.2,760.1h4.7v5.6h-4.7zM742.1,760.1h4.7v5.6h-4.7zM750.9,760.1h4.7v5.6h-4.7zM755.3,760.1h4.7v5.6h-4.7zM759.7,760.1h4.7v5.6h-4.7zM821.7,760.1h4.7v5.6h-4.7zM826.1,760.1h4.7v5.6h-4.7zM834.9,760.1h4.7v5.6h-4.7zM839.4,760.1h4.7v5.6h-4.7zM843.8,760.1h4.7v5.6h-4.7zM693.4,754.9h4.7v5.6h-4.7zM702.2,754.9h4.7v5.6h-4.7zM706.7,754.9h4.7v5.6h-4.7zM719.9,754.9h4.7v5.6h-4.7zM724.4,754.9h4.7v5.6h-4.7zM728.8,754.9h4.7v5.6h-4.7zM733.2,754.9h4.7v5.6h-4.7zM737.6,754.9h4.7v5.6h-4.7zM742.1,754.9h4.7v5.6h-4.7zM746.5,754.9h4.7v5.6h-4.7zM750.9,754.9h4.7v5.6h-4.7zM755.3,754.9h4.7v5.6h-4.7zM830.5,754.9h4.7v5.6h-4.7zM834.9,754.9h4.7v5.6h-4.7zM839.4,754.9h4.7v5.6h-4.7zM689.0,749.6h4.7v5.6h-4.7zM693.4,749.6h4.7v5.6h-4.7zM697.8,749.6h4.7v5.6h-4.7zM711.1,749.6h4.7v5.6h-4.7zM715.5,749.6h4.7v5.6h-4.7zM719.9,749.6h4.7v5.6h-4.7zM733.2,749.6h4.7v5.6h-4.7zM737.6,749.6h4.7v5.6h-4.7zM746.5,749.6h4.7v5.6h-4.7zM750.9,749.6h4.7v5.6h-4.7zM830.5,749.6h4.7v5.6h-4.7zM834.9,749.6h4.7v5.6h-4.7zM839.4,749.6h4.7v5.6h-4.7zM843.8,749.6h4.7v5.6h-4.7zM684.6,744.3h4.7v5.6h-4.7zM697.8,744.3h4.7v5.6h-4.7zM711.1,744.3h4.7v5.6h-4.7zM715.5,744.3h4.7v5.6h-4.7zM728.8,744.3h4.7v5.6h-4.7zM733.2,744.3h4.7v5.6h-4.7zM742.1,744.3h4.7v5.6h-4.7zM746.5,744.3h4.7v5.6h-4.7zM750.9,744.3h4.7v5.6h-4.7zM839.4,744.3h4.7v5.6h-4.7zM843.8,744.3h4.7v5.6h-4.7zM671.3,739.0h4.7v5.6h-4.7zM675.7,739.0h4.7v5.6h-4.7zM697.8,739.0h4.7v5.6h-4.7zM711.1,739.0h4.7v5.6h-4.7zM719.9,739.0h4.7v5.6h-4.7zM728.8,739.0h4.7v5.6h-4.7zM733.2,739.0h4.7v5.6h-4.7zM737.6,739.0h4.7v5.6h-4.7zM742.1,739.0h4.7v5.6h-4.7zM746.5,739.0h4.7v5.6h-4.7zM750.9,739.0h4.7v5.6h-4.7zM675.7,733.8h4.7v5.6h-4.7zM680.1,733.8h4.7v5.6h-4.7zM693.4,733.8h4.7v5.6h-4.7zM724.4,733.8h4.7v5.6h-4.7zM728.8,733.8h4.7v5.6h-4.7zM733.2,733.8h4.7v5.6h-4.7zM737.6,733.8h4.7v5.6h-4.7zM746.5,733.8h4.7v5.6h-4.7zM750.9,733.8h4.7v5.6h-4.7zM666.9,728.5h4.7v5.6h-4.7zM671.3,728.5h4.7v5.6h-4.7zM675.7,728.5h4.7v5.6h-4.7zM680.1,728.5h4.7v5.6h-4.7zM693.4,728.5h4.7v5.6h-4.7zM706.7,728.5h4.7v5.6h-4.7zM711.1,728.5h4.7v5.6h-4.7zM715.5,728.5h4.7v5.6h-4.7zM719.9,728.5h4.7v5.6h-4.7zM724.4,728.5h4.7v5.6h-4.7zM728.8,728.5h4.7v5.6h-4.7zM733.2,728.5h4.7v5.6h-4.7zM737.6,728.5h4.7v5.6h-4.7zM746.5,728.5h4.7v5.6h-4.7zM750.9,728.5h4.7v5.6h-4.7zM843.8,728.5h4.7v5.6h-4.7zM662.4,723.2h4.7v5.6h-4.7zM666.9,723.2h4.7v5.6h-4.7zM671.3,723.2h4.7v5.6h-4.7zM680.1,723.2h4.7v5.6h-4.7zM684.6,723.2h4.7v5.6h-4.7zM702.2,723.2h4.7v5.6h-4.7zM706.7,723.2h4.7v5.6h-4.7zM711.1,723.2h4.7v5.6h-4.7zM715.5,723.2h4.7v5.6h-4.7zM719.9,723.2h4.7v5.6h-4.7zM724.4,723.2h4.7v5.6h-4.7zM728.8,723.2h4.7v5.6h-4.7zM733.2,723.2h4.7v5.6h-4.7zM737.6,723.2h4.7v5.6h-4.7zM750.9,723.2h4.7v5.6h-4.7zM662.4,717.9h4.7v5.6h-4.7zM666.9,717.9h4.7v5.6h-4.7zM671.3,717.9h4.7v5.6h-4.7zM675.7,717.9h4.7v5.6h-4.7zM680.1,717.9h4.7v5.6h-4.7zM684.6,717.9h4.7v5.6h-4.7zM697.8,717.9h4.7v5.6h-4.7zM702.2,717.9h4.7v5.6h-4.7zM706.7,717.9h4.7v5.6h-4.7zM711.1,717.9h4.7v5.6h-4.7zM715.5,717.9h4.7v5.6h-4.7zM719.9,717.9h4.7v5.6h-4.7zM724.4,717.9h4.7v5.6h-4.7zM733.2,717.9h4.7v5.6h-4.7zM737.6,717.9h4.7v5.6h-4.7zM666.9,712.6h4.7v5.6h-4.7zM680.1,712.6h4.7v5.6h-4.7zM689.0,712.6h4.7v5.6h-4.7zM693.4,712.6h4.7v5.6h-4.7zM697.8,712.6h4.7v5.6h-4.7zM702.2,712.6h4.7v5.6h-4.7zM706.7,712.6h4.7v5.6h-4.7zM711.1,712.6h4.7v5.6h-4.7zM715.5,712.6h4.7v5.6h-4.7zM719.9,712.6h4.7v5.6h-4.7zM728.8,712.6h4.7v5.6h-4.7zM733.2,712.6h4.7v5.6h-4.7zM742.1,712.6h4.7v5.6h-4.7zM746.5,712.6h4.7v5.6h-4.7zM662.4,707.3h4.7v5.6h-4.7zM666.9,707.3h4.7v5.6h-4.7zM671.3,707.3h4.7v5.6h-4.7zM675.7,707.3h4.7v5.6h-4.7zM689.0,707.3h4.7v5.6h-4.7zM693.4,707.3h4.7v5.6h-4.7zM697.8,707.3h4.7v5.6h-4.7zM706.7,707.3h4.7v5.6h-4.7zM711.1,707.3h4.7v5.6h-4.7zM724.4,707.3h4.7v5.6h-4.7zM728.8,707.3h4.7v5.6h-4.7zM733.2,707.3h4.7v5.6h-4.7zM737.6,707.3h4.7v5.6h-4.7zM742.1,707.3h4.7v5.6h-4.7zM666.9,701.9h4.7v5.6h-4.7zM680.1,701.9h4.7v5.6h-4.7zM684.6,701.9h4.7v5.6h-4.7zM697.8,701.9h4.7v5.6h-4.7zM702.2,701.9h4.7v5.6h-4.7zM728.8,701.9h4.7v5.6h-4.7zM733.2,701.9h4.7v5.6h-4.7zM742.1,701.9h4.7v5.6h-4.7zM857.0,701.9h4.7v5.6h-4.7zM861.5,701.9h4.7v5.6h-4.7zM680.1,696.6h4.7v5.6h-4.7zM689.0,696.6h4.7v5.6h-4.7zM693.4,696.6h4.7v5.6h-4.7zM702.2,696.6h4.7v5.6h-4.7zM724.4,696.6h4.7v5.6h-4.7zM733.2,696.6h4.7v5.6h-4.7zM737.6,696.6h4.7v5.6h-4.7zM666.9,691.3h4.7v5.6h-4.7zM684.6,691.3h4.7v5.6h-4.7zM719.9,691.3h4.7v5.6h-4.7zM728.8,691.3h4.7v5.6h-4.7zM857.0,691.3h4.7v5.6h-4.7zM719.9,685.9h4.7v5.6h-4.7zM724.4,685.9h4.7v5.6h-4.7zM728.8,685.9h4.7v5.6h-4.7zM733.2,685.9h4.7v5.6h-4.7zM684.6,680.6h4.7v5.6h-4.7zM711.1,680.6h4.7v5.6h-4.7zM728.8,680.6h4.7v5.6h-4.7zM733.2,680.6h4.7v5.6h-4.7zM737.6,680.6h4.7v5.6h-4.7zM874.7,680.6h4.7v5.6h-4.7zM892.4,680.6h4.7v5.6h-4.7zM644.7,675.2h4.7v5.7h-4.7zM658.0,675.2h4.7v5.7h-4.7zM715.5,675.2h4.7v5.7h-4.7zM728.8,675.2h4.7v5.7h-4.7zM733.2,675.2h4.7v5.7h-4.7zM737.6,675.2h4.7v5.7h-4.7zM742.1,675.2h4.7v5.7h-4.7zM865.9,675.2h4.7v5.7h-4.7zM870.3,675.2h4.7v5.7h-4.7zM874.7,675.2h4.7v5.7h-4.7zM724.4,669.9h4.7v5.7h-4.7zM733.2,669.9h4.7v5.7h-4.7zM742.1,669.9h4.7v5.7h-4.7zM870.3,669.9h4.7v5.7h-4.7zM693.4,664.5h4.7v5.7h-4.7zM742.1,664.5h4.7v5.7h-4.7zM865.9,664.5h4.7v5.7h-4.7zM870.3,664.5h4.7v5.7h-4.7zM874.7,664.5h4.7v5.7h-4.7zM888.0,664.5h4.7v5.7h-4.7zM892.4,664.5h4.7v5.7h-4.7zM635.9,659.1h4.7v5.7h-4.7zM666.9,659.1h4.7v5.7h-4.7zM693.4,659.1h4.7v5.7h-4.7zM742.1,659.1h4.7v5.7h-4.7zM746.5,659.1h4.7v5.7h-4.7zM755.3,659.1h4.7v5.7h-4.7zM870.3,659.1h4.7v5.7h-4.7zM874.7,659.1h4.7v5.7h-4.7zM671.3,653.8h4.7v5.7h-4.7zM746.5,653.8h4.7v5.7h-4.7zM750.9,653.8h4.7v5.7h-4.7zM755.3,653.8h4.7v5.7h-4.7zM865.9,653.8h4.7v5.7h-4.7zM870.3,653.8h4.7v5.7h-4.7zM883.6,653.8h4.7v5.7h-4.7zM649.2,648.4h4.7v5.7h-4.7zM711.1,648.4h4.7v5.7h-4.7zM728.8,648.4h4.7v5.7h-4.7zM733.2,648.4h4.7v5.7h-4.7zM750.9,648.4h4.7v5.7h-4.7zM742.1,643.0h4.7v5.7h-4.7zM746.5,643.0h4.7v5.7h-4.7zM755.3,643.0h4.7v5.7h-4.7zM759.7,643.0h4.7v5.7h-4.7zM737.6,637.6h4.7v5.7h-4.7zM742.1,637.6h4.7v5.7h-4.7zM746.5,637.6h4.7v5.7h-4.7zM750.9,637.6h4.7v5.7h-4.7zM755.3,637.6h4.7v5.7h-4.7zM746.5,632.2h4.7v5.7h-4.7zM750.9,632.2h4.7v5.7h-4.7zM755.3,632.2h4.7v5.7h-4.7zM742.1,626.8h4.7v5.7h-4.7zM755.3,626.8h4.7v5.7h-4.7zM759.7,626.8h4.7v5.7h-4.7zM750.9,621.4h4.7v5.7h-4.7zM755.3,621.4h4.7v5.7h-4.7zM759.7,621.4h4.7v5.7h-4.7zM742.1,615.9h4.7v5.7h-4.7zM746.5,615.9h4.7v5.7h-4.7zM750.9,615.9h4.7v5.7h-4.7zM755.3,615.9h4.7v5.7h-4.7zM759.7,615.9h4.7v5.7h-4.7zM768.6,615.9h4.7v5.7h-4.7zM755.3,610.5h4.7v5.7h-4.7zM759.7,605.1h4.7v5.7h-4.7zM764.2,605.1h4.7v5.7h-4.7zM768.6,599.6h4.7v5.7h-4.7zM781.9,594.2h4.7v5.8h-4.7zM861.5,583.3h4.7v5.8h-4.7z" fill="#0027e5" shape-rendering="crispEdges"/>
<path d="M839.4,807.2h4.7v5.5h-4.7zM843.8,802.0h4.7v5.5h-4.7zM861.5,802.0h4.7v5.5h-4.7zM821.7,796.8h4.7v5.5h-4.7zM870.3,791.6h4.7v5.5h-4.7zM839.4,781.1h4.7v5.5h-4.7zM843.8,775.9h4.7v5.5h-4.7zM857.0,775.9h4.7v5.5h-4.7zM662.4,691.3h4.7v5.6h-4.7zM675.7,669.9h4.7v5.7h-4.7zM715.5,664.5h4.7v5.7h-4.7zM662.4,659.1h4.7v5.7h-4.7zM671.3,659.1h4.7v5.7h-4.7zM689.0,659.1h4.7v5.7h-4.7zM649.2,653.8h4.7v5.7h-4.7zM697.8,653.8h4.7v5.7h-4.7zM706.7,653.8h4.7v5.7h-4.7zM689.0,632.2h4.7v5.7h-4.7zM693.4,626.8h4.7v5.7h-4.7zM702.2,626.8h4.7v5.7h-4.7zM711.1,615.9h4.7v5.7h-4.7zM879.2,572.3h4.7v5.8h-4.7zM786.3,555.8h4.7v5.8h-4.7z" fill="#000dd7" shape-rendering="crispEdges"/>
<path d="M852.6,807.2h4.7v5.5h-4.7zM799.5,754.9h4.7v5.6h-4.7zM781.9,739.0h4.7v5.6h-4.7zM786.3,733.8h4.7v5.6h-4.7zM781.9,728.5h4.7v5.6h-4.7zM804.0,728.5h4.7v5.6h-4.7zM786.3,723.2h4.7v5.6h-4.7zM790.7,712.6h4.7v5.6h-4.7zM786.3,707.3h4.7v5.6h-4.7zM804.0,707.3h4.7v5.6h-4.7zM808.4,707.3h4.7v5.6h-4.7zM781.9,701.9h4.7v5.6h-4.7zM804.0,701.9h4.7v5.6h-4.7zM773.0,696.6h4.7v5.6h-4.7zM781.9,696.6h4.7v5.6h-4.7zM777.4,691.3h4.7v5.6h-4.7zM781.9,691.3h4.7v5.6h-4.7zM812.8,691.3h4.7v5.6h-4.7zM821.7,691.3h4.7v5.6h-4.7zM826.1,691.3h4.7v5.6h-4.7zM773.0,685.9h4.7v5.6h-4.7zM826.1,685.9h4.7v5.6h-4.7zM781.9,675.2h4.7v5.7h-4.7zM786.3,664.5h4.7v5.7h-4.7zM790.7,664.5h4.7v5.7h-4.7zM795.1,659.1h4.7v5.7h-4.7zM790.7,653.8h4.7v5.7h-4.7zM812.8,653.8h4.7v5.7h-4.7zM790.7,648.4h4.7v5.7h-4.7zM804.0,648.4h4.7v5.7h-4.7zM830.5,648.4h4.7v5.7h-4.7zM799.5,643.0h4.7v5.7h-4.7zM830.5,643.0h4.7v5.7h-4.7zM799.5,637.6h4.7v5.7h-4.7zM804.0,632.2h4.7v5.7h-4.7zM781.9,610.5h4.7v5.7h-4.7zM843.8,566.8h4.7v5.8h-4.7z" fill="#52a126" shape-rendering="crispEdges"/>
<path d="M852.6,802.0h4.7v5.5h-4.7zM790.7,749.6h4.7v5.6h-4.7zM799.5,723.2h4.7v5.6h-4.7zM795.1,696.6h4.7v5.6h-4.7zM786.3,691.3h4.7v5.6h-4.7zM795.1,691.3h4.7v5.6h-4.7zM817.2,691.3h4.7v5.6h-4.7zM781.9,685.9h4.7v5.6h-4.7zM799.5,685.9h4.7v5.6h-4.7zM808.4,680.6h4.7v5.6h-4.7zM804.0,669.9h4.7v5.7h-4.7zM826.1,669.9h4.7v5.7h-4.7zM808.4,664.5h4.7v5.7h-4.7zM817.2,664.5h4.7v5.7h-4.7zM821.7,664.5h4.7v5.7h-4.7zM821.7,653.8h4.7v5.7h-4.7zM817.2,643.0h4.7v5.7h-4.7zM821.7,632.2h4.7v5.7h-4.7zM808.4,626.8h4.7v5.7h-4.7zM795.1,615.9h4.7v5.7h-4.7zM826.1,610.5h4.7v5.7h-4.7zM834.9,599.6h4.7v5.7h-4.7zM795.1,588.7h4.7v5.8h-4.7zM799.5,561.3h4.7v5.8h-4.7z" fill="#8eb818" shape-rendering="crispEdges"/>
<path d="M826.1,796.8h4.7v5.5h-4.7zM781.9,754.9h4.7v5.6h-4.7zM812.8,749.6h4.7v5.6h-4.7zM817.2,744.3h4.7v5.6h-4.7zM768.6,739.0h4.7v5.6h-4.7zM817.2,739.0h4.7v5.6h-4.7zM817.2,728.5h4.7v5.6h-4.7zM821.7,723.2h4.7v5.6h-4.7zM773.0,717.9h4.7v5.6h-4.7zM821.7,717.9h4.7v5.6h-4.7zM826.1,712.6h4.7v5.6h-4.7zM830.5,712.6h4.7v5.6h-4.7zM764.2,707.3h4.7v5.6h-4.7zM768.6,707.3h4.7v5.6h-4.7zM764.2,701.9h4.7v5.6h-4.7zM830.5,701.9h4.7v5.6h-4.7zM834.9,701.9h4.7v5.6h-4.7zM755.3,696.6h4.7v5.6h-4.7zM755.3,691.3h4.7v5.6h-4.7zM843.8,685.9h4.7v5.6h-4.7zM768.6,669.9h4.7v5.7h-4.7zM843.8,669.9h4.7v5.7h-4.7zM843.8,664.5h4.7v5.7h-4.7zM777.4,659.1h4.7v5.7h-4.7zM773.0,653.8h4.7v5.7h-4.7zM777.4,653.8h4.7v5.7h-4.7zM848.2,653.8h4.7v5.7h-4.7zM773.0,648.4h4.7v5.7h-4.7zM777.4,648.4h4.7v5.7h-4.7zM843.8,648.4h4.7v5.7h-4.7zM777.4,643.0h4.7v5.7h-4.7zM781.9,643.0h4.7v5.7h-4.7zM843.8,643.0h4.7v5.7h-4.7zM839.4,637.6h4.7v5.7h-4.7zM781.9,632.2h4.7v5.7h-4.7zM839.4,632.2h4.7v5.7h-4.7zM777.4,610.5h4.7v5.7h-4.7zM848.2,599.6h4.7v5.7h-4.7zM790.7,572.3h4.7v5.8h-4.7z" fill="#0d66b3" shape-rendering="crispEdges"/>
<path d="M852.6,796.8h4.7v5.5h-4.7zM786.3,765.4h4.7v5.5h-4.7zM795.1,765.4h4.7v5.5h-4.7zM777.4,760.1h4.7v5.6h-4.7zM781.9,760.1h4.7v5.6h-4.7zM786.3,760.1h4.7v5.6h-4.7zM773.0,754.9h4.7v5.6h-4.7zM768.6,749.6h4.7v5.6h-4.7zM817.2,749.6h4.7v5.6h-4.7zM764.2,744.3h4.7v5.6h-4.7zM768.6,744.3h4.7v5.6h-4.7zM821.7,744.3h4.7v5.6h-4.7zM764.2,739.0h4.7v5.6h-4.7zM821.7,739.0h4.7v5.6h-4.7zM826.1,733.8h4.7v5.6h-4.7zM764.2,728.5h4.7v5.6h-4.7zM768.6,728.5h4.7v5.6h-4.7zM830.5,728.5h4.7v5.6h-4.7zM746.5,723.2h4.7v5.6h-4.7zM764.2,723.2h4.7v5.6h-4.7zM764.2,717.9h4.7v5.6h-4.7zM768.6,717.9h4.7v5.6h-4.7zM830.5,717.9h4.7v5.6h-4.7zM834.9,717.9h4.7v5.6h-4.7zM759.7,712.6h4.7v5.6h-4.7zM759.7,707.3h4.7v5.6h-4.7zM839.4,707.3h4.7v5.6h-4.7zM843.8,707.3h4.7v5.6h-4.7zM843.8,701.9h4.7v5.6h-4.7zM746.5,696.6h4.7v5.6h-4.7zM848.2,696.6h4.7v5.6h-4.7zM843.8,691.3h4.7v5.6h-4.7zM848.2,691.3h4.7v5.6h-4.7zM746.5,685.9h4.7v5.6h-4.7zM848.2,685.9h4.7v5.6h-4.7zM750.9,675.2h4.7v5.7h-4.7zM755.3,675.2h4.7v5.7h-4.7zM755.3,669.9h4.7v5.7h-4.7zM848.2,669.9h4.7v5.7h-4.7zM852.6,669.9h4.7v5.7h-4.7zM759.7,664.5h4.7v5.7h-4.7zM852.6,664.5h4.7v5.7h-4.7zM764.2,659.1h4.7v5.7h-4.7zM852.6,659.1h4.7v5.7h-4.7zM764.2,653.8h4.7v5.7h-4.7zM768.6,653.8h4.7v5.7h-4.7zM852.6,653.8h4.7v5.7h-4.7zM768.6,648.4h4.7v5.7h-4.7zM852.6,648.4h4.7v5.7h-4.7zM852.6,643.0h4.7v5.7h-4.7zM773.0,637.6h4.7v5.7h-4.7zM848.2,637.6h4.7v5.7h-4.7zM773.0,626.8h4.7v5.7h-4.7zM777.4,621.4h4.7v5.7h-4.7zM781.9,621.4h4.7v5.7h-4.7zM773.0,615.9h4.7v5.7h-4.7zM777.4,615.9h4.7v5.7h-4.7zM786.3,594.2h4.7v5.8h-4.7zM852.6,594.2h4.7v5.8h-4.7zM852.6,588.7h4.7v5.8h-4.7zM852.6,572.3h4.7v5.8h-4.7zM790.7,566.8h4.7v5.8h-4.7z" fill="#064dd3" shape-rendering="crispEdges"/>
<path d="M826.1,791.6h4.7v5.5h-4.7z" fill="#e11f00" shape-rendering="crispEdges"/>
<path d="M830.5,791.6h4.7v5.5h-4.7zM790.7,775.9h4.7v5.5h-4.7zM795.1,775.9h4.7v5.5h-4.7zM781.9,770.6h4.7v5.5h-4.7zM790.7,770.6h4.7v5.5h-4.7zM795.1,770.6h4.7v5.5h-4.7zM799.5,770.6h4.7v5.5h-4.7zM804.0,770.6h4.7v5.5h-4.7zM808.4,770.6h4.7v5.5h-4.7zM768.6,765.4h4.7v5.5h-4.7zM773.0,765.4h4.7v5.5h-4.7zM808.4,765.4h4.7v5.5h-4.7zM812.8,765.4h4.7v5.5h-4.7zM826.1,765.4h4.7v5.5h-4.7zM764.2,760.1h4.7v5.6h-4.7zM768.6,760.1h4.7v5.6h-4.7zM812.8,760.1h4.7v5.6h-4.7zM817.2,760.1h4.7v5.6h-4.7zM830.5,760.1h4.7v5.6h-4.7zM689.0,754.9h4.7v5.6h-4.7zM697.8,754.9h4.7v5.6h-4.7zM711.1,754.9h4.7v5.6h-4.7zM715.5,754.9h4.7v5.6h-4.7zM759.7,754.9h4.7v5.6h-4.7zM764.2,754.9h4.7v5.6h-4.7zM768.6,754.9h4.7v5.6h-4.7zM817.2,754.9h4.7v5.6h-4.7zM821.7,754.9h4.7v5.6h-4.7zM826.1,754.9h4.7v5.6h-4.7zM680.1,749.6h4.7v5.6h-4.7zM684.6,749.6h4.7v5.6h-4.7zM702.2,749.6h4.7v5.6h-4.7zM706.7,749.6h4.7v5.6h-4.7zM755.3,749.6h4.7v5.6h-4.7zM675.7,744.3h4.7v5.6h-4.7zM680.1,744.3h4.7v5.6h-4.7zM689.0,744.3h4.7v5.6h-4.7zM693.4,744.3h4.7v5.6h-4.7zM702.2,744.3h4.7v5.6h-4.7zM706.7,744.3h4.7v5.6h-4.7zM719.9,744.3h4.7v5.6h-4.7zM755.3,744.3h4.7v5.6h-4.7zM830.5,744.3h4.7v5.6h-4.7zM834.9,744.3h4.7v5.6h-4.7zM680.1,739.0h4.7v5.6h-4.7zM684.6,739.0h4.7v5.6h-4.7zM689.0,739.0h4.7v5.6h-4.7zM693.4,739.0h4.7v5.6h-4.7zM702.2,739.0h4.7v5.6h-4.7zM706.7,739.0h4.7v5.6h-4.7zM715.5,739.0h4.7v5.6h-4.7zM724.4,739.0h4.7v5.6h-4.7zM755.3,739.0h4.7v5.6h-4.7zM834.9,739.0h4.7v5.6h-4.7zM671.3,733.8h4.7v5.6h-4.7zM684.6,733.8h4.7v5.6h-4.7zM689.0,733.8h4.7v5.6h-4.7zM697.8,733.8h4.7v5.6h-4.7zM702.2,733.8h4.7v5.6h-4.7zM706.7,733.8h4.7v5.6h-4.7zM711.1,733.8h4.7v5.6h-4.7zM715.5,733.8h4.7v5.6h-4.7zM719.9,733.8h4.7v5.6h-4.7zM742.1,733.8h4.7v5.6h-4.7zM755.3,733.8h4.7v5.6h-4.7zM684.6,728.5h4.7v5.6h-4.7zM689.0,728.5h4.7v5.6h-4.7zM697.8,728.5h4.7v5.6h-4.7zM702.2,728.5h4.7v5.6h-4.7zM755.3,728.5h4.7v5.6h-4.7zM834.9,728.5h4.7v5.6h-4.7zM839.4,728.5h4.7v5.6h-4.7zM675.7,723.2h4.7v5.6h-4.7zM689.0,723.2h4.7v5.6h-4.7zM693.4,723.2h4.7v5.6h-4.7zM697.8,723.2h4.7v5.6h-4.7zM755.3,723.2h4.7v5.6h-4.7zM759.7,723.2h4.7v5.6h-4.7zM848.2,723.2h4.7v5.6h-4.7zM689.0,717.9h4.7v5.6h-4.7zM693.4,717.9h4.7v5.6h-4.7zM746.5,717.9h4.7v5.6h-4.7zM750.9,717.9h4.7v5.6h-4.7zM755.3,717.9h4.7v5.6h-4.7zM759.7,717.9h4.7v5.6h-4.7zM839.4,717.9h4.7v5.6h-4.7zM750.9,712.6h4.7v5.6h-4.7zM843.8,712.6h4.7v5.6h-4.7zM848.2,712.6h4.7v5.6h-4.7zM746.5,707.3h4.7v5.6h-4.7zM750.9,707.3h4.7v5.6h-4.7zM852.6,707.3h4.7v5.6h-4.7zM857.0,707.3h4.7v5.6h-4.7zM737.6,701.9h4.7v5.6h-4.7zM852.6,701.9h4.7v5.6h-4.7zM742.1,696.6h4.7v5.6h-4.7zM857.0,696.6h4.7v5.6h-4.7zM861.5,696.6h4.7v5.6h-4.7zM733.2,691.3h4.7v5.6h-4.7zM737.6,691.3h4.7v5.6h-4.7zM861.5,691.3h4.7v5.6h-4.7zM737.6,685.9h4.7v5.6h-4.7zM742.1,685.9h4.7v5.6h-4.7zM861.5,685.9h4.7v5.6h-4.7zM746.5,680.6h4.7v5.6h-4.7zM861.5,680.6h4.7v5.6h-4.7zM746.5,675.2h4.7v5.7h-4.7zM861.5,675.2h4.7v5.7h-4.7zM861.5,669.9h4.7v5.7h-4.7zM865.9,669.9h4.7v5.7h-4.7zM746.5,664.5h4.7v5.7h-4.7zM750.9,664.5h4.7v5.7h-4.7zM861.5,664.5h4.7v5.7h-4.7zM750.9,659.1h4.7v5.7h-4.7zM759.7,659.1h4.7v5.7h-4.7zM865.9,659.1h4.7v5.7h-4.7zM755.3,648.4h4.7v5.7h-4.7zM759.7,648.4h4.7v5.7h-4.7zM764.2,648.4h4.7v5.7h-4.7zM764.2,643.0h4.7v5.7h-4.7zM759.7,637.6h4.7v5.7h-4.7zM759.7,632.2h4.7v5.7h-4.7zM764.2,632.2h4.7v5.7h-4.7zM764.2,621.4h4.7v5.7h-4.7zM768.6,621.4h4.7v5.7h-4.7zM764.2,615.9h4.7v5.7h-4.7zM764.2,610.5h4.7v5.7h-4.7zM768.6,610.5h4.7v5.7h-4.7zM773.0,599.6h4.7v5.7h-4.7zM857.0,588.7h4.7v5.8h-4.7zM857.0,583.3h4.7v5.8h-4.7z" fill="#0034ec" shape-rendering="crispEdges"/>
<path d="M826.1,786.3h4.7v5.5h-4.7zM808.4,594.2h4.7v5.8h-4.7zM812.8,594.2h4.7v5.8h-4.7zM804.0,588.7h4.7v5.8h-4.7zM808.4,588.7h4.7v5.8h-4.7zM812.8,588.7h4.7v5.8h-4.7zM817.2,588.7h4.7v5.8h-4.7zM821.7,588.7h4.7v5.8h-4.7zM804.0,583.3h4.7v5.8h-4.7zM808.4,583.3h4.7v5.8h-4.7zM812.8,583.3h4.7v5.8h-4.7zM817.2,583.3h4.7v5.8h-4.7zM821.7,583.3h4.7v5.8h-4.7zM808.4,577.8h4.7v5.8h-4.7zM812.8,577.8h4.7v5.8h-4.7zM817.2,577.8h4.7v5.8h-4.7zM821.7,577.8h4.7v5.8h-4.7zM826.1,577.8h4.7v5.8h-4.7zM808.4,572.3h4.7v5.8h-4.7zM812.8,572.3h4.7v5.8h-4.7zM817.2,572.3h4.7v5.8h-4.7zM821.7,572.3h4.7v5.8h-4.7z" fill="#800000" shape-rendering="crispEdges"/>
<path d="M826.1,781.1h4.7v5.5h-4.7zM790.7,723.2h4.7v5.6h-4.7zM790.7,696.6h4.7v5.6h-4.7zM799.5,696.6h4.7v5.6h-4.7zM804.0,696.6h4.7v5.6h-4.7zM808.4,696.6h4.7v5.6h-4.7zM790.7,691.3h4.7v5.6h-4.7zM777.4,680.6h4.7v5.6h-4.7zM781.9,680.6h4.7v5.6h-4.7zM777.4,675.2h4.7v5.7h-4.7zM790.7,675.2h4.7v5.7h-4.7zM808.4,675.2h4.7v5.7h-4.7zM790.7,669.9h4.7v5.7h-4.7zM795.1,664.5h4.7v5.7h-4.7zM799.5,664.5h4.7v5.7h-4.7zM790.7,659.1h4.7v5.7h-4.7zM821.7,659.1h4.7v5.7h-4.7zM799.5,653.8h4.7v5.7h-4.7zM817.2,653.8h4.7v5.7h-4.7zM799.5,648.4h4.7v5.7h-4.7zM817.2,648.4h4.7v5.7h-4.7zM808.4,643.0h4.7v5.7h-4.7zM804.0,637.6h4.7v5.7h-4.7zM804.0,626.8h4.7v5.7h-4.7zM826.1,626.8h4.7v5.7h-4.7zM804.0,621.4h4.7v5.7h-4.7zM848.2,583.3h4.7v5.8h-4.7zM839.4,566.8h4.7v5.8h-4.7z" fill="#58a71a" shape-rendering="crispEdges"/>
<path d="M790.7,760.1h4.7v5.6h-4.7zM799.5,760.1h4.7v5.6h-4.7zM804.0,754.9h4.7v5.6h-4.7zM773.0,749.6h4.7v5.6h-4.7zM777.4,749.6h4.7v5.6h-4.7zM808.4,749.6h4.7v5.6h-4.7zM759.7,744.3h4.7v5.6h-4.7zM773.0,744.3h4.7v5.6h-4.7zM808.4,744.3h4.7v5.6h-4.7zM812.8,744.3h4.7v5.6h-4.7zM817.2,723.2h4.7v5.6h-4.7zM742.1,717.9h4.7v5.6h-4.7zM826.1,717.9h4.7v5.6h-4.7zM773.0,712.6h4.7v5.6h-4.7zM817.2,712.6h4.7v5.6h-4.7zM821.7,712.6h4.7v5.6h-4.7zM821.7,707.3h4.7v5.6h-4.7zM826.1,707.3h4.7v5.6h-4.7zM768.6,701.9h4.7v5.6h-4.7zM834.9,696.6h4.7v5.6h-4.7zM759.7,691.3h4.7v5.6h-4.7zM755.3,685.9h4.7v5.6h-4.7zM759.7,685.9h4.7v5.6h-4.7zM839.4,680.6h4.7v5.6h-4.7zM764.2,675.2h4.7v5.7h-4.7zM843.8,675.2h4.7v5.7h-4.7zM839.4,669.9h4.7v5.7h-4.7zM773.0,664.5h4.7v5.7h-4.7zM777.4,664.5h4.7v5.7h-4.7zM843.8,659.1h4.7v5.7h-4.7zM839.4,653.8h4.7v5.7h-4.7zM843.8,653.8h4.7v5.7h-4.7zM839.4,648.4h4.7v5.7h-4.7zM843.8,637.6h4.7v5.7h-4.7zM786.3,632.2h4.7v5.7h-4.7zM834.9,632.2h4.7v5.7h-4.7zM781.9,626.8h4.7v5.7h-4.7zM790.7,626.8h4.7v5.7h-4.7zM786.3,621.4h4.7v5.7h-4.7zM777.4,605.1h4.7v5.7h-4.7zM790.7,583.3h4.7v5.8h-4.7z" fill="#1b6f9b" shape-rendering="crispEdges"/>
<path d="M795.1,760.1h4.7v5.6h-4.7zM786.3,749.6h4.7v5.6h-4.7zM804.0,749.6h4.7v5.6h-4.7zM742.1,728.5h4.7v5.6h-4.7zM808.4,723.2h4.7v5.6h-4.7zM777.4,717.9h4.7v5.6h-4.7zM781.9,717.9h4.7v5.6h-4.7zM808.4,717.9h4.7v5.6h-4.7zM812.8,717.9h4.7v5.6h-4.7zM777.4,707.3h4.7v5.6h-4.7zM781.9,707.3h4.7v5.6h-4.7zM817.2,707.3h4.7v5.6h-4.7zM817.2,701.9h4.7v5.6h-4.7zM821.7,701.9h4.7v5.6h-4.7zM768.6,696.6h4.7v5.6h-4.7zM821.7,696.6h4.7v5.6h-4.7zM764.2,691.3h4.7v5.6h-4.7zM830.5,691.3h4.7v5.6h-4.7zM834.9,685.9h4.7v5.6h-4.7zM764.2,680.6h4.7v5.6h-4.7zM768.6,680.6h4.7v5.6h-4.7zM768.6,675.2h4.7v5.7h-4.7zM834.9,675.2h4.7v5.7h-4.7zM777.4,669.9h4.7v5.7h-4.7zM781.9,664.5h4.7v5.7h-4.7zM839.4,664.5h4.7v5.7h-4.7zM781.9,659.1h4.7v5.7h-4.7zM834.9,659.1h4.7v5.7h-4.7zM839.4,659.1h4.7v5.7h-4.7zM786.3,653.8h4.7v5.7h-4.7zM834.9,643.0h4.7v5.7h-4.7zM839.4,643.0h4.7v5.7h-4.7zM790.7,637.6h4.7v5.7h-4.7zM799.5,632.2h4.7v5.7h-4.7zM830.5,632.2h4.7v5.7h-4.7zM781.9,599.6h4.7v5.7h-4.7zM848.2,594.2h4.7v5.8h-4.7zM790.7,588.7h4.7v5.8h-4.7zM848.2,566.8h4.7v5.8h-4.7zM795.1,561.3h4.7v5.8h-4.7z" fill="#3b8267" shape-rendering="crispEdges"/>
<path d="M804.0,760.1h4.7v5.6h-4.7zM777.4,754.9h4.7v5.6h-4.7zM808.4,754.9h4.7v5.6h-4.7zM764.2,749.6h4.7v5.6h-4.7zM768.6,733.8h4.7v5.6h-4.7zM821.7,733.8h4.7v5.6h-4.7zM821.7,728.5h4.7v5.6h-4.7zM826.1,728.5h4.7v5.6h-4.7zM768.6,723.2h4.7v5.6h-4.7zM773.0,723.2h4.7v5.6h-4.7zM826.1,723.2h4.7v5.6h-4.7zM830.5,723.2h4.7v5.6h-4.7zM764.2,712.6h4.7v5.6h-4.7zM768.6,712.6h4.7v5.6h-4.7zM834.9,712.6h4.7v5.6h-4.7zM830.5,707.3h4.7v5.6h-4.7zM834.9,707.3h4.7v5.6h-4.7zM755.3,701.9h4.7v5.6h-4.7zM759.7,701.9h4.7v5.6h-4.7zM839.4,701.9h4.7v5.6h-4.7zM750.9,696.6h4.7v5.6h-4.7zM839.4,696.6h4.7v5.6h-4.7zM843.8,696.6h4.7v5.6h-4.7zM750.9,691.3h4.7v5.6h-4.7zM839.4,691.3h4.7v5.6h-4.7zM750.9,685.9h4.7v5.6h-4.7zM750.9,680.6h4.7v5.6h-4.7zM755.3,680.6h4.7v5.6h-4.7zM843.8,680.6h4.7v5.6h-4.7zM848.2,680.6h4.7v5.6h-4.7zM759.7,675.2h4.7v5.7h-4.7zM848.2,675.2h4.7v5.7h-4.7zM759.7,669.9h4.7v5.7h-4.7zM764.2,669.9h4.7v5.7h-4.7zM764.2,664.5h4.7v5.7h-4.7zM768.6,664.5h4.7v5.7h-4.7zM848.2,664.5h4.7v5.7h-4.7zM768.6,659.1h4.7v5.7h-4.7zM773.0,659.1h4.7v5.7h-4.7zM848.2,659.1h4.7v5.7h-4.7zM848.2,648.4h4.7v5.7h-4.7zM768.6,643.0h4.7v5.7h-4.7zM773.0,643.0h4.7v5.7h-4.7zM848.2,643.0h4.7v5.7h-4.7zM777.4,637.6h4.7v5.7h-4.7zM773.0,632.2h4.7v5.7h-4.7zM777.4,632.2h4.7v5.7h-4.7zM843.8,632.2h4.7v5.7h-4.7zM777.4,626.8h4.7v5.7h-4.7zM773.0,605.1h4.7v5.7h-4.7zM777.4,599.6h4.7v5.7h-4.7z" fill="#0a5ac3" shape-rendering="crispEdges"/>
<path d="M786.3,754.9h4.7v5.6h-4.7zM781.9,749.6h4.7v5.6h-4.7zM777.4,744.3h4.7v5.6h-4.7zM773.0,739.0h4.7v5.6h-4.7zM812.8,739.0h4.7v5.6h-4.7zM773.0,733.8h4.7v5.6h-4.7zM817.2,733.8h4.7v5.6h-4.7zM773.0,728.5h4.7v5.6h-4.7zM777.4,728.5h4.7v5.6h-4.7zM812.8,728.5h4.7v5.6h-4.7zM812.8,723.2h4.7v5.6h-4.7zM817.2,717.9h4.7v5.6h-4.7zM777.4,712.6h4.7v5.6h-4.7zM773.0,707.3h4.7v5.6h-4.7zM826.1,701.9h4.7v5.6h-4.7zM759.7,696.6h4.7v5.6h-4.7zM764.2,696.6h4.7v5.6h-4.7zM830.5,696.6h4.7v5.6h-4.7zM834.9,691.3h4.7v5.6h-4.7zM839.4,685.9h4.7v5.6h-4.7zM759.7,680.6h4.7v5.6h-4.7zM834.9,680.6h4.7v5.6h-4.7zM839.4,675.2h4.7v5.7h-4.7zM773.0,669.9h4.7v5.7h-4.7zM834.9,669.9h4.7v5.7h-4.7zM781.9,653.8h4.7v5.7h-4.7zM781.9,648.4h4.7v5.7h-4.7zM786.3,643.0h4.7v5.7h-4.7zM781.9,637.6h4.7v5.7h-4.7zM786.3,637.6h4.7v5.7h-4.7zM834.9,637.6h4.7v5.7h-4.7zM790.7,632.2h4.7v5.7h-4.7zM786.3,626.8h4.7v5.7h-4.7zM790.7,621.4h4.7v5.7h-4.7zM781.9,615.9h4.7v5.7h-4.7zM830.5,615.9h4.7v5.7h-4.7zM834.9,610.5h4.7v5.7h-4.7zM839.4,605.1h4.7v5.7h-4.7zM843.8,605.1h4.7v5.7h-4.7zM843.8,599.6h4.7v5.7h-4.7zM790.7,577.8h4.7v5.8h-4.7z" fill="#2b7782" shape-rendering="crispEdges"/>
<path d="M790.7,754.9h4.7v5.6h-4.7zM786.3,744.3h4.7v5.6h-4.7zM804.0,744.3h4.7v5.6h-4.7zM808.4,739.0h4.7v5.6h-4.7zM808.4,728.5h4.7v5.6h-4.7zM790.7,717.9h4.7v5.6h-4.7zM777.4,701.9h4.7v5.6h-4.7zM786.3,701.9h4.7v5.6h-4.7zM768.6,691.3h4.7v5.6h-4.7zM773.0,691.3h4.7v5.6h-4.7zM768.6,685.9h4.7v5.6h-4.7zM826.1,680.6h4.7v5.6h-4.7zM826.1,675.2h4.7v5.7h-4.7zM781.9,669.9h4.7v5.7h-4.7zM830.5,669.9h4.7v5.7h-4.7zM830.5,664.5h4.7v5.7h-4.7zM834.9,664.5h4.7v5.7h-4.7zM795.1,653.8h4.7v5.7h-4.7zM795.1,648.4h4.7v5.7h-4.7zM795.1,643.0h4.7v5.7h-4.7zM795.1,637.6h4.7v5.7h-4.7zM799.5,621.4h4.7v5.7h-4.7zM826.1,615.9h4.7v5.7h-4.7zM830.5,610.5h4.7v5.7h-4.7zM834.9,605.1h4.7v5.7h-4.7zM839.4,599.6h4.7v5.7h-4.7zM790.7,594.2h4.7v5.8h-4.7zM848.2,588.7h4.7v5.8h-4.7zM848.2,577.8h4.7v5.8h-4.7zM848.2,572.3h4.7v5.8h-4.7zM795.1,566.8h4.7v5.8h-4.7z" fill="#4d9c34" shape-rendering="crispEdges"/>
<path d="M795.1,754.9h4.7v5.6h-4.7zM799.5,749.6h4.7v5.6h-4.7zM790.7,733.8h4.7v5.6h-4.7zM799.5,712.6h4.7v5.6h-4.7zM795.1,701.9h4.7v5.6h-4.7zM795.1,685.9h4.7v5.6h-4.7zM812.8,680.6h4.7v5.6h-4.7zM799.5,675.2h4.7v5.7h-4.7zM821.7,637.6h4.7v5.7h-4.7zM843.8,583.3h4.7v5.8h-4.7zM843.8,572.3h4.7v5.8h-4.7z" fill="#a1bd1d" shape-rendering="crispEdges"/>
<path d="M759.7,749.6h4.7v5.6h-4.7zM799.5,728.5h4.7v5.6h-4.7zM817.2,615.9h4.7v5.7h-4.7zM812.8,610.5h4.7v5.7h-4.7zM834.9,594.2h4.7v5.8h-4.7zM839.4,588.7h4.7v5.8h-4.7zM839.4,583.3h4.7v5.8h-4.7zM843.8,577.8h4.7v5.8h-4.7z" fill="#e3cd29" shape-rendering="crispEdges"/>
<path d="M795.1,749.6h4.7v5.6h-4.7zM795.1,728.5h4.7v5.6h-4.7zM795.1,712.6h4.7v5.6h-4.7zM826.1,648.4h4.7v5.7h-4.7zM795.1,594.2h4.7v5.8h-4.7zM834.9,588.7h4.7v5.8h-4.7z" fill="#f7c524" shape-rendering="crispEdges"/>
<path d="M781.9,744.3h4.7v5.6h-4.7zM777.4,739.0h4.7v5.6h-4.7zM777.4,733.8h4.7v5.6h-4.7zM781.9,733.8h4.7v5.6h-4.7zM786.3,728.5h4.7v5.6h-4.7zM777.4,723.2h4.7v5.6h-4.7zM781.9,723.2h4.7v5.6h-4.7zM804.0,723.2h4.7v5.6h-4.7zM786.3,717.9h4.7v5.6h-4.7zM804.0,717.9h4.7v5.6h-4.7zM781.9,712.6h4.7v5.6h-4.7zM786.3,712.6h4.7v5.6h-4.7zM804.0,712.6h4.7v5.6h-4.7zM808.4,712.6h4.7v5.6h-4.7zM812.8,712.6h4.7v5.6h-4.7zM790.7,707.3h4.7v5.6h-4.7zM812.8,707.3h4.7v5.6h-4.7zM773.0,701.9h4.7v5.6h-4.7zM808.4,701.9h4.7v5.6h-4.7zM812.8,701.9h4.7v5.6h-4.7zM812.8,696.6h4.7v5.6h-4.7zM817.2,696.6h4.7v5.6h-4.7zM826.1,696.6h4.7v5.6h-4.7zM764.2,685.9h4.7v5.6h-4.7zM830.5,685.9h4.7v5.6h-4.7zM773.0,680.6h4.7v5.6h-4.7zM830.5,680.6h4.7v5.6h-4.7zM773.0,675.2h4.7v5.7h-4.7zM830.5,675.2h4.7v5.7h-4.7zM786.3,669.9h4.7v5.7h-4.7zM786.3,659.1h4.7v5.7h-4.7zM834.9,653.8h4.7v5.7h-4.7zM786.3,648.4h4.7v5.7h-4.7zM834.9,648.4h4.7v5.7h-4.7zM790.7,643.0h4.7v5.7h-4.7zM830.5,637.6h4.7v5.7h-4.7zM795.1,632.2h4.7v5.7h-4.7zM795.1,626.8h4.7v5.7h-4.7zM799.5,626.8h4.7v5.7h-4.7zM795.1,621.4h4.7v5.7h-4.7zM826.1,621.4h4.7v5.7h-4.7zM786.3,615.9h4.7v5.7h-4.7z" fill="#489642" shape-rendering="crispEdges"/>
<path d="M790.7,744.3h4.7v5.6h-4.7zM812.8,733.8h4.7v5.6h-4.7zM821.7,685.9h4.7v5.6h-4.7zM812.8,632.2h4.7v5.7h-4.7zM821.7,621.4h4.7v5.7h-4.7zM821.7,615.9h4.7v5.7h-4.7zM821.7,610.5h4.7v5.7h-4.7zM781.9,605.1h4.7v5.7h-4.7zM839.4,594.2h4.7v5.8h-4.7zM795.1,583.3h4.7v5.8h-4.7zM795.1,577.8h4.7v5.8h-4.7z" fill="#b3c222" shape-rendering="crispEdges"/>
<path d="M795.1,744.3h4.7v5.6h-4.7zM821.7,599.6h4.7v5.7h-4.7z" fill="#fd5400" shape-rendering="crispEdges"/>
<path d="M799.5,744.3h4.7v5.6h-4.7zM804.0,733.8h4.7v5.6h-4.7zM742.1,723.2h4.7v5.6h-4.7zM799.5,717.9h4.7v5.6h-4.7zM817.2,675.2h4.7v5.7h-4.7zM826.1,643.0h4.7v5.7h-4.7zM817.2,637.6h4.7v5.7h-4.7zM817.2,632.2h4.7v5.7h-4.7zM812.8,615.9h4.7v5.7h-4.7zM826.1,605.1h4.7v5.7h-4.7zM830.5,599.6h4.7v5.7h-4.7zM834.9,572.3h4.7v5.8h-4.7z" fill="#d5ca29" shape-rendering="crispEdges"/>
<path d="M786.3,739.0h4.7v5.6h-4.7zM804.0,739.0h4.7v5.6h-4.7zM799.5,707.3h4.7v5.6h-4.7zM799.5,701.9h4.7v5.6h-4.7zM804.0,691.3h4.7v5.6h-4.7zM808.4,691.3h4.7v5.6h-4.7zM786.3,685.9h4.7v5.6h-4.7zM804.0,685.9h4.7v5.6h-4.7zM808.4,685.9h4.7v5.6h-4.7zM812.8,685.9h4.7v5.6h-4.7zM786.3,680.6h4.7v5.6h-4.7zM790.7,680.6h4.7v5.6h-4.7zM795.1,680.6h4.7v5.6h-4.7zM799.5,680.6h4.7v5.6h-4.7zM804.0,680.6h4.7v5.6h-4.7zM786.3,675.2h4.7v5.7h-4.7zM812.8,675.2h4.7v5.7h-4.7zM795.1,669.9h4.7v5.7h-4.7zM817.2,669.9h4.7v5.7h-4.7zM821.7,669.9h4.7v5.7h-4.7zM804.0,664.5h4.7v5.7h-4.7zM812.8,664.5h4.7v5.7h-4.7zM799.5,659.1h4.7v5.7h-4.7zM812.8,659.1h4.7v5.7h-4.7zM812.8,648.4h4.7v5.7h-4.7zM812.8,643.0h4.7v5.7h-4.7zM812.8,637.6h4.7v5.7h-4.7zM808.4,632.2h4.7v5.7h-4.7zM808.4,621.4h4.7v5.7h-4.7zM799.5,615.9h4.7v5.7h-4.7zM830.5,605.1h4.7v5.7h-4.7zM843.8,588.7h4.7v5.8h-4.7zM795.1,572.3h4.7v5.8h-4.7z" fill="#7cb219" shape-rendering="crispEdges"/>
<path d="M790.7,739.0h4.7v5.6h-4.7zM799.5,739.0h4.7v5.6h-4.7zM795.1,717.9h4.7v5.6h-4.7zM826.1,664.5h4.7v5.7h-4.7zM817.2,626.8h4.7v5.7h-4.7zM812.8,621.4h4.7v5.7h-4.7zM790.7,599.6h4.7v5.7h-4.7zM799.5,566.8h4.7v5.8h-4.7z" fill="#f2d02a" shape-rendering="crispEdges"/>
<path d="M795.1,739.0h4.7v5.6h-4.7z" fill="#f83800" shape-rendering="crispEdges"/>
<path d="M795.1,733.8h4.7v5.6h-4.7zM812.8,605.1h4.7v5.7h-4.7zM799.5,588.7h4.7v5.8h-4.7zM830.5,577.8h4.7v5.8h-4.7zM804.0,566.8h4.7v5.8h-4.7z" fill="#ff6200" shape-rendering="crispEdges"/>
<path d="M799.5,733.8h4.7v5.6h-4.7zM795.1,707.3h4.7v5.6h-4.7zM821.7,680.6h4.7v5.6h-4.7zM821.7,626.8h4.7v5.7h-4.7zM786.3,610.5h4.7v5.7h-4.7zM839.4,572.3h4.7v5.8h-4.7z" fill="#c6c727" shape-rendering="crispEdges"/>
<path d="M808.4,733.8h4.7v5.6h-4.7zM817.2,685.9h4.7v5.6h-4.7zM812.8,626.8h4.7v5.7h-4.7zM817.2,621.4h4.7v5.7h-4.7zM808.4,610.5h4.7v5.7h-4.7zM817.2,610.5h4.7v5.7h-4.7zM786.3,605.1h4.7v5.7h-4.7zM821.7,605.1h4.7v5.7h-4.7zM830.5,594.2h4.7v5.8h-4.7zM839.4,577.8h4.7v5.8h-4.7z" fill="#fbba1e" shape-rendering="crispEdges"/>
<path d="M790.7,728.5h4.7v5.6h-4.7zM790.7,701.9h4.7v5.6h-4.7zM777.4,696.6h4.7v5.6h-4.7zM786.3,696.6h4.7v5.6h-4.7zM799.5,691.3h4.7v5.6h-4.7zM777.4,685.9h4.7v5.6h-4.7zM790.7,685.9h4.7v5.6h-4.7zM795.1,675.2h4.7v5.7h-4.7zM804.0,675.2h4.7v5.7h-4.7zM821.7,675.2h4.7v5.7h-4.7zM799.5,669.9h4.7v5.7h-4.7zM808.4,669.9h4.7v5.7h-4.7zM812.8,669.9h4.7v5.7h-4.7zM804.0,659.1h4.7v5.7h-4.7zM808.4,659.1h4.7v5.7h-4.7zM817.2,659.1h4.7v5.7h-4.7zM830.5,659.1h4.7v5.7h-4.7zM804.0,653.8h4.7v5.7h-4.7zM808.4,653.8h4.7v5.7h-4.7zM830.5,653.8h4.7v5.7h-4.7zM808.4,648.4h4.7v5.7h-4.7zM821.7,648.4h4.7v5.7h-4.7zM804.0,643.0h4.7v5.7h-4.7zM821.7,643.0h4.7v5.7h-4.7zM808.4,637.6h4.7v5.7h-4.7zM826.1,637.6h4.7v5.7h-4.7zM826.1,632.2h4.7v5.7h-4.7zM790.7,615.9h4.7v5.7h-4.7zM804.0,615.9h4.7v5.7h-4.7zM808.4,615.9h4.7v5.7h-4.7zM786.3,599.6h4.7v5.7h-4.7zM843.8,594.2h4.7v5.8h-4.7z" fill="#6aac19" shape-rendering="crispEdges"/>
<path d="M795.1,723.2h4.7v5.6h-4.7zM804.0,610.5h4.7v5.7h-4.7zM817.2,605.1h4.7v5.7h-4.7zM834.9,583.3h4.7v5.8h-4.7zM799.5,572.3h4.7v5.8h-4.7z" fill="#ffae17" shape-rendering="crispEdges"/>
<path d="M817.2,680.6h4.7v5.6h-4.7zM790.7,610.5h4.7v5.7h-4.7zM795.1,610.5h4.7v5.7h-4.7zM826.1,599.6h4.7v5.7h-4.7z" fill="#ff8808" shape-rendering="crispEdges"/>
<path d="M826.1,659.1h4.7v5.7h-4.7zM834.9,577.8h4.7v5.8h-4.7z" fill="#ffa212" shape-rendering="crispEdges"/>
<path d="M826.1,653.8h4.7v5.7h-4.7z" fill="#ff950d" shape-rendering="crispEdges"/>
<path d="M799.5,610.5h4.7v5.7h-4.7zM795.1,599.6h4.7v5.7h-4.7zM799.5,594.2h4.7v5.8h-4.7z" fill="#ff6e03" shape-rendering="crispEdges"/>
<path d="M790.7,605.1h4.7v5.7h-4.7zM795.1,605.1h4.7v5.7h-4.7z" fill="#cb1500" shape-rendering="crispEdges"/>
<path d="M799.5,605.1h4.7v5.7h-4.7zM817.2,594.2h4.7v5.8h-4.7zM821.7,594.2h4.7v5.8h-4.7zM804.0,572.3h4.7v5.8h-4.7zM808.4,566.8h4.7v5.8h-4.7z" fill="#910000" shape-rendering="crispEdges"/>
<path d="M804.0,605.1h4.7v5.7h-4.7zM808.4,605.1h4.7v5.7h-4.7zM817.2,599.6h4.7v5.7h-4.7zM804.0,594.2h4.7v5.8h-4.7zM826.1,594.2h4.7v5.8h-4.7z" fill="#e92700" shape-rendering="crispEdges"/>
<path d="M799.5,599.6h4.7v5.7h-4.7zM830.5,588.7h4.7v5.8h-4.7zM830.5,583.3h4.7v5.8h-4.7z" fill="#f03000" shape-rendering="crispEdges"/>
<path d="M804.0,599.6h4.7v5.7h-4.7zM808.4,599.6h4.7v5.7h-4.7zM826.1,572.3h4.7v5.8h-4.7z" fill="#d61a00" shape-rendering="crispEdges"/>
<path d="M812.8,599.6h4.7v5.7h-4.7zM826.1,583.3h4.7v5.8h-4.7z" fill="#9a0100" shape-rendering="crispEdges"/>
<path d="M777.4,588.7h4.7v5.8h-4.7zM781.9,588.7h4.7v5.8h-4.7zM777.4,583.3h4.7v5.8h-4.7zM781.9,583.3h4.7v5.8h-4.7zM786.3,583.3h4.7v5.8h-4.7zM777.4,577.8h4.7v5.8h-4.7zM781.9,577.8h4.7v5.8h-4.7zM786.3,577.8h4.7v5.8h-4.7zM781.9,572.3h4.7v5.8h-4.7zM786.3,572.3h4.7v5.8h-4.7zM781.9,566.8h4.7v5.8h-4.7zM786.3,566.8h4.7v5.8h-4.7zM781.9,561.3h4.7v5.8h-4.7zM786.3,561.3h4.7v5.8h-4.7zM781.9,555.8h4.7v5.8h-4.7z" fill="#0000d0" shape-rendering="crispEdges"/>
<path d="M826.1,588.7h4.7v5.8h-4.7zM812.8,566.8h4.7v5.8h-4.7z" fill="#a60600" shape-rendering="crispEdges"/>
<path d="M799.5,583.3h4.7v5.8h-4.7zM799.5,577.8h4.7v5.8h-4.7z" fill="#fa4600" shape-rendering="crispEdges"/>
<path d="M804.0,577.8h4.7v5.8h-4.7z" fill="#880000" shape-rendering="crispEdges"/>
<path d="M830.5,572.3h4.7v5.8h-4.7z" fill="#ff7b05" shape-rendering="crispEdges"/>
<path d="M817.2,566.8h4.7v5.8h-4.7z" fill="#b30b00" shape-rendering="crispEdges"/>
<path d="M709.6,629.6L716.6,635.0L725.9,637.3L733.6,633.4L738.3,626.5L739.1,621.1L739.8,618.4" fill="none" stroke="#000" stroke-width="2.6" stroke-linejoin="round" stroke-linecap="round"/>
<path d="M701.1,627.0L699.5,635.7L704.9,642.0L704.1,648.1L698.0,652.0L688.6,654.3L680.9,657.5L671.6,661.3L666.2,666.7L667.0,674.5L671.6,680.7L674.7,684.5L670.8,690.7L668.5,696.9L665.4,704.6L661.5,709.5" fill="none" stroke="#000" stroke-width="2.6" stroke-linejoin="round" stroke-linecap="round"/>
<path d="M725.9,637.3L732.1,638.9L739.9,642.0L744.5,646.6L742.9,652.8L744.5,657.5L739.9,662.1L736.0,668.3L732.1,671.3L730.5,677.6L732.1,682.8L727.4,689.1L721.2,694.6L713.5,700.8L705.7,707.7L698.0,707.7L688.6,702.3L679.4,699.2L668.5,696.9" fill="none" stroke="#000" stroke-width="2.6" stroke-linejoin="round" stroke-linecap="round"/>
<path d="M742.9,642.0L752.3,638.0L760.0,634.2L769.2,633.4L778.5,635.7L786.2,638.9L795.6,638.0L801.7,638.9L812.6,637.3L823.5,636.5L828.1,632.6L831.2,626.5L834.5,618.4" fill="none" stroke="#000" stroke-width="2.6" stroke-linejoin="round" stroke-linecap="round"/>
<path d="M765.5,607.4L767.7,609.9L770.7,617.1L774.6,626.5L777.7,635.0" fill="none" stroke="#000" stroke-width="2.6" stroke-linejoin="round" stroke-linecap="round"/>
<path d="M740.6,663.4L750.7,670.7L756.9,666.7L763.0,663.7L770.7,667.2L780.1,669.0L787.0,665.9" fill="none" stroke="#000" stroke-width="2.6" stroke-linejoin="round" stroke-linecap="round"/>
<path d="M798.7,638.9L799.4,645.1L797.9,652.8L794.8,659.0L787.0,664.6L788.5,668.3L797.1,672.9L802.5,672.9" fill="none" stroke="#000" stroke-width="2.6" stroke-linejoin="round" stroke-linecap="round"/>
<path d="M750.7,670.7L755.4,677.6L761.4,679.9L766.9,686.0L767.7,693.8L773.0,701.5L770.0,707.7L767.7,714.0L775.4,720.5" fill="none" stroke="#000" stroke-width="2.6" stroke-linejoin="round" stroke-linecap="round"/>
<path d="M773.0,701.5L780.1,700.0L781.6,693.1L788.5,688.3L794.8,689.1L797.9,698.5L803.3,702.3" fill="none" stroke="#000" stroke-width="2.6" stroke-linejoin="round" stroke-linecap="round"/>
<path d="M802.5,672.9L803.3,676.8L804.8,686.0L804.0,695.4L803.3,702.3L804.8,710.1L802.7,715.5" fill="none" stroke="#000" stroke-width="2.6" stroke-linejoin="round" stroke-linecap="round"/>
<path d="M802.5,672.9L808.0,669.8L815.7,669.0L823.5,671.3L829.6,671.3" fill="none" stroke="#000" stroke-width="2.6" stroke-linejoin="round" stroke-linecap="round"/>
<path d="M846.5,639.1L839.0,643.5L831.2,645.8L830.4,654.3L831.2,663.6L829.6,671.3L835.9,672.9L842.1,679.1L840.5,684.8L839.0,686.0L845.1,688.3L854.5,684.5L862.2,681.4L866.2,681.4" fill="none" stroke="#000" stroke-width="2.6" stroke-linejoin="round" stroke-linecap="round"/>
<path d="M713.5,700.8L722.8,704.6L732.1,707.7L742.9,708.5L749.1,713.2L756.9,717.8L764.7,721.6L766.2,729.4L760.0,734.1L753.8,738.7L756.1,746.5L759.2,754.2L756.9,760.3L766.2,761.1L771.5,758.2L778.5,754.2L784.7,760.3L792.5,762.6L801.7,768.1L808.0,774.3L814.1,775.8L819.5,772.7L818.8,765.8L826.6,761.1L834.4,756.5L845.5,758.0" fill="none" stroke="#000" stroke-width="2.6" stroke-linejoin="round" stroke-linecap="round"/>
<path d="M766.2,729.4L773.8,729.4L775.4,721.6L783.2,715.5L794.0,711.6L801.7,715.5L812.6,715.5L820.4,720.1L825.0,727.9L829.6,734.1L835.0,735.1" fill="none" stroke="#000" stroke-width="2.6" stroke-linejoin="round" stroke-linecap="round"/>
<path d="M835.1,569.2L834.4,580.0L832.0,589.3L833.5,598.6L835.1,607.9L834.4,611.0" fill="none" stroke="#000" stroke-width="2.6" stroke-linejoin="round" stroke-linecap="round"/>
<path d="M794.8,576.9L803.3,577.7L806.4,582.3L803.3,585.5L808.0,589.3L815.7,586.3L823.5,587.8L825.8,591.6L821.9,597.0L814.1,601.6L809.5,606.4L812.6,611.0L811.1,617.1L809.5,620.2L815.7,618.7L823.5,614.1L834.4,610.2" fill="none" stroke="#000" stroke-width="2.6" stroke-linejoin="round" stroke-linecap="round"/>
<path d="M794.8,576.9L792.5,581.5L796.3,587.8L794.8,594.0L797.1,600.1L803.3,604.8L809.5,606.4" fill="none" stroke="#000" stroke-width="2.6" stroke-linejoin="round" stroke-linecap="round"/>
<path d="M776.0,589.3L781.6,594.0L790.1,594.0L794.8,594.0" fill="none" stroke="#000" stroke-width="2.6" stroke-linejoin="round" stroke-linecap="round"/>
<path d="M632.7,653.7L636.2,651.8L639.6,652.3L643.1,652.9L646.3,652.3L649.4,651.1L652.6,650.0L656.2,649.3L656.7,645.6L659.6,645.3L662.2,644.2L664.5,642.4L667.3,641.9L670.4,641.4L673.4,641.0L676.6,641.4L679.4,639.8L682.2,638.7L685.4,638.8L687.9,637.1L689.7,634.1L692.0,631.3L694.2,629.9L696.5,629.2L699.8,628.0L703.1,627.7L707.7,626.9L707.6,623.8L708.2,620.7L707.5,618.1L710.5,617.7L713.5,617.8L716.4,619.0L719.2,619.5L722.1,618.4L724.9,619.7L727.7,619.6L730.5,619.0L733.3,618.1L736.5,619.3L740.1,619.6L742.0,617.5L744.6,616.6L746.6,614.6L748.9,613.0L751.4,612.1L753.7,610.8L756.0,609.6L758.5,608.7L761.1,607.6L763.7,606.5L766.3,605.3L769.0,603.9L771.0,601.8L772.7,599.3L774.7,597.4L775.9,594.8L776.5,592.1L777.3,589.4L777.1,586.4L777.9,583.7L779.5,581.2L779.7,578.4L780.5,575.6L779.9,572.8L780.6,570.0L781.6,567.3L781.5,564.2L782.3,561.1L781.9,557.6L784.7,557.9L787.5,558.4L790.3,557.9L792.8,558.2L795.6,562.3L798.4,562.2L801.1,562.7L803.6,564.4L806.5,563.7L809.3,564.3L811.9,565.8L814.4,567.5L817.1,569.0L820.0,569.8L822.9,569.8L825.7,570.2L828.6,569.5L831.5,569.6L834.2,569.8L836.1,574.1L837.4,571.7L839.4,569.8L841.3,568.0L843.6,566.7L848.4,566.6L849.7,569.3L852.1,571.8L855.2,569.5L858.3,568.0L857.5,570.8L857.8,573.8L857.6,576.9L855.8,579.1L854.5,581.7L853.2,583.9L854.1,587.9L856.1,586.0L858.8,584.8L860.2,581.8L863.1,581.6L865.6,580.0L868.3,579.0L871.3,578.8L873.7,577.1L876.4,575.5L879.3,574.4L882.2,573.2L884.7,571.5L886.0,572.1L884.9,575.8L883.1,579.0L880.4,580.8L878.1,583.0L875.3,584.7L872.7,587.0L870.2,589.3L867.4,591.3L864.4,592.2L861.9,593.9L859.0,595.5L857.4,598.3L855.7,600.9L854.2,603.8L851.8,605.6L849.7,607.7L847.0,608.5L844.6,610.0L842.0,610.9L839.6,612.1L838.1,614.5L836.3,616.8L835.1,619.5L833.4,622.7L830.6,625.4L830.8,629.9L833.9,631.2L837.4,631.3L840.2,633.2L844.8,633.3L846.9,635.1L848.4,637.3L849.3,640.1L853.8,641.3L855.1,643.7L856.0,646.4L857.8,648.4L859.4,650.7L860.4,652.8L863.2,653.3L866.0,654.1L868.8,653.9L871.7,654.4L874.7,653.5L877.6,653.7L880.6,654.2L883.4,653.8L886.2,653.5L888.4,653.4L890.1,656.5L891.0,659.7L892.7,661.8L893.7,664.3L895.4,666.4L896.7,668.7L898.2,670.2L901.3,670.2L904.4,670.7L907.1,670.9L907.7,674.7L906.9,678.7L908.5,681.4L909.8,684.1L910.5,686.8L910.0,689.6L908.4,691.9L907.3,694.1L904.6,695.4L901.9,696.7L899.2,698.0L896.2,698.3L893.6,699.8L890.5,700.5L888.5,697.8L886.6,694.9L884.1,692.7L882.3,689.4L880.8,685.7L878.2,684.9L876.0,683.4L873.8,681.6L870.5,682.2L867.5,682.9L865.5,686.1L863.3,689.6L864.9,693.2L865.1,697.0L866.1,700.1L864.8,703.2L865.3,706.1L863.0,708.0L860.0,708.7L857.7,710.4L855.9,712.5L854.5,714.9L853.1,717.3L851.3,719.7L852.3,722.6L852.2,725.3L851.6,728.0L851.3,731.4L848.1,731.7L845.0,732.4L841.9,733.4L838.4,732.9L835.8,731.8L833.9,734.9L833.5,738.3L836.9,740.0L840.2,741.7L843.0,744.0L845.5,746.0L845.8,749.1L846.2,752.3L846.9,755.4L847.1,758.1L849.6,758.9L851.8,760.7L854.7,760.5L857.0,762.0L858.9,764.6L861.7,766.3L863.7,768.5L866.5,767.4L869.6,767.0L872.3,765.5L875.4,763.6L878.7,761.1L877.5,763.8L877.7,766.6L877.5,769.3L876.8,772.2L877.5,774.7L877.9,777.2L878.8,779.7L879.2,782.1L879.5,785.0L879.1,787.8L878.5,790.5L878.7,793.4L878.8,796.3L878.0,798.9L875.6,800.3L874.0,801.9L871.1,802.0L868.9,800.8L866.9,802.7L864.7,804.2L862.1,805.3L860.5,807.5L859.5,810.3L858.4,813.2L857.1,815.9L855.2,818.0L853.8,820.5L851.6,822.8L850.3,820.6L848.9,818.3L848.2,815.5L845.5,812.9L842.5,813.9L840.3,816.4L837.3,816.0L834.7,817.3L831.9,817.2L829.0,816.5L826.0,815.9L823.1,814.7L821.1,812.1L818.4,810.8L818.3,807.4L818.4,804.3L815.5,803.8L812.7,804.1L809.6,804.6L807.8,802.3L805.3,800.9L803.1,798.6L800.7,799.8L798.1,800.3L795.8,802.0L793.4,802.2L791.6,800.0L790.2,797.6L788.5,795.3L786.5,793.4L784.8,791.1L783.4,788.8L781.9,785.6L781.4,782.2L782.3,778.9L782.6,775.4L783.1,772.0L780.3,768.2L776.5,769.6L774.2,772.2L771.6,774.1L768.6,775.1L766.2,773.9L764.9,771.4L762.4,770.2L760.5,768.5L758.4,766.4L755.6,766.6L752.9,767.9L750.0,767.7L747.3,768.9L744.4,769.4L741.6,770.7L738.7,769.7L735.8,770.4L732.8,770.3L729.8,769.7L727.3,770.4L724.9,771.7L722.3,772.1L719.9,772.5L716.9,772.0L714.0,770.9L711.6,768.9L708.9,768.6L706.8,766.7L704.5,765.5L702.1,764.5L699.6,763.6L697.5,761.8L695.2,760.7L692.4,760.4L690.6,758.2L688.1,757.4L685.7,755.9L683.4,754.1L681.3,752.3L679.9,749.7L678.0,747.6L675.6,745.9L673.6,744.0L671.5,741.9L670.5,738.9L668.9,736.1L667.3,733.6L665.3,731.1L663.6,728.4L660.5,726.5L660.6,723.1L660.5,719.7L659.8,716.3L660.3,712.7L661.1,709.7L659.3,707.6L658.2,704.7L656.2,702.8L653.5,700.3L651.1,697.5L648.3,696.0L645.9,694.0L644.4,691.6L643.6,688.6L643.5,685.4L642.2,682.4L642.3,679.3L642.6,675.9L640.5,673.8L637.6,672.7L635.4,670.2L636.4,667.8L638.4,665.7L637.4,663.2L635.6,661.2L633.7,659.1Z" fill="none" stroke="#000" stroke-width="3.2" stroke-linejoin="round"/>
<rect x="616.0" y="522.7" width="309.6" height="320.8" fill="none" stroke="#000" stroke-width="3.2"/>
<path d="M616.0,520.0v3M616.0,846.2v-3M660.2,520.0v3M660.2,846.2v-3M704.5,520.0v3M704.5,846.2v-3M748.7,520.0v3M748.7,846.2v-3M792.9,520.0v3M792.9,846.2v-3M837.1,520.0v3M837.1,846.2v-3M881.4,520.0v3M881.4,846.2v-3M925.6,520.0v3M925.6,846.2v-3M613.3,843.5h3M928.3,843.5h-3M613.3,791.6h3M928.3,791.6h-3M613.3,739.0h3M928.3,739.0h-3M613.3,685.9h3M928.3,685.9h-3M613.3,632.2h3M928.3,632.2h-3M613.3,577.8h3M928.3,577.8h-3M613.3,522.7h3M928.3,522.7h-3" stroke="#000" stroke-width="2"/>
<text x="606.2" y="851.0" text-anchor="end" font-family='"Liberation Sans", sans-serif' font-size="17" fill="#262626">31°N</text>
<text x="606.2" y="797.1" text-anchor="end" font-family='"Liberation Sans", sans-serif' font-size="17" fill="#262626">32°N</text>
<text x="606.2" y="744.7" text-anchor="end" font-family='"Liberation Sans", sans-serif' font-size="17" fill="#262626">33°N</text>
<text x="606.2" y="692.4" text-anchor="end" font-family='"Liberation Sans", sans-serif' font-size="17" fill="#262626">34°N</text>
<text x="606.2" y="640.0" text-anchor="end" font-family='"Liberation Sans", sans-serif' font-size="17" fill="#262626">35°N</text>
<text x="606.2" y="586.0" text-anchor="end" font-family='"Liberation Sans", sans-serif' font-size="17" fill="#262626">36°N</text>
<text x="606.2" y="531.0" text-anchor="end" font-family='"Liberation Sans", sans-serif' font-size="17" fill="#262626">37°N</text>
<text x="616.0" y="865.7" text-anchor="middle" font-family='"Liberation Sans", sans-serif' font-size="17" fill="#262626">110°E</text>
<text x="704.5" y="865.7" text-anchor="middle" font-family='"Liberation Sans", sans-serif' font-size="17" fill="#262626">112°E</text>
<text x="792.9" y="865.7" text-anchor="middle" font-family='"Liberation Sans", sans-serif' font-size="17" fill="#262626">114°E</text>
<text x="881.4" y="865.7" text-anchor="middle" font-family='"Liberation Sans", sans-serif' font-size="17" fill="#262626">116°E</text>
<text x="648.9" y="562.5" font-family='"Liberation Serif", serif' font-size="33.4">(d)</text>
</g>
</svg></body></html>
